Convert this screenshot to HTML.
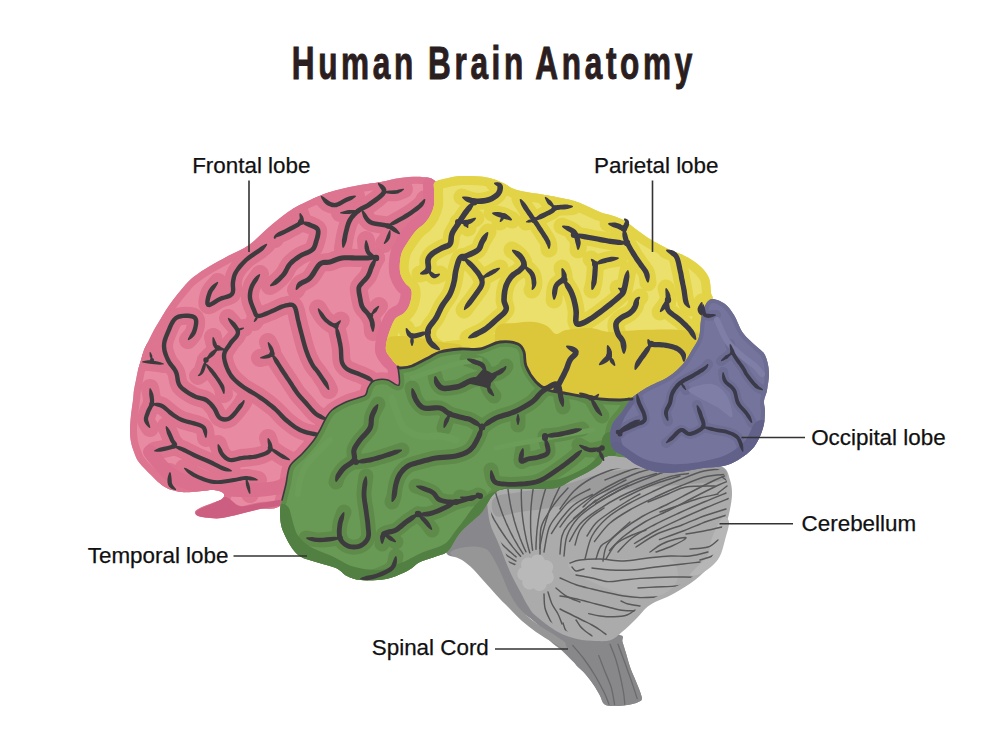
<!DOCTYPE html>
<html><head><meta charset="utf-8"><title>Human Brain Anatomy</title>
<style>
html,body{margin:0;padding:0;background:#fff;}
body{width:1000px;height:750px;overflow:hidden;position:relative;font-family:"Liberation Sans",sans-serif;}
svg{position:absolute;left:0;top:0;}
</style></head><body>
<svg width="1000" height="750" viewBox="0 0 1000 750">
<path d="M462.0,492.0 C452.3,495.3 454.7,510.0 452.0,520.0 C449.3,530.0 444.5,545.7 446.0,552.0 C447.5,558.3 456.5,555.7 461.0,558.0 C465.5,560.3 469.0,562.5 473.0,566.0 C477.0,569.5 480.8,574.5 485.0,579.0 C489.2,583.5 493.5,588.5 498.0,593.0 C502.5,597.5 507.2,602.2 512.0,606.0 C516.8,609.8 522.5,612.7 527.0,616.0 C531.5,619.3 535.2,621.8 539.0,626.0 C542.8,630.2 546.3,637.0 550.0,641.0 C553.7,645.0 557.5,646.6 561.3,650.0 C565.1,653.4 568.9,657.5 572.7,661.3 C576.5,665.1 580.6,668.8 584.0,672.6 C587.4,676.4 590.4,680.2 593.0,684.0 C595.6,687.8 597.9,691.8 599.8,695.2 C601.7,698.6 602.1,702.5 604.4,704.3 C606.7,706.1 609.6,705.9 613.4,706.0 C617.2,706.1 622.8,705.7 627.0,705.0 C631.2,704.3 635.9,703.2 638.4,702.0 C640.9,700.8 642.2,700.9 641.8,697.5 C641.4,694.1 637.9,686.5 636.0,681.6 C634.1,676.7 632.1,672.7 630.4,668.0 C628.7,663.3 627.3,657.6 626.0,653.3 C624.7,649.0 623.5,645.0 622.5,642.0 C621.5,639.0 624.0,638.0 620.2,635.2 C616.5,632.4 613.4,637.5 600.0,625.0 C586.6,612.5 555.0,580.8 540.0,560.0 C525.0,539.2 523.0,511.3 510.0,500.0 C497.0,488.7 471.7,488.7 462.0,492.0Z" fill="#88878c" />
<path d="M452.0,551.0 C453.5,549.8 456.3,548.8 460.0,548.0 C463.7,547.2 469.7,546.3 474.0,546.5 C478.3,546.7 483.0,547.4 486.0,549.0 C489.0,550.6 490.0,553.0 492.0,556.0 C494.0,559.0 496.2,563.3 498.0,567.0 C499.8,570.7 501.3,574.2 503.0,578.0 C504.7,581.8 505.8,585.7 508.0,590.0 C510.2,594.3 513.0,599.8 516.0,604.0 C519.0,608.2 522.0,611.3 526.0,615.0 C530.0,618.7 535.0,622.5 540.0,626.0 C545.0,629.5 551.3,632.8 556.0,636.0 C560.7,639.2 566.3,642.7 568.0,645.0 C569.7,647.3 568.7,650.5 566.0,650.0 C563.3,649.5 557.0,645.0 552.0,642.0 C547.0,639.0 541.0,635.5 536.0,632.0 C531.0,628.5 526.3,624.8 522.0,621.0 C517.7,617.2 513.7,612.7 510.0,609.0 C506.3,605.3 503.2,602.3 500.0,599.0 C496.8,595.7 494.0,592.3 491.0,589.0 C488.0,585.7 485.0,582.3 482.0,579.0 C479.0,575.7 476.3,572.2 473.0,569.0 C469.7,565.8 465.7,562.3 462.0,560.0 C458.3,557.7 452.7,556.5 451.0,555.0 C449.3,553.5 450.5,552.2 452.0,551.0Z" fill="#969697" />
<path d="M566.0,640.0 C568.7,636.5 581.0,641.8 590.0,641.0 C599.0,640.2 614.8,635.0 620.2,635.2 C625.6,635.4 621.5,639.0 622.5,642.0 C623.5,645.0 624.7,649.0 626.0,653.3 C627.3,657.6 628.7,663.3 630.4,668.0 C632.1,672.7 634.1,676.7 636.0,681.6 C637.9,686.5 641.4,694.1 641.8,697.5 C642.2,700.9 640.9,700.8 638.4,702.0 C635.9,703.2 631.2,704.3 627.0,705.0 C622.8,705.7 617.2,706.1 613.4,706.0 C609.6,705.9 606.7,706.1 604.4,704.3 C602.1,702.5 601.7,698.6 599.8,695.2 C597.9,691.8 595.6,687.8 593.0,684.0 C590.4,680.2 587.2,676.3 584.0,672.6 C580.8,668.9 577.0,667.4 574.0,662.0 C571.0,656.6 563.3,643.5 566.0,640.0Z" fill="#88888a" />
<path d="M488.0,480.0 C493.5,475.0 508.0,473.0 520.0,470.0 C532.0,467.0 546.0,465.0 560.0,462.0 C574.0,459.0 590.7,452.7 604.0,452.0 C617.3,451.3 624.0,456.0 640.0,458.0 C656.0,460.0 686.2,462.5 700.0,464.0 C713.8,465.5 718.0,464.3 723.0,467.0 C728.0,469.7 728.5,475.3 730.0,480.0 C731.5,484.7 732.2,489.3 732.0,495.0 C731.8,500.7 730.2,508.5 729.0,514.0 C727.8,519.5 726.5,522.7 725.0,528.0 C723.5,533.3 722.2,540.2 720.0,546.0 C717.8,551.8 716.2,557.3 712.0,563.0 C707.8,568.7 701.5,574.8 695.0,580.0 C688.5,585.2 680.5,589.8 673.0,594.0 C665.5,598.2 656.2,600.8 650.0,605.0 C643.8,609.2 640.7,614.5 636.0,619.0 C631.3,623.5 626.2,628.5 622.0,632.0 C617.8,635.5 615.3,638.5 611.0,640.0 C606.7,641.5 601.7,641.2 596.0,641.0 C590.3,640.8 583.3,640.5 577.0,639.0 C570.7,637.5 564.8,635.8 558.0,632.0 C551.2,628.2 541.0,620.3 536.0,616.0 C531.0,611.7 530.5,609.8 528.0,606.0 C525.5,602.2 523.3,597.3 521.0,593.0 C518.7,588.7 516.2,584.3 514.0,580.0 C511.8,575.7 510.0,571.7 508.0,567.0 C506.0,562.3 503.8,556.5 502.0,552.0 C500.2,547.5 499.0,544.8 497.0,540.0 C495.0,535.2 491.7,529.7 490.0,523.0 C488.3,516.3 487.3,507.2 487.0,500.0 C486.7,492.8 482.5,485.0 488.0,480.0Z" fill="#ababab" />
<path d="M494.0,498.0 C498.0,494.0 509.0,494.0 520.0,492.0 C531.0,490.0 546.7,489.0 560.0,486.0 C573.3,483.0 586.7,477.0 600.0,474.0 C613.3,471.0 623.3,469.0 640.0,468.0 C656.7,467.0 686.2,468.0 700.0,468.0 C713.8,468.0 719.0,466.0 723.0,468.0 C727.0,470.0 729.5,477.3 724.0,480.0 C718.5,482.7 704.0,482.7 690.0,484.0 C676.0,485.3 655.0,486.3 640.0,488.0 C625.0,489.7 613.3,491.0 600.0,494.0 C586.7,497.0 573.3,503.0 560.0,506.0 C546.7,509.0 530.7,510.3 520.0,512.0 C509.3,513.7 500.3,518.3 496.0,516.0 C491.7,513.7 490.0,502.0 494.0,498.0Z" fill="#9c9c9d" />
<path d="M570.0,561.0 C573.3,558.8 583.0,558.3 592.0,558.0 C601.0,557.7 613.3,559.2 624.0,559.0 C634.7,558.8 648.0,556.8 656.0,557.0 C664.0,557.2 668.3,557.0 672.0,560.0 C675.7,563.0 678.0,570.3 678.0,575.0 C678.0,579.7 675.7,584.5 672.0,588.0 C668.3,591.5 664.0,595.0 656.0,596.0 C648.0,597.0 634.7,596.3 624.0,594.0 C613.3,591.7 600.7,585.8 592.0,582.0 C583.3,578.2 575.7,574.5 572.0,571.0 C568.3,567.5 566.7,563.2 570.0,561.0Z" fill="#b1b1b1" />
<path d="M722.0,518.0 C724.8,515.3 728.5,518.3 729.0,522.0 C729.5,525.7 726.5,534.3 725.0,540.0 C723.5,545.7 722.2,551.7 720.0,556.0 C717.8,560.3 715.3,563.0 712.0,566.0 C708.7,569.0 703.7,572.5 700.0,574.0 C696.3,575.5 690.3,576.3 690.0,575.0 C689.7,573.7 695.0,569.3 698.0,566.0 C701.0,562.7 705.7,559.7 708.0,555.0 C710.3,550.3 709.7,544.2 712.0,538.0 C714.3,531.8 719.2,520.7 722.0,518.0Z" fill="#b6b6b6" />
<g fill="#b9b9b9"><circle cx="536" cy="573" r="11"/><circle cx="537.7" cy="561.6" r="7.2"/><circle cx="546.0" cy="567.3" r="7.2"/><circle cx="546.7" cy="577.2" r="7.2"/><circle cx="539.4" cy="584.0" r="7.2"/><circle cx="529.5" cy="582.5" r="7.2"/><circle cx="524.5" cy="573.9" r="7.2"/><circle cx="528.2" cy="564.6" r="7.2"/></g>
<clipPath id="cbclip"><path d="M488.0,494.0 C493.0,490.8 508.0,488.3 520.0,486.0 C532.0,483.7 546.0,482.7 560.0,480.0 C574.0,477.3 590.7,472.0 604.0,470.0 C617.3,468.0 624.0,468.3 640.0,468.0 C656.0,467.7 686.7,467.7 700.0,468.0 C713.3,468.3 715.5,467.7 720.0,470.0 C724.5,472.3 725.5,477.8 727.0,482.0 C728.5,486.2 729.2,489.7 729.0,495.0 C728.8,500.3 727.2,508.5 726.0,514.0 C724.8,519.5 723.5,522.7 722.0,528.0 C720.5,533.3 719.2,540.5 717.0,546.0 C714.8,551.5 713.2,555.8 709.0,561.0 C704.8,566.2 698.5,572.2 692.0,577.0 C685.5,581.8 677.5,585.8 670.0,590.0 C662.5,594.2 653.2,597.7 647.0,602.0 C640.8,606.3 637.5,611.7 633.0,616.0 C628.5,620.3 623.8,624.7 620.0,628.0 C616.2,631.3 614.0,634.5 610.0,636.0 C606.0,637.5 601.3,637.2 596.0,637.0 C590.7,636.8 584.0,636.5 578.0,635.0 C572.0,633.5 566.3,631.5 560.0,628.0 C553.7,624.5 544.8,617.8 540.0,614.0 C535.2,610.2 533.7,608.5 531.0,605.0 C528.3,601.5 526.3,597.2 524.0,593.0 C521.7,588.8 519.2,584.3 517.0,580.0 C514.8,575.7 513.0,571.7 511.0,567.0 C509.0,562.3 506.8,556.5 505.0,552.0 C503.2,547.5 502.0,544.8 500.0,540.0 C498.0,535.2 494.7,528.8 493.0,523.0 C491.3,517.2 490.8,509.8 490.0,505.0 C489.2,500.2 483.0,497.2 488.0,494.0Z"/></clipPath>
<g clip-path="url(#cbclip)" fill="none" stroke="#58585a" stroke-width="1.45" stroke-linecap="round">
<path d="M514.9,564.5 L512.2,563.3 L509.4,562.1 L506.7,560.9 L504.0,559.6 L501.3,558.3 L498.6,556.9 L496.0,555.5 L493.3,554.1 L490.7,552.6 L488.1,551.1 L485.6,549.5 L483.0,547.9 L480.5,546.3 L478.0,544.6 L475.6,542.9 L473.1,541.2 L470.7,539.4 L468.3,537.6 L465.9,535.7 L463.6,533.9 L461.3,531.9 L459.0,530.0 L456.8,528.0 L454.5,526.0 L452.3,524.0 L450.2,521.9 L448.0,519.8 L445.9,517.6 L443.9,515.5 L441.8,513.3 L439.8,511.0 L437.8,508.8 L435.9,506.5 L434.0,504.2 L432.1,501.8 L430.3,499.4"/>
<path d="M515.9,561.1 L513.3,559.6 L510.8,558.0 L508.3,556.4 L505.8,554.7 L503.3,553.0 L500.9,551.2 L498.4,549.4 L496.1,547.6 L493.7,545.8 L491.4,543.9 L489.0,542.0 L486.8,540.0 L484.5,538.0 L482.3,536.0 L480.1,534.0 L478.0,531.9 L475.8,529.8 L473.7,527.6 L471.7,525.5 L469.6,523.3 L467.6,521.0 L465.7,518.8 L463.7,516.5 L461.8,514.2 L459.9,511.8 L458.1,509.4 L456.3,507.0 L454.6,504.6 L452.8,502.1 L451.1,499.7 L449.5,497.2 L447.9,494.6 L446.3,492.1 L444.7,489.5 L443.2,486.9 L441.8,484.3"/>
<path d="M516.1,556.9 L513.8,555.0 L511.6,553.0 L509.3,551.1 L507.1,549.0 L504.9,547.0 L502.8,544.9 L500.6,542.8 L498.5,540.6 L496.5,538.5 L494.4,536.2 L492.5,534.0 L490.5,531.7 L488.6,529.4 L486.7,527.1 L484.8,524.8 L483.0,522.4 L481.2,520.0 L479.4,517.6 L477.7,515.1 L476.0,512.6 L474.4,510.1 L472.7,507.6 L471.2,505.0 L469.6,502.5 L468.1,499.9 L466.7,497.2 L465.2,494.6 L463.9,491.9 L462.5,489.3 L461.2,486.6 L459.9,483.8 L458.7,481.1 L457.5,478.3 L456.4,475.6 L455.3,472.8 L454.2,470.0"/>
<path d="M520.6,556.2 L518.6,554.0 L516.6,551.7 L514.7,549.4 L512.8,547.1 L511.0,544.7 L509.1,542.3 L507.4,539.9 L505.6,537.5 L503.9,535.0 L502.2,532.5 L500.6,530.0 L498.9,527.5 L497.4,524.9 L495.8,522.4 L494.3,519.8 L492.9,517.1 L491.5,514.5 L490.1,511.8 L488.7,509.1 L487.4,506.4 L486.2,503.7 L485.0,501.0 L483.8,498.2 L482.6,495.4 L481.5,492.7 L480.5,489.9 L479.5,487.0 L478.5,484.2 L477.6,481.3 L476.7,478.5 L475.8,475.6 L475.0,472.7 L474.2,469.8 L473.5,466.9 L472.8,464.0 L472.2,461.0"/>
<path d="M523.1,553.9 L521.5,551.4 L519.9,548.8 L518.3,546.3 L516.8,543.7 L515.3,541.1 L513.8,538.5 L512.4,535.8 L511.0,533.2 L509.7,530.5 L508.4,527.8 L507.2,525.1 L505.9,522.3 L504.8,519.5 L503.6,516.8 L502.5,514.0 L501.5,511.2 L500.5,508.3 L499.5,505.5 L498.6,502.7 L497.7,499.8 L496.8,496.9 L496.0,494.0 L495.3,491.1 L494.5,488.2 L493.9,485.3 L493.2,482.3 L492.7,479.4 L492.1,476.5 L491.6,473.5 L491.1,470.5 L490.7,467.6 L490.4,464.6 L490.0,461.6 L489.7,458.6 L489.5,455.6 L489.3,452.6"/>
<path d="M525.9,551.8 L524.6,549.0 L523.4,546.3 L522.2,543.5 L521.1,540.8 L520.0,538.0 L519.0,535.1 L518.0,532.3 L517.0,529.5 L516.1,526.6 L515.2,523.8 L514.3,520.9 L513.6,518.0 L512.8,515.1 L512.1,512.2 L511.4,509.2 L510.8,506.3 L510.2,503.4 L509.7,500.4 L509.2,497.5 L508.7,494.5 L508.3,491.5 L507.9,488.5 L507.6,485.6 L507.3,482.6 L507.1,479.6 L506.9,476.6 L506.8,473.6 L506.7,470.6 L506.6,467.6 L506.6,464.6 L506.6,461.6 L506.7,458.6 L506.8,455.6 L507.0,452.6 L507.2,449.6 L507.4,446.6"/>
<path d="M529.8,552.8 L529.0,549.9 L528.2,547.0 L527.5,544.1 L526.7,541.2 L526.1,538.3 L525.5,535.4 L524.9,532.4 L524.3,529.5 L523.9,526.5 L523.4,523.5 L523.0,520.6 L522.6,517.6 L522.3,514.6 L522.0,511.6 L521.8,508.6 L521.6,505.6 L521.5,502.6 L521.4,499.6 L521.3,496.6 L521.3,493.6 L521.4,490.6 L521.4,487.6 L521.6,484.6 L521.7,481.6 L521.9,478.7 L522.2,475.7 L522.5,472.7 L522.8,469.7 L523.2,466.7 L523.6,463.8 L524.1,460.8 L524.6,457.8 L525.2,454.9 L525.8,451.9 L526.4,449.0 L527.1,446.1"/>
<path d="M532.6,550.2 L532.2,547.2 L531.8,544.2 L531.5,541.2 L531.3,538.3 L531.0,535.3 L530.8,532.3 L530.7,529.3 L530.6,526.3 L530.6,523.3 L530.6,520.3 L530.6,517.3 L530.7,514.3 L530.8,511.3 L531.0,508.3 L531.2,505.3 L531.5,502.3 L531.8,499.3 L532.1,496.3 L532.5,493.4 L532.9,490.4 L533.4,487.4 L533.9,484.5 L534.5,481.5 L535.1,478.6 L535.7,475.7 L536.4,472.7 L537.2,469.8 L537.9,466.9 L538.8,464.1 L539.6,461.2 L540.5,458.3 L541.5,455.5 L542.5,452.6 L543.5,449.8 L544.6,447.0 L545.7,444.2"/>
<path d="M536.0,549.2 L536.0,546.2 L536.1,543.2 L536.3,540.2 L536.4,537.2 L536.7,534.2 L536.9,531.3 L537.2,528.3 L537.6,525.3 L538.0,522.3 L538.4,519.3 L538.9,516.4 L539.4,513.4 L540.0,510.5 L540.6,507.5 L541.3,504.6 L542.0,501.7 L542.7,498.8 L543.5,495.9 L544.3,493.0 L545.2,490.1 L546.1,487.3 L547.0,484.4 L548.0,481.6 L549.1,478.8 L550.1,476.0 L551.2,473.2 L552.4,470.4 L553.6,467.7 L554.8,465.0 L556.1,462.2 L557.4,459.5 L558.8,456.9 L560.2,454.2 L561.6,451.6 L563.1,449.0 L564.6,446.4"/>
<path d="M539.7,548.5 L540.1,545.6 L540.7,542.6 L541.3,539.7 L541.9,536.7 L542.5,533.8 L543.2,530.9 L544.0,528.0 L544.8,525.1 L545.6,522.2 L546.5,519.3 L547.4,516.5 L548.3,513.6 L549.3,510.8 L550.4,508.0 L551.4,505.2 L552.6,502.4 L553.7,499.6 L554.9,496.9 L556.2,494.2 L557.5,491.4 L558.8,488.7 L560.1,486.1 L561.5,483.4 L563.0,480.8 L564.5,478.2 L566.0,475.6 L567.5,473.0 L569.1,470.5 L570.7,468.0 L572.4,465.5 L574.1,463.0 L575.8,460.5 L577.6,458.1 L579.4,455.7 L581.3,453.4 L583.1,451.0"/>
<path d="M560.0,509.0 C562.3,506.0 568.7,496.2 574.0,491.0 C579.3,485.8 585.3,481.7 592.0,478.0 C598.7,474.3 608.2,471.0 614.0,469.0 C619.8,467.0 624.8,466.5 627.0,466.0"/>
<path d="M560.0,527.0 C561.8,524.7 566.5,517.5 571.0,513.0 C575.5,508.5 581.0,504.3 587.0,500.0 C593.0,495.7 599.5,491.2 607.0,487.0 C614.5,482.8 624.2,478.2 632.0,475.0 C639.8,471.8 650.3,469.2 654.0,468.0"/>
<path d="M564.0,556.0 C564.5,552.7 564.7,542.3 567.0,536.0 C569.3,529.7 573.2,523.3 578.0,518.0 C582.8,512.7 589.3,508.5 596.0,504.0 C602.7,499.5 610.2,495.0 618.0,491.0 C625.8,487.0 634.7,483.3 643.0,480.0 C651.3,476.7 660.8,473.0 668.0,471.0 C675.2,469.0 683.0,468.5 686.0,468.0"/>
<path d="M585.0,559.0 C586.2,555.2 588.3,542.8 592.0,536.0 C595.7,529.2 601.0,523.3 607.0,518.0 C613.0,512.7 620.2,508.5 628.0,504.0 C635.8,499.5 645.5,495.0 654.0,491.0 C662.5,487.0 670.7,483.3 679.0,480.0 C687.3,476.7 696.8,472.8 704.0,471.0 C711.2,469.2 719.0,469.3 722.0,469.0"/>
<path d="M603.0,561.0 C603.7,558.3 604.0,550.0 607.0,545.0 C610.0,540.0 615.0,535.8 621.0,531.0 C627.0,526.2 635.2,520.5 643.0,516.0 C650.8,511.5 659.7,508.2 668.0,504.0 C676.3,499.8 685.2,495.0 693.0,491.0 C700.8,487.0 709.3,482.7 715.0,480.0 C720.7,477.3 725.0,475.8 727.0,475.0"/>
<path d="M618.0,552.0 C620.3,549.7 626.0,542.5 632.0,538.0 C638.0,533.5 646.2,529.2 654.0,525.0 C661.8,520.8 670.7,516.8 679.0,513.0 C687.3,509.2 696.2,505.3 704.0,502.0 C711.8,498.7 722.3,494.5 726.0,493.0"/>
<path d="M636.0,547.0 C639.5,544.8 649.3,537.7 657.0,534.0 C664.7,530.3 674.2,528.0 682.0,525.0 C689.8,522.0 696.7,518.7 704.0,516.0 C711.3,513.3 722.3,510.2 726.0,509.0"/>
<path d="M648.0,502.0 C651.3,500.7 661.7,496.5 668.0,494.0 C674.3,491.5 678.2,488.3 686.0,487.0 C693.8,485.7 710.2,486.2 715.0,486.0"/>
<path d="M686.0,534.0 C689.0,533.5 698.0,532.2 704.0,531.0 C710.0,529.8 719.0,527.7 722.0,527.0"/>
<path d="M690.0,549.0 C693.0,548.7 703.3,548.5 708.0,547.0 C712.7,545.5 716.3,541.2 718.0,540.0"/>
<path d="M605.0,480.0 C608.8,478.5 621.2,473.3 628.0,471.0 C634.8,468.7 643.0,466.8 646.0,466.0"/>
<path d="M718.0,493.0 C719.5,491.8 725.5,487.2 727.0,486.0"/>
<path d="M722.0,477.0 C723.2,477.8 727.8,481.2 729.0,482.0"/>
<path d="M544.0,552.0 C544.8,548.0 546.5,534.5 549.0,528.0 C551.5,521.5 555.2,517.8 559.0,513.0 C562.8,508.2 566.8,503.0 572.0,499.0 C577.2,495.0 587.0,490.7 590.0,489.0"/>
<path d="M583.0,507.0 C584.7,505.5 588.7,501.0 593.0,498.0 C597.3,495.0 603.5,492.0 609.0,489.0 C614.5,486.0 623.2,481.5 626.0,480.0"/>
<path d="M596.0,559.0 C596.8,556.8 598.5,549.3 601.0,546.0 C603.5,542.7 606.2,543.0 611.0,539.0 C615.8,535.0 626.8,524.8 630.0,522.0"/>
<path d="M650.0,552.0 C652.0,550.7 657.7,546.2 662.0,544.0 C666.3,541.8 672.0,540.0 676.0,539.0 C680.0,538.0 686.7,536.8 686.0,538.0 C685.3,539.2 677.0,543.7 672.0,546.0 C667.0,548.3 658.7,551.0 656.0,552.0"/>
<path d="M700.0,560.0 C702.0,559.3 708.3,557.8 712.0,556.0 C715.7,554.2 720.3,550.2 722.0,549.0"/>
<path d="M540.0,554.0 C540.2,549.7 539.5,535.0 541.0,528.0 C542.5,521.0 546.0,517.0 549.0,512.0 C552.0,507.0 555.8,502.0 559.0,498.0 C562.2,494.0 566.5,489.7 568.0,488.0"/>
<path d="M560.0,554.0 C560.3,551.0 560.7,540.8 562.0,536.0 C563.3,531.2 564.7,529.0 568.0,525.0 C571.3,521.0 577.3,516.2 582.0,512.0 C586.7,507.8 593.7,502.0 596.0,500.0"/>
<path d="M587.0,536.0 C588.5,533.8 592.3,526.8 596.0,523.0 C599.7,519.2 604.0,516.5 609.0,513.0 C614.0,509.5 620.8,505.2 626.0,502.0 C631.2,498.8 637.7,495.3 640.0,494.0"/>
<path d="M606.0,559.0 C607.7,556.5 612.0,547.8 616.0,544.0 C620.0,540.2 625.0,538.3 630.0,536.0 C635.0,533.7 643.3,531.0 646.0,530.0"/>
<path d="M575.0,545.0 C575.8,542.5 577.5,534.5 580.0,530.0 C582.5,525.5 586.0,521.7 590.0,518.0 C594.0,514.3 601.7,509.7 604.0,508.0"/>
<path d="M620.0,500.0 C623.3,498.3 633.3,493.0 640.0,490.0 C646.7,487.0 653.3,484.3 660.0,482.0 C666.7,479.7 676.7,477.0 680.0,476.0"/>
<path d="M660.0,512.0 C663.3,510.8 673.3,507.3 680.0,505.0 C686.7,502.7 693.7,499.8 700.0,498.0 C706.3,496.2 715.0,494.7 718.0,494.0"/>
<path d="M573.5,518.5 C576.2,516.3 583.5,509.8 589.5,505.5 C595.5,501.2 602.0,496.7 609.5,492.5 C617.0,488.3 626.7,483.7 634.5,480.5 C642.3,477.3 652.8,474.7 656.5,473.5"/>
<path d="M569.5,541.5 C571.3,538.5 575.7,528.8 580.5,523.5 C585.3,518.2 591.8,514.0 598.5,509.5 C605.2,505.0 612.7,500.5 620.5,496.5 C628.3,492.5 637.2,488.8 645.5,485.5 C653.8,482.2 663.3,478.5 670.5,476.5 C677.7,474.5 685.5,474.0 688.5,473.5"/>
<path d="M594.5,541.5 C597.0,538.5 603.5,528.8 609.5,523.5 C615.5,518.2 622.7,514.0 630.5,509.5 C638.3,505.0 648.0,500.5 656.5,496.5 C665.0,492.5 673.2,488.8 681.5,485.5 C689.8,482.2 699.3,478.3 706.5,476.5 C713.7,474.7 721.5,474.8 724.5,474.5"/>
<path d="M609.5,550.5 C611.8,548.2 617.5,541.3 623.5,536.5 C629.5,531.7 637.7,526.0 645.5,521.5 C653.3,517.0 662.2,513.7 670.5,509.5 C678.8,505.3 687.7,500.5 695.5,496.5 C703.3,492.5 711.8,488.2 717.5,485.5 C723.2,482.8 727.5,481.3 729.5,480.5"/>
<path d="M634.5,543.5 C638.2,541.3 648.7,534.7 656.5,530.5 C664.3,526.3 673.2,522.3 681.5,518.5 C689.8,514.7 698.7,510.8 706.5,507.5 C714.3,504.2 724.8,500.0 728.5,498.5"/>
<path d="M659.5,539.5 C663.7,538.0 676.7,533.5 684.5,530.5 C692.3,527.5 699.2,524.2 706.5,521.5 C713.8,518.8 724.8,515.7 728.5,514.5"/>
<path d="M551.5,533.5 C553.2,531.0 557.7,523.3 561.5,518.5 C565.3,513.7 569.3,508.5 574.5,504.5 C579.7,500.5 589.5,496.2 592.5,494.5"/>
<path d="M595.5,503.5 C598.2,502.0 606.0,497.5 611.5,494.5 C617.0,491.5 625.7,487.0 628.5,485.5"/>
<path d="M570.0,563.0 C571.7,562.5 575.0,560.7 580.0,560.0 C585.0,559.3 592.7,558.8 600.0,559.0 C607.3,559.2 616.0,561.2 624.0,561.0 C632.0,560.8 640.3,558.8 648.0,558.0 C655.7,557.2 663.0,556.3 670.0,556.0 C677.0,555.7 683.7,556.7 690.0,556.0 C696.3,555.3 705.0,552.7 708.0,552.0"/>
<path d="M572.0,567.0 C572.7,567.7 574.0,570.7 576.0,571.0 C578.0,571.3 582.7,569.3 584.0,569.0"/>
<path d="M592.0,568.0 C595.0,568.3 603.3,569.7 610.0,570.0 C616.7,570.3 624.3,570.5 632.0,570.0 C639.7,569.5 647.5,568.0 656.0,567.0 C664.5,566.0 675.7,564.8 683.0,564.0 C690.3,563.2 697.2,562.3 700.0,562.0"/>
<path d="M576.0,575.0 C578.7,575.5 586.7,576.9 592.0,578.0 C597.3,579.1 602.7,581.3 608.0,581.6 C613.3,581.9 618.7,580.5 624.0,580.0 C629.3,579.5 632.0,578.9 640.0,578.4 C648.0,577.9 662.2,577.2 672.0,577.0 C681.8,576.8 692.0,577.5 699.0,577.0 C706.0,576.5 711.5,574.5 714.0,574.0"/>
<path d="M638.0,588.0 C641.0,587.8 650.3,587.3 656.0,587.0 C661.7,586.7 665.3,587.0 672.0,586.4 C678.7,585.8 690.0,584.3 696.0,583.2 C702.0,582.1 706.0,580.5 708.0,580.0"/>
<path d="M560.0,578.0 C562.7,579.1 570.7,583.0 576.0,584.8 C581.3,586.6 586.7,587.7 592.0,589.0 C597.3,590.3 602.7,591.6 608.0,592.8 C613.3,594.0 618.7,595.2 624.0,596.0 C629.3,596.8 634.7,597.4 640.0,597.6 C645.3,597.8 650.7,597.3 656.0,597.0 C661.3,596.7 666.3,596.8 672.0,596.0 C677.7,595.2 687.0,592.7 690.0,592.0"/>
<path d="M560.0,596.0 C562.0,596.3 568.0,597.2 572.0,598.0 C576.0,598.8 580.0,599.8 584.0,600.8 C588.0,601.8 592.0,603.0 596.0,604.0 C600.0,605.0 604.0,606.0 608.0,607.0 C612.0,608.0 615.7,609.3 620.0,610.0 C624.3,610.7 631.7,610.8 634.0,611.0"/>
<path d="M560.0,609.0 C561.3,609.7 565.3,611.7 568.0,613.0 C570.7,614.3 573.3,615.7 576.0,617.0 C578.7,618.3 581.3,619.7 584.0,621.0 C586.7,622.3 589.3,623.5 592.0,625.0 C594.7,626.5 597.7,628.4 600.0,630.0 C602.3,631.6 605.0,633.7 606.0,634.4"/>
<path d="M576.0,620.0 C576.7,621.0 578.7,624.3 580.0,626.0 C581.3,627.7 582.0,628.3 584.0,630.0 C586.0,631.7 590.7,635.0 592.0,636.0"/>
<path d="M563.0,623.0 C563.5,624.3 564.5,628.8 566.0,631.0 C567.5,633.2 571.0,635.2 572.0,636.0"/>
<path d="M588.8,613.6 C590.7,614.0 595.8,615.5 600.0,616.0 C604.2,616.5 609.5,617.0 614.0,616.8 C618.5,616.6 623.5,616.1 627.0,615.0 C630.5,613.9 633.7,610.8 635.0,610.0"/>
<path d="M621.0,601.0 C622.2,601.5 624.8,603.2 628.0,604.0 C631.2,604.8 638.0,605.7 640.0,606.0"/>
<path d="M548.0,592.0 C548.7,594.0 550.3,600.3 552.0,604.0 C553.7,607.7 556.3,610.7 558.0,614.0 C559.7,617.3 561.3,622.3 562.0,624.0"/>
<path d="M544.0,594.0 C544.2,596.3 544.0,603.7 545.0,608.0 C546.0,612.3 548.2,616.3 550.0,620.0 C551.8,623.7 555.0,628.3 556.0,630.0"/>
<path d="M556.0,588.0 C557.7,589.3 562.0,593.7 566.0,596.0 C570.0,598.3 577.7,601.0 580.0,602.0"/>
</g>
<g fill="none" stroke="#6a6a6c" stroke-width="1.3" stroke-linecap="round">
<path d="M572.7,645.4 C574.6,647.7 580.2,653.9 584.0,659.0 C587.8,664.1 591.9,670.3 595.3,676.0 C598.7,681.7 602.1,688.3 604.4,693.0 C606.7,697.7 608.2,702.4 609.0,704.3"/>
<path d="M598.7,655.6 C599.7,658.0 602.3,665.0 604.4,670.3 C606.5,675.6 609.5,681.6 611.2,687.3 C612.9,693.0 614.0,701.5 614.6,704.3"/>
<path d="M610.0,644.3 C611.0,646.8 614.0,653.7 615.7,659.0 C617.4,664.3 618.9,670.3 620.2,676.0 C621.5,681.7 622.8,688.3 623.6,693.0 C624.4,697.7 624.6,702.4 624.8,704.3"/>
<path d="M618.0,644.3 C619.1,647.3 622.5,656.2 624.8,662.4 C627.1,668.6 629.5,675.6 631.6,681.6 C633.7,687.6 636.3,695.8 637.2,698.6"/>
</g>
<clipPath id="cp"><path d="M435.0,181.0 C430.3,177.2 427.8,177.5 422.0,177.0 C416.2,176.5 406.8,177.2 400.0,178.0 C393.2,178.8 388.5,180.7 381.0,182.0 C373.5,183.3 363.5,184.3 355.0,186.0 C346.5,187.7 337.8,189.5 330.0,192.0 C322.2,194.5 315.0,197.7 308.0,201.0 C301.0,204.3 294.7,207.5 288.0,212.0 C281.3,216.5 274.5,222.5 268.0,228.0 C261.5,233.5 255.7,240.3 249.0,245.0 C242.3,249.7 234.5,252.5 228.0,256.0 C221.5,259.5 214.8,263.2 210.0,266.0 C205.2,268.8 202.3,270.7 199.0,273.0 C195.7,275.3 193.0,277.2 190.0,280.0 C187.0,282.8 183.8,286.7 181.0,290.0 C178.2,293.3 175.5,296.7 173.0,300.0 C170.5,303.3 168.2,306.7 166.0,310.0 C163.8,313.3 162.0,316.7 160.0,320.0 C158.0,323.3 155.8,326.7 154.0,330.0 C152.2,333.3 150.7,336.7 149.0,340.0 C147.3,343.3 145.3,346.7 144.0,350.0 C142.7,353.3 142.0,356.7 141.0,360.0 C140.0,363.3 138.8,366.7 138.0,370.0 C137.2,373.3 136.7,376.7 136.0,380.0 C135.3,383.3 134.5,386.7 134.0,390.0 C133.5,393.3 133.5,395.8 133.0,400.0 C132.5,404.2 131.5,410.0 131.0,415.0 C130.5,420.0 130.0,425.5 130.0,430.0 C130.0,434.5 130.3,438.3 131.0,442.0 C131.7,445.7 132.8,448.8 134.0,452.0 C135.2,455.2 136.0,458.0 138.0,461.0 C140.0,464.0 143.7,467.5 146.0,470.0 C148.3,472.5 150.0,474.0 152.0,476.0 C154.0,478.0 155.8,480.2 158.0,482.0 C160.2,483.8 162.7,485.7 165.0,487.0 C167.3,488.3 169.2,489.2 172.0,490.0 C174.8,490.8 178.7,491.7 182.0,492.0 C185.3,492.3 188.7,492.2 192.0,492.0 C195.3,491.8 198.7,491.3 202.0,491.0 C205.3,490.7 209.2,490.0 212.0,490.0 C214.8,490.0 217.0,490.3 219.0,491.0 C221.0,491.7 223.5,492.7 224.0,494.0 C224.5,495.3 224.3,497.3 222.0,499.0 C219.7,500.7 213.7,502.5 210.0,504.0 C206.3,505.5 202.5,506.7 200.0,508.0 C197.5,509.3 195.3,510.7 195.0,512.0 C194.7,513.3 195.5,515.0 198.0,516.0 C200.5,517.0 206.0,517.7 210.0,518.0 C214.0,518.3 217.0,518.7 222.0,518.0 C227.0,517.3 233.7,515.5 240.0,514.0 C246.3,512.5 253.0,510.5 260.0,509.0 C267.0,507.5 270.3,511.5 282.0,505.0 C293.7,498.5 307.0,489.2 330.0,470.0 C353.0,450.8 400.0,418.3 420.0,390.0 C440.0,361.7 445.0,331.7 450.0,300.0 C455.0,268.3 452.5,219.8 450.0,200.0 C447.5,180.2 439.7,184.8 435.0,181.0Z"/></clipPath>
<path d="M435.0,181.0 C430.3,177.2 427.8,177.5 422.0,177.0 C416.2,176.5 406.8,177.2 400.0,178.0 C393.2,178.8 388.5,180.7 381.0,182.0 C373.5,183.3 363.5,184.3 355.0,186.0 C346.5,187.7 337.8,189.5 330.0,192.0 C322.2,194.5 315.0,197.7 308.0,201.0 C301.0,204.3 294.7,207.5 288.0,212.0 C281.3,216.5 274.5,222.5 268.0,228.0 C261.5,233.5 255.7,240.3 249.0,245.0 C242.3,249.7 234.5,252.5 228.0,256.0 C221.5,259.5 214.8,263.2 210.0,266.0 C205.2,268.8 202.3,270.7 199.0,273.0 C195.7,275.3 193.0,277.2 190.0,280.0 C187.0,282.8 183.8,286.7 181.0,290.0 C178.2,293.3 175.5,296.7 173.0,300.0 C170.5,303.3 168.2,306.7 166.0,310.0 C163.8,313.3 162.0,316.7 160.0,320.0 C158.0,323.3 155.8,326.7 154.0,330.0 C152.2,333.3 150.7,336.7 149.0,340.0 C147.3,343.3 145.3,346.7 144.0,350.0 C142.7,353.3 142.0,356.7 141.0,360.0 C140.0,363.3 138.8,366.7 138.0,370.0 C137.2,373.3 136.7,376.7 136.0,380.0 C135.3,383.3 134.5,386.7 134.0,390.0 C133.5,393.3 133.5,395.8 133.0,400.0 C132.5,404.2 131.5,410.0 131.0,415.0 C130.5,420.0 130.0,425.5 130.0,430.0 C130.0,434.5 130.3,438.3 131.0,442.0 C131.7,445.7 132.8,448.8 134.0,452.0 C135.2,455.2 136.0,458.0 138.0,461.0 C140.0,464.0 143.7,467.5 146.0,470.0 C148.3,472.5 150.0,474.0 152.0,476.0 C154.0,478.0 155.8,480.2 158.0,482.0 C160.2,483.8 162.7,485.7 165.0,487.0 C167.3,488.3 169.2,489.2 172.0,490.0 C174.8,490.8 178.7,491.7 182.0,492.0 C185.3,492.3 188.7,492.2 192.0,492.0 C195.3,491.8 198.7,491.3 202.0,491.0 C205.3,490.7 209.2,490.0 212.0,490.0 C214.8,490.0 217.0,490.3 219.0,491.0 C221.0,491.7 223.5,492.7 224.0,494.0 C224.5,495.3 224.3,497.3 222.0,499.0 C219.7,500.7 213.7,502.5 210.0,504.0 C206.3,505.5 202.5,506.7 200.0,508.0 C197.5,509.3 195.3,510.7 195.0,512.0 C194.7,513.3 195.5,515.0 198.0,516.0 C200.5,517.0 206.0,517.7 210.0,518.0 C214.0,518.3 217.0,518.7 222.0,518.0 C227.0,517.3 233.7,515.5 240.0,514.0 C246.3,512.5 253.0,510.5 260.0,509.0 C267.0,507.5 270.3,511.5 282.0,505.0 C293.7,498.5 307.0,489.2 330.0,470.0 C353.0,450.8 400.0,418.3 420.0,390.0 C440.0,361.7 445.0,331.7 450.0,300.0 C455.0,268.3 452.5,219.8 450.0,200.0 C447.5,180.2 439.7,184.8 435.0,181.0Z" fill="#e98aa3"/>
<g clip-path="url(#cp)" fill="none" stroke="#dd7490" stroke-linecap="round" stroke-linejoin="round">
<path d="M435.0,181.0 C430.3,177.2 427.8,177.5 422.0,177.0 C416.2,176.5 406.8,177.2 400.0,178.0 C393.2,178.8 388.5,180.7 381.0,182.0 C373.5,183.3 363.5,184.3 355.0,186.0 C346.5,187.7 337.8,189.5 330.0,192.0 C322.2,194.5 315.0,197.7 308.0,201.0 C301.0,204.3 294.7,207.5 288.0,212.0 C281.3,216.5 274.5,222.5 268.0,228.0 C261.5,233.5 255.7,240.3 249.0,245.0 C242.3,249.7 234.5,252.5 228.0,256.0 C221.5,259.5 214.8,263.2 210.0,266.0 C205.2,268.8 202.3,270.7 199.0,273.0 C195.7,275.3 193.0,277.2 190.0,280.0 C187.0,282.8 183.8,286.7 181.0,290.0 C178.2,293.3 175.5,296.7 173.0,300.0 C170.5,303.3 168.2,306.7 166.0,310.0 C163.8,313.3 162.0,316.7 160.0,320.0 C158.0,323.3 155.8,326.7 154.0,330.0 C152.2,333.3 150.7,336.7 149.0,340.0 C147.3,343.3 145.3,346.7 144.0,350.0 C142.7,353.3 142.0,356.7 141.0,360.0 C140.0,363.3 138.8,366.7 138.0,370.0 C137.2,373.3 136.7,376.7 136.0,380.0 C135.3,383.3 134.5,386.7 134.0,390.0 C133.5,393.3 133.5,395.8 133.0,400.0 C132.5,404.2 131.5,410.0 131.0,415.0 C130.5,420.0 130.0,425.5 130.0,430.0 C130.0,434.5 130.3,438.3 131.0,442.0 C131.7,445.7 132.8,448.8 134.0,452.0 C135.2,455.2 136.0,458.0 138.0,461.0 C140.0,464.0 143.7,467.5 146.0,470.0 C148.3,472.5 150.0,474.0 152.0,476.0 C154.0,478.0 155.8,480.2 158.0,482.0 C160.2,483.8 162.7,485.7 165.0,487.0 C167.3,488.3 169.2,489.2 172.0,490.0 C174.8,490.8 178.7,491.7 182.0,492.0 C185.3,492.3 188.7,492.2 192.0,492.0 C195.3,491.8 198.7,491.3 202.0,491.0 C205.3,490.7 209.2,490.0 212.0,490.0 C214.8,490.0 217.0,490.3 219.0,491.0 C221.0,491.7 223.5,492.7 224.0,494.0 C224.5,495.3 224.3,497.3 222.0,499.0 C219.7,500.7 213.7,502.5 210.0,504.0 C206.3,505.5 202.5,506.7 200.0,508.0 C197.5,509.3 195.3,510.7 195.0,512.0 C194.7,513.3 195.5,515.0 198.0,516.0 C200.5,517.0 206.0,517.7 210.0,518.0 C214.0,518.3 217.0,518.7 222.0,518.0 C227.0,517.3 233.7,515.5 240.0,514.0 C246.3,512.5 253.0,510.5 260.0,509.0 C267.0,507.5 270.3,511.5 282.0,505.0 C293.7,498.5 307.0,489.2 330.0,470.0 C353.0,450.8 400.0,418.3 420.0,390.0 C440.0,361.7 445.0,331.7 450.0,300.0 C455.0,268.3 452.5,219.8 450.0,200.0 C447.5,180.2 439.7,184.8 435.0,181.0Z" stroke-width="14"/>
<path d="M435.0,182.0 C437.3,180.0 443.7,179.0 448.0,178.0 C452.3,177.0 454.8,176.2 461.0,176.0 C467.2,175.8 478.0,175.8 485.0,177.0 C492.0,178.2 497.7,180.8 503.0,183.0 C508.3,185.2 510.0,188.0 517.0,190.0 C524.0,192.0 536.8,193.5 545.0,195.0 C553.2,196.5 560.2,197.7 566.0,199.0 C571.8,200.3 574.3,200.8 580.0,203.0 C585.7,205.2 594.7,209.9 600.0,212.0 C605.3,214.1 608.0,214.1 612.0,215.5 C616.0,216.9 620.2,218.2 624.0,220.4 C627.8,222.6 631.3,225.7 635.0,228.4 C638.7,231.1 642.3,234.0 646.0,236.4 C649.7,238.8 652.7,240.6 657.0,243.0 C661.3,245.4 666.8,248.4 672.0,250.8 C677.2,253.2 683.2,254.8 688.0,257.5 C692.8,260.2 697.5,263.6 701.0,267.0 C704.5,270.4 707.3,273.7 709.0,278.0 C710.7,282.3 710.5,288.5 711.0,293.0 C711.5,297.5 713.8,293.8 712.0,305.0 C710.2,316.2 712.0,344.2 700.0,360.0 C688.0,375.8 663.3,394.2 640.0,400.0 C616.7,405.8 588.3,401.7 560.0,395.0 C531.7,388.3 490.0,367.2 470.0,360.0 C450.0,352.8 447.0,352.3 440.0,352.0 C433.0,351.7 432.0,355.9 428.0,358.0 C424.0,360.1 419.6,363.1 416.0,364.5 C412.4,365.9 409.7,366.2 406.7,366.4 C403.7,366.6 400.6,366.9 398.0,365.5 C395.4,364.1 392.8,360.6 390.8,358.0 C388.8,355.4 386.6,353.0 386.0,350.0 C385.4,347.0 386.5,342.8 387.0,340.0 C387.5,337.2 388.2,335.5 389.0,333.0 C389.8,330.5 390.8,327.5 392.0,325.0 C393.2,322.5 394.1,319.9 396.0,318.0 C397.9,316.1 401.3,315.6 403.5,313.6 C405.7,311.6 407.7,308.9 409.0,306.0 C410.3,303.1 411.2,298.9 411.5,296.0 C411.8,293.1 411.9,290.9 410.8,288.7 C409.7,286.5 406.7,285.2 405.0,282.8 C403.3,280.4 401.4,277.2 400.5,274.0 C399.6,270.8 399.6,267.4 399.8,263.7 C400.1,260.0 400.6,255.7 402.0,252.0 C403.4,248.3 405.6,245.4 408.0,241.7 C410.4,238.0 414.0,232.9 416.7,230.0 C419.4,227.1 421.8,226.3 424.0,224.0 C426.2,221.7 428.3,219.2 430.0,216.0 C431.7,212.8 433.3,209.3 434.0,205.0 C434.7,200.7 433.8,193.8 434.0,190.0 C434.2,186.2 432.7,184.0 435.0,182.0Z" stroke-width="14"/>
<path d="M398.0,367.0 C398.2,364.2 397.7,368.2 400.0,368.0 C402.3,367.8 407.3,367.7 412.0,366.0 C416.7,364.3 423.3,360.3 428.0,358.0 C432.7,355.7 434.7,353.5 440.0,352.0 C445.3,350.5 453.3,349.5 460.0,349.0 C466.7,348.5 473.3,350.2 480.0,349.0 C486.7,347.8 493.7,342.8 500.0,342.0 C506.3,341.2 514.0,342.3 518.0,344.0 C522.0,345.7 522.7,348.3 524.0,352.0 C525.3,355.7 524.0,361.0 526.0,366.0 C528.0,371.0 532.3,378.0 536.0,382.0 C539.7,386.0 543.3,388.2 548.0,390.0 C552.7,391.8 558.7,392.0 564.0,393.0 C569.3,394.0 574.0,395.0 580.0,396.0 C586.0,397.0 593.3,398.3 600.0,399.0 C606.7,399.7 614.7,400.0 620.0,400.0 C625.3,400.0 627.8,395.7 632.0,399.0 C636.2,402.3 643.7,410.7 645.0,420.0 C646.3,429.3 646.2,449.0 640.0,455.0 C633.8,461.0 614.7,454.5 608.0,456.0 C601.3,457.5 603.3,461.3 600.0,464.0 C596.7,466.7 592.7,469.3 588.0,472.0 C583.3,474.7 577.3,477.3 572.0,480.0 C566.7,482.7 563.0,486.5 556.0,488.0 C549.0,489.5 538.7,488.8 530.0,489.0 C521.3,489.2 510.2,488.0 504.0,489.0 C497.8,490.0 496.7,491.2 493.0,495.0 C489.3,498.8 485.8,507.3 482.0,512.0 C478.2,516.7 473.8,519.3 470.0,523.0 C466.2,526.7 462.7,529.3 459.0,534.0 C455.3,538.7 451.7,547.3 448.0,551.0 C444.3,554.7 441.7,554.2 437.0,556.0 C432.3,557.8 424.2,560.0 420.0,562.0 C415.8,564.0 414.8,566.2 412.0,568.0 C409.2,569.8 407.3,571.2 403.0,573.0 C398.7,574.8 393.0,577.8 386.0,579.0 C379.0,580.2 367.5,580.5 361.0,580.0 C354.5,579.5 351.2,578.0 347.0,576.0 C342.8,574.0 341.2,570.3 336.0,568.0 C330.8,565.7 322.5,564.3 316.0,562.0 C309.5,559.7 302.5,559.2 297.0,554.0 C291.5,548.8 285.8,538.0 283.0,531.0 C280.2,524.0 280.2,517.2 280.0,512.0 C279.8,506.8 281.0,504.7 282.0,500.0 C283.0,495.3 284.7,489.7 286.0,484.0 C287.3,478.3 287.3,471.0 290.0,466.0 C292.7,461.0 298.0,458.3 302.0,454.0 C306.0,449.7 311.0,444.0 314.0,440.0 C317.0,436.0 318.0,433.7 320.0,430.0 C322.0,426.3 324.0,421.3 326.0,418.0 C328.0,414.7 328.7,412.7 332.0,410.0 C335.3,407.3 341.7,404.0 346.0,402.0 C350.3,400.0 354.8,399.2 358.0,398.0 C361.2,396.8 363.8,396.7 365.5,395.0 C367.2,393.3 366.9,390.2 368.0,388.0 C369.1,385.8 370.2,383.4 372.0,382.0 C373.8,380.6 376.3,379.8 379.0,379.5 C381.7,379.2 384.7,379.1 388.0,380.0 C391.3,380.9 397.3,387.2 399.0,385.0 C400.7,382.8 397.8,369.8 398.0,367.0Z" stroke-width="14"/>
<path d="M321.0,196.0 C322.2,197.2 325.5,201.5 328.0,203.0 C330.5,204.5 333.0,205.5 336.0,205.0 C339.0,204.5 342.7,201.5 346.0,200.0 C349.3,198.5 354.3,196.7 356.0,196.0" stroke-width="18"/>
<path d="M378.0,183.0 C379.0,184.5 385.3,188.5 384.0,192.0 C382.7,195.5 374.3,200.8 370.0,204.0 C365.7,207.2 361.3,208.3 358.0,211.0 C354.7,213.7 352.0,216.5 350.0,220.0 C348.0,223.5 347.2,227.3 346.0,232.0 C344.8,236.7 343.5,245.3 343.0,248.0" stroke-width="18"/>
<path d="M384.0,192.0 C386.0,192.0 392.7,192.5 396.0,192.0 C399.3,191.5 402.7,189.5 404.0,189.0" stroke-width="18"/>
<path d="M358.0,211.0 C355.0,211.3 343.0,212.7 340.0,213.0" stroke-width="18"/>
<path d="M362.0,210.0 C363.3,212.0 365.7,219.3 370.0,222.0 C374.3,224.7 383.0,224.0 388.0,226.0 C393.0,228.0 398.0,232.7 400.0,234.0" stroke-width="18"/>
<path d="M388.0,226.0 C391.0,224.3 400.7,219.3 406.0,216.0 C411.3,212.7 416.8,208.8 420.0,206.0 C423.2,203.2 424.2,200.2 425.0,199.0" stroke-width="18"/>
<path d="M390.0,230.0 C389.7,231.3 389.0,235.7 388.0,238.0 C387.0,240.3 384.7,243.0 384.0,244.0" stroke-width="18"/>
<path d="M300.0,213.0 C300.2,214.5 303.0,219.2 301.0,222.0 C299.0,224.8 292.2,227.7 288.0,230.0 C283.8,232.3 278.2,234.5 276.0,236.0 C273.8,237.5 275.2,238.5 275.0,239.0" stroke-width="18"/>
<path d="M301.0,222.0 C302.5,222.5 307.2,223.7 310.0,225.0 C312.8,226.3 317.0,227.2 318.0,230.0 C319.0,232.8 317.0,238.7 316.0,242.0 C315.0,245.3 314.7,247.7 312.0,250.0 C309.3,252.3 303.7,253.7 300.0,256.0 C296.3,258.3 292.7,261.0 290.0,264.0 C287.3,267.0 286.3,271.0 284.0,274.0 C281.7,277.0 278.3,280.0 276.0,282.0 C273.7,284.0 271.0,285.3 270.0,286.0" stroke-width="18"/>
<path d="M267.0,244.0 C265.8,245.0 263.5,247.3 260.0,250.0 C256.5,252.7 250.0,256.3 246.0,260.0 C242.0,263.7 238.2,268.3 236.0,272.0 C233.8,275.7 233.7,278.3 233.0,282.0 C232.3,285.7 234.2,291.2 232.0,294.0 C229.8,296.8 224.0,297.2 220.0,299.0 C216.0,300.8 209.7,306.2 208.0,305.0 C206.3,303.8 208.3,295.8 210.0,292.0 C211.7,288.2 216.7,283.7 218.0,282.0" stroke-width="18"/>
<path d="M366.0,240.0 C366.3,242.0 366.3,249.0 368.0,252.0 C369.7,255.0 374.7,257.0 376.0,258.0" stroke-width="18"/>
<path d="M376.0,258.0 C373.0,258.0 363.7,258.0 358.0,258.0 C352.3,258.0 346.7,257.3 342.0,258.0 C337.3,258.7 333.7,261.0 330.0,262.0 C326.3,263.0 323.3,261.3 320.0,264.0 C316.7,266.7 313.3,274.7 310.0,278.0 C306.7,281.3 302.3,282.0 300.0,284.0 C297.7,286.0 296.7,289.0 296.0,290.0" stroke-width="18"/>
<path d="M376.0,258.0 C375.3,259.3 373.3,263.0 372.0,266.0 C370.7,269.0 369.7,273.2 368.0,276.0 C366.3,278.8 363.5,281.0 362.0,283.0 C360.5,285.0 359.1,285.6 358.8,288.0 C358.5,290.4 359.4,294.4 360.0,297.6 C360.6,300.8 361.0,304.2 362.4,307.0 C363.8,309.8 366.8,312.0 368.4,314.4 C370.0,316.8 371.2,318.7 372.0,321.6 C372.8,324.5 372.8,330.3 373.0,332.0" stroke-width="18"/>
<path d="M370.8,315.6 C371.8,314.4 375.4,310.0 376.8,308.4 C378.2,306.8 378.6,306.4 379.0,306.0" stroke-width="18"/>
<path d="M260.0,274.0 C258.7,276.0 253.7,282.0 252.0,286.0 C250.3,290.0 249.7,294.0 250.0,298.0 C250.3,302.0 252.7,307.0 254.0,310.0 C255.3,313.0 255.3,315.7 258.0,316.0 C260.7,316.3 265.7,313.7 270.0,312.0 C274.3,310.3 280.0,307.0 284.0,306.0 C288.0,305.0 291.7,303.7 294.0,306.0 C296.3,308.3 297.0,316.3 298.0,320.0 C299.0,323.7 298.7,323.0 300.0,328.0 C301.3,333.0 304.0,344.0 306.0,350.0 C308.0,356.0 310.0,360.3 312.0,364.0 C314.0,367.7 316.3,369.7 318.0,372.0 C319.7,374.3 320.7,376.0 322.0,378.0 C323.3,380.0 324.8,382.0 326.0,384.0 C327.2,386.0 328.5,389.0 329.0,390.0" stroke-width="18"/>
<path d="M258.0,316.0 C257.3,317.0 254.7,321.0 254.0,322.0" stroke-width="18"/>
<path d="M318.0,308.4 C319.0,310.0 321.8,315.4 324.0,318.0 C326.2,320.6 329.0,322.8 331.0,324.0 C333.0,325.2 334.4,325.6 336.0,325.0 C337.6,324.4 340.0,321.2 340.8,320.4" stroke-width="18"/>
<path d="M336.0,326.0 C336.4,327.7 337.6,332.3 338.4,336.0 C339.2,339.7 340.2,343.6 340.8,348.0 C341.4,352.4 340.8,358.8 342.0,362.4 C343.2,366.0 345.0,367.6 348.0,369.6 C351.0,371.6 356.4,372.8 360.0,374.4 C363.6,376.0 367.2,377.6 369.6,379.0 C372.0,380.4 373.6,382.3 374.4,383.0" stroke-width="18"/>
<path d="M228.0,318.0 C229.7,320.3 237.7,327.7 238.0,332.0 C238.3,336.3 232.3,340.0 230.0,344.0 C227.7,348.0 224.0,351.0 224.0,356.0 C224.0,361.0 227.0,369.0 230.0,374.0 C233.0,379.0 237.3,382.3 242.0,386.0 C246.7,389.7 252.7,392.3 258.0,396.0 C263.3,399.7 269.3,404.0 274.0,408.0 C278.7,412.0 281.7,416.3 286.0,420.0 C290.3,423.7 295.3,427.7 300.0,430.0 C304.7,432.3 310.3,433.3 314.0,434.0 C317.7,434.7 320.7,434.0 322.0,434.0" stroke-width="18"/>
<path d="M238.0,330.0 C239.0,329.7 243.0,328.3 244.0,328.0" stroke-width="18"/>
<path d="M213.0,337.0 C213.3,338.3 214.2,343.2 215.0,345.0 C215.8,346.8 216.2,347.2 218.0,348.0 C219.8,348.8 224.7,349.7 226.0,350.0" stroke-width="18"/>
<path d="M218.0,348.0 C217.0,349.0 214.0,352.0 212.0,354.0 C210.0,356.0 207.0,359.0 206.0,360.0" stroke-width="18"/>
<path d="M188.0,340.0 C189.0,338.7 192.7,335.3 194.0,332.0 C195.3,328.7 196.7,322.7 196.0,320.0 C195.3,317.3 193.3,316.3 190.0,316.0 C186.7,315.7 179.7,315.3 176.0,318.0 C172.3,320.7 170.0,327.3 168.0,332.0 C166.0,336.7 164.0,341.3 164.0,346.0 C164.0,350.7 166.0,355.7 168.0,360.0 C170.0,364.3 174.0,367.7 176.0,372.0 C178.0,376.3 177.0,382.0 180.0,386.0 C183.0,390.0 189.7,393.7 194.0,396.0 C198.3,398.3 202.7,398.0 206.0,400.0 C209.3,402.0 211.7,405.0 214.0,408.0 C216.3,411.0 217.3,416.3 220.0,418.0 C222.7,419.7 226.3,420.3 230.0,418.0 C233.7,415.7 239.7,407.0 242.0,404.0 C244.3,401.0 243.7,400.7 244.0,400.0" stroke-width="18"/>
<path d="M206.0,360.0 C205.3,362.0 203.3,369.3 202.0,372.0 C200.7,374.7 198.7,375.3 198.0,376.0" stroke-width="18"/>
<path d="M206.0,364.0 C207.3,365.7 211.3,370.3 214.0,374.0 C216.7,377.7 220.3,382.7 222.0,386.0 C223.7,389.3 223.7,392.7 224.0,394.0" stroke-width="18"/>
<path d="M142.0,362.0 C143.3,362.0 146.3,361.7 150.0,362.0 C153.7,362.3 161.7,363.7 164.0,364.0" stroke-width="18"/>
<path d="M150.0,352.0 C150.3,353.3 151.7,358.7 152.0,360.0" stroke-width="18"/>
<path d="M150.0,388.0 C150.3,390.3 152.3,398.0 152.0,402.0 C151.7,406.0 149.0,409.0 148.0,412.0 C147.0,415.0 145.7,417.3 146.0,420.0 C146.3,422.7 149.3,426.7 150.0,428.0" stroke-width="18"/>
<path d="M152.0,404.0 C153.7,404.3 158.7,404.3 162.0,406.0 C165.3,407.7 168.7,411.7 172.0,414.0 C175.3,416.3 178.0,418.3 182.0,420.0 C186.0,421.7 192.3,422.7 196.0,424.0 C199.7,425.3 202.3,425.7 204.0,428.0 C205.7,430.3 205.7,436.3 206.0,438.0" stroke-width="18"/>
<path d="M166.0,426.0 C167.0,428.3 170.7,436.7 172.0,440.0 C173.3,443.3 177.0,444.2 174.0,446.0 C171.0,447.8 157.3,450.2 154.0,451.0" stroke-width="18"/>
<path d="M174.0,446.0 C175.7,446.7 180.3,448.3 184.0,450.0 C187.7,451.7 191.7,454.0 196.0,456.0 C200.3,458.0 205.7,460.0 210.0,462.0 C214.3,464.0 218.3,466.5 222.0,468.0 C225.7,469.5 230.3,470.5 232.0,471.0" stroke-width="18"/>
<path d="M268.0,342.0 C268.7,344.0 273.3,351.3 272.0,354.0 C270.7,356.7 262.0,357.3 260.0,358.0" stroke-width="18"/>
<path d="M272.0,354.0 C273.7,356.7 279.0,365.3 282.0,370.0 C285.0,374.7 287.3,378.0 290.0,382.0 C292.7,386.0 295.3,390.5 298.0,394.0 C300.7,397.5 303.0,399.7 306.0,403.0 C309.0,406.3 312.3,411.2 316.0,414.0 C319.7,416.8 326.0,419.0 328.0,420.0" stroke-width="18"/>
<path d="M218.0,444.0 C218.7,445.7 220.0,451.3 222.0,454.0 C224.0,456.7 226.7,459.3 230.0,460.0 C233.3,460.7 237.3,458.7 242.0,458.0 C246.7,457.3 253.3,457.3 258.0,456.0 C262.7,454.7 268.3,453.0 270.0,450.0 C271.7,447.0 268.3,440.0 268.0,438.0" stroke-width="18"/>
<path d="M270.0,448.0 C272.0,449.3 278.7,454.0 282.0,456.0 C285.3,458.0 288.7,459.3 290.0,460.0" stroke-width="18"/>
<path d="M170.0,472.0 C170.0,474.0 169.0,481.0 170.0,484.0 C171.0,487.0 175.0,489.0 176.0,490.0" stroke-width="18"/>
<path d="M184.0,468.0 C186.0,469.3 191.0,473.7 196.0,476.0 C201.0,478.3 207.7,481.3 214.0,482.0 C220.3,482.7 228.7,480.7 234.0,480.0 C239.3,479.3 242.0,478.0 246.0,478.0 C250.0,478.0 256.0,479.7 258.0,480.0" stroke-width="18"/>
<path d="M246.0,478.0 C246.7,480.7 249.3,491.3 250.0,494.0" stroke-width="18"/>
<path d="M434.0,185.0 C434.0,188.3 434.7,199.8 434.0,205.0 C433.3,210.2 431.7,212.8 430.0,216.0 C428.3,219.2 426.2,221.7 424.0,224.0 C421.8,226.3 419.4,227.1 416.7,230.0 C414.0,232.9 410.4,238.0 408.0,241.7 C405.6,245.4 403.4,248.3 402.0,252.0 C400.6,255.7 400.1,260.0 399.8,263.7 C399.6,267.4 399.6,270.8 400.5,274.0 C401.4,277.2 403.3,280.4 405.0,282.8 C406.7,285.2 409.7,286.5 410.8,288.7 C411.9,290.9 411.8,293.1 411.5,296.0 C411.2,298.9 410.3,303.1 409.0,306.0 C407.7,308.9 405.7,311.6 403.5,313.6 C401.3,315.6 397.9,316.1 396.0,318.0 C394.1,319.9 393.2,322.5 392.0,325.0 C390.8,327.5 389.8,330.5 389.0,333.0 C388.2,335.5 387.5,337.2 387.0,340.0 C386.5,342.8 385.4,347.0 386.0,350.0 C386.6,353.0 388.8,355.3 390.8,358.0 C392.8,360.7 396.6,361.5 398.0,366.0 C399.4,370.5 398.8,381.8 399.0,385.0" stroke="#db7090" stroke-width="22"/>
<path d="M150.0,452.0 C153.3,455.7 161.7,468.3 170.0,474.0 C178.3,479.7 188.3,483.3 200.0,486.0 C211.7,488.7 227.5,489.7 240.0,490.0 C252.5,490.3 265.0,490.0 275.0,488.0 C285.0,486.0 295.8,479.7 300.0,478.0" stroke="#da6f8e" stroke-width="14"/>
<path d="M226.0,497.0 C221.7,496.5 218.0,501.2 214.0,503.0 C210.0,504.8 205.0,506.5 202.0,508.0 C199.0,509.5 196.7,510.7 196.0,512.0 C195.3,513.3 195.7,515.0 198.0,516.0 C200.3,517.0 206.0,517.7 210.0,518.0 C214.0,518.3 217.0,518.7 222.0,518.0 C227.0,517.3 233.7,515.5 240.0,514.0 C246.3,512.5 253.0,510.5 260.0,509.0 C267.0,507.5 278.3,506.5 282.0,505.0 C285.7,503.5 285.7,500.3 282.0,500.0 C278.3,499.7 267.0,502.0 260.0,503.0 C253.0,504.0 245.7,507.0 240.0,506.0 C234.3,505.0 230.3,497.5 226.0,497.0Z" fill="#cc5f81" stroke="none"/>
</g>
<g fill="#3d3b3e">
<path d="M320.8,196.2 L321.1,197.4 L321.8,198.9 L322.7,200.6 L323.8,202.3 L325.3,203.7 L326.8,204.9 L328.2,205.7 L329.7,206.3 L331.2,206.9 L332.8,207.2 L334.6,207.3 L336.4,207.2 L338.3,206.6 L340.2,205.8 L342.0,204.8 L343.7,203.8 L345.4,202.8 L346.9,202.0 L348.6,201.3 L350.5,200.5 L352.3,199.4 L353.9,198.3 L355.2,197.3 L356.1,196.2 L355.9,195.8 L354.6,195.6 L352.9,195.7 L351.0,196.0 L348.9,196.4 L346.9,197.2 L345.1,198.0 L343.3,198.9 L341.5,199.9 L339.8,201.0 L338.2,201.8 L336.8,202.5 L335.6,202.8 L334.5,202.9 L333.5,202.8 L332.4,202.6 L331.4,202.3 L330.3,201.7 L329.2,201.1 L328.1,200.3 L326.8,199.3 L325.3,198.2 L323.8,197.1 L322.4,196.2 L321.2,195.8Z"/>
<path d="M377.8,183.2 L378.2,184.7 L379.2,186.4 L380.3,188.2 L381.3,189.7 L381.8,190.7 L381.8,191.2 L381.0,192.4 L379.1,194.2 L376.7,196.3 L373.9,198.3 L371.1,200.3 L368.6,202.0 L366.6,203.4 L364.6,204.5 L362.5,205.6 L360.5,206.6 L358.5,207.8 L356.6,209.1 L354.8,210.6 L353.2,212.0 L351.7,213.6 L350.3,215.2 L349.1,217.0 L347.9,218.8 L346.9,220.8 L346.1,222.8 L345.4,224.9 L344.8,227.0 L344.3,229.2 L343.7,231.5 L343.1,234.1 L342.5,237.2 L341.9,240.3 L341.9,243.4 L342.1,246.0 L342.8,248.0 L343.2,248.0 L344.5,246.4 L345.6,244.0 L346.6,241.2 L347.2,238.1 L347.7,235.1 L348.3,232.5 L348.9,230.3 L349.4,228.2 L350.0,226.3 L350.6,224.5 L351.3,222.8 L352.1,221.2 L353.0,219.6 L354.1,218.2 L355.3,216.8 L356.6,215.4 L358.0,214.1 L359.4,212.9 L361.0,211.8 L362.8,210.8 L364.7,209.8 L366.8,208.7 L369.1,207.5 L371.4,206.0 L373.8,204.2 L376.7,202.2 L379.6,200.0 L382.3,197.7 L384.6,195.4 L386.2,192.8 L386.4,189.7 L385.3,187.2 L383.4,185.3 L381.4,184.1 L379.6,183.2 L378.2,182.8Z"/>
<path d="M384.0,192.2 L385.3,192.9 L387.2,193.4 L389.5,193.8 L391.9,194.1 L394.2,194.0 L396.3,193.8 L398.1,193.4 L399.8,192.6 L401.3,191.7 L402.5,190.8 L403.5,190.0 L404.1,189.2 L403.9,188.8 L402.9,188.7 L401.6,188.9 L400.2,189.3 L398.7,189.6 L397.2,189.9 L395.7,190.2 L394.0,190.3 L391.8,190.4 L389.5,190.5 L387.3,190.8 L385.4,191.2 L384.0,191.8Z"/>
<path d="M358.0,210.8 L356.9,210.4 L355.5,210.2 L353.9,210.0 L352.1,210.0 L350.4,210.0 L348.8,210.1 L347.2,210.3 L345.5,210.7 L343.8,211.2 L342.2,211.7 L340.9,212.1 L340.0,212.8 L340.0,213.2 L341.1,213.6 L342.5,213.8 L344.1,214.0 L345.9,214.0 L347.6,214.0 L349.2,213.9 L350.8,213.7 L352.5,213.3 L354.2,212.8 L355.8,212.3 L357.1,211.9 L358.0,211.2Z"/>
<path d="M361.8,210.1 L361.8,211.9 L362.3,214.1 L363.0,216.8 L364.5,219.4 L366.4,221.9 L368.8,223.9 L371.8,225.2 L375.1,226.0 L378.5,226.4 L381.8,226.9 L384.7,227.4 L387.2,228.1 L389.4,229.1 L391.7,230.5 L393.9,231.9 L396.1,233.0 L398.1,233.9 L399.9,234.2 L400.1,233.8 L399.4,232.3 L398.1,230.5 L396.3,228.6 L394.1,226.8 L391.5,225.3 L388.8,223.9 L385.7,223.0 L382.4,222.5 L379.0,222.1 L375.9,221.6 L373.2,221.0 L371.2,220.1 L369.6,218.8 L368.1,216.9 L366.7,214.7 L365.2,212.7 L363.7,210.9 L362.2,209.9Z"/>
<path d="M388.1,226.2 L390.6,226.0 L393.7,225.1 L397.2,223.6 L400.7,221.6 L404.1,219.7 L407.2,217.9 L409.9,216.2 L412.5,214.4 L415.1,212.6 L417.5,210.9 L419.6,209.2 L421.5,207.6 L423.0,206.0 L424.0,204.3 L424.7,202.7 L425.1,201.3 L425.3,200.1 L425.2,199.1 L424.8,198.9 L423.9,199.3 L423.0,200.1 L422.1,201.1 L421.0,202.1 L419.8,203.1 L418.5,204.4 L416.8,205.8 L414.8,207.3 L412.5,209.0 L410.1,210.7 L407.5,212.4 L404.8,214.1 L401.9,215.9 L398.6,217.8 L395.1,219.7 L391.9,221.7 L389.4,223.8 L387.9,225.8Z"/>
<path d="M389.8,229.9 L389.1,230.7 L388.5,231.9 L387.9,233.3 L387.3,234.8 L386.7,236.1 L386.3,237.3 L385.9,238.3 L385.4,239.5 L384.9,240.8 L384.3,241.9 L383.9,243.0 L383.8,243.9 L384.2,244.1 L385.0,243.8 L385.9,243.1 L386.9,242.2 L387.9,241.2 L388.9,240.0 L389.7,238.7 L390.2,237.2 L390.5,235.6 L390.6,233.9 L390.6,232.4 L390.5,231.0 L390.2,230.1Z"/>
<path d="M299.8,213.1 L299.4,214.3 L299.5,215.8 L299.7,217.4 L299.6,218.9 L299.5,220.0 L299.2,220.8 L298.2,221.7 L296.5,223.0 L294.2,224.3 L291.8,225.6 L289.3,226.8 L287.0,228.0 L284.8,229.2 L282.6,230.3 L280.3,231.3 L278.2,232.3 L276.5,233.6 L275.1,234.7 L274.2,235.9 L273.8,237.0 L273.8,237.9 L274.1,238.5 L274.5,238.8 L274.8,239.0 L275.2,239.0 L275.5,238.6 L275.6,238.1 L275.7,237.8 L275.8,237.7 L276.1,237.6 L276.9,237.3 L278.2,236.8 L280.1,236.3 L282.2,235.3 L284.5,234.3 L286.8,233.1 L289.0,232.0 L291.3,230.8 L293.8,229.5 L296.4,228.1 L298.9,226.7 L301.1,225.1 L302.8,223.2 L303.8,220.9 L303.7,218.6 L303.0,216.6 L302.0,214.9 L301.1,213.7 L300.2,212.9Z"/>
<path d="M300.9,222.2 L301.7,223.2 L303.0,224.0 L304.5,224.9 L306.0,225.8 L307.6,226.6 L309.1,227.2 L310.6,227.8 L312.2,228.5 L313.6,229.1 L314.7,229.7 L315.4,230.3 L315.8,230.8 L315.9,231.7 L315.8,233.3 L315.4,235.3 L314.9,237.4 L314.3,239.5 L313.7,241.3 L313.3,242.9 L312.9,244.3 L312.4,245.4 L312.0,246.4 L311.3,247.3 L310.5,248.2 L309.2,249.0 L307.5,249.9 L305.4,250.8 L303.2,251.7 L300.9,252.8 L298.8,254.0 L296.8,255.2 L295.0,256.5 L293.2,257.9 L291.4,259.3 L289.8,260.8 L288.2,262.4 L286.8,264.2 L285.7,266.1 L284.8,267.9 L283.9,269.6 L283.0,271.2 L282.1,272.6 L281.0,273.9 L279.7,275.3 L278.3,276.7 L277.0,278.0 L275.7,279.1 L274.5,280.2 L273.5,281.2 L272.6,282.3 L271.7,283.2 L270.9,284.1 L270.2,284.9 L269.9,285.8 L270.1,286.2 L271.0,286.3 L272.1,286.1 L273.3,285.8 L274.7,285.3 L276.1,284.7 L277.5,283.8 L278.8,282.7 L280.2,281.5 L281.7,280.1 L283.1,278.6 L284.6,277.1 L285.9,275.4 L287.1,273.7 L288.1,271.9 L289.0,270.1 L289.9,268.4 L290.8,266.9 L291.8,265.6 L293.1,264.2 L294.5,262.9 L296.1,261.6 L297.8,260.4 L299.5,259.2 L301.2,258.0 L303.0,257.0 L305.1,256.1 L307.3,255.2 L309.5,254.2 L311.7,253.1 L313.5,251.8 L315.0,250.4 L316.0,248.9 L316.8,247.3 L317.4,245.8 L317.8,244.3 L318.3,242.7 L318.8,240.8 L319.5,238.7 L320.1,236.3 L320.5,233.9 L320.6,231.5 L320.2,229.2 L319.1,227.2 L317.5,225.8 L315.7,224.8 L314.0,224.1 L312.4,223.4 L310.9,222.8 L309.3,222.1 L307.4,221.7 L305.5,221.5 L303.8,221.4 L302.3,221.4 L301.1,221.8Z"/>
<path d="M266.8,243.8 L265.8,244.0 L264.6,244.5 L263.3,245.2 L261.9,246.0 L260.3,247.0 L258.7,248.2 L256.8,249.6 L254.5,251.1 L252.0,252.8 L249.4,254.6 L246.8,256.4 L244.5,258.4 L242.5,260.4 L240.5,262.4 L238.6,264.6 L236.9,266.7 L235.4,268.9 L234.1,270.9 L233.1,272.8 L232.3,274.7 L231.8,276.5 L231.4,278.2 L231.1,279.9 L230.8,281.7 L230.6,283.9 L230.7,286.2 L230.9,288.4 L230.9,290.3 L230.7,291.7 L230.2,292.7 L229.4,293.4 L228.0,294.1 L226.0,294.8 L223.8,295.4 L221.4,296.1 L219.1,297.0 L216.7,298.3 L214.3,299.8 L212.0,301.2 L210.0,302.4 L208.7,302.9 L209.2,303.2 L209.6,303.5 L209.6,302.1 L209.9,299.9 L210.5,297.4 L211.3,294.9 L212.0,292.9 L212.9,291.2 L214.3,289.4 L215.6,287.5 L216.8,285.5 L217.8,283.7 L218.2,282.2 L217.8,281.8 L216.3,282.4 L214.6,283.4 L212.6,284.9 L210.8,286.7 L209.2,288.9 L208.0,291.1 L207.1,293.5 L206.2,296.2 L205.6,299.1 L205.2,301.8 L205.3,304.3 L206.8,306.8 L209.6,307.2 L211.9,306.3 L214.3,305.0 L216.7,303.5 L218.9,302.1 L220.9,301.0 L222.8,300.3 L225.0,299.6 L227.3,299.0 L229.7,298.2 L231.9,297.1 L233.8,295.3 L234.9,293.0 L235.3,290.6 L235.3,288.2 L235.1,286.0 L235.1,284.0 L235.2,282.3 L235.5,280.6 L235.8,279.0 L236.1,277.5 L236.5,276.1 L237.1,274.7 L237.9,273.1 L239.0,271.3 L240.4,269.4 L242.0,267.4 L243.7,265.4 L245.6,263.5 L247.5,261.6 L249.5,259.9 L251.9,258.2 L254.4,256.5 L256.9,254.8 L259.3,253.2 L261.3,251.8 L263.0,250.4 L264.3,248.9 L265.4,247.5 L266.3,246.3 L266.9,245.2 L267.2,244.2Z"/>
<path d="M365.8,240.0 L365.2,241.5 L364.8,243.5 L364.5,245.8 L364.6,248.4 L365.2,250.8 L366.1,253.1 L367.5,254.9 L369.2,256.3 L371.2,257.2 L373.0,257.8 L374.6,258.2 L375.9,258.2 L376.1,257.8 L375.5,256.6 L374.4,255.5 L373.1,254.3 L371.8,253.0 L370.7,251.9 L369.9,250.9 L369.4,249.6 L369.0,247.6 L368.5,245.4 L367.8,243.2 L367.1,241.3 L366.2,240.0Z"/>
<path d="M376.0,257.8 L374.0,256.7 L371.3,255.9 L368.0,255.4 L364.5,255.4 L361.1,255.4 L358.0,255.5 L355.2,255.4 L352.5,255.3 L349.7,255.2 L347.0,255.2 L344.3,255.2 L341.6,255.5 L339.1,256.0 L336.8,256.7 L334.7,257.5 L332.7,258.3 L331.0,259.0 L329.4,259.5 L327.9,259.8 L326.5,259.8 L324.8,259.8 L322.8,260.0 L320.6,260.7 L318.4,262.0 L316.4,264.1 L314.5,266.7 L312.8,269.4 L311.2,272.1 L309.6,274.5 L308.2,276.2 L306.8,277.4 L305.2,278.4 L303.5,279.2 L301.8,280.0 L300.0,280.9 L298.4,282.0 L297.2,283.6 L296.4,285.1 L296.0,286.6 L295.7,287.9 L295.6,289.0 L295.8,289.9 L296.2,290.1 L297.1,289.7 L297.9,289.0 L298.8,288.2 L299.7,287.3 L300.7,286.6 L301.6,286.0 L302.6,285.3 L304.0,284.6 L305.7,283.8 L307.7,282.8 L309.8,281.5 L311.8,279.8 L313.7,277.5 L315.5,274.9 L317.2,272.1 L318.8,269.5 L320.3,267.3 L321.6,266.0 L322.7,265.3 L323.7,265.0 L325.0,264.9 L326.6,264.9 L328.5,264.8 L330.6,264.5 L332.7,263.8 L334.7,263.0 L336.6,262.2 L338.5,261.5 L340.4,260.9 L342.4,260.5 L344.6,260.3 L347.0,260.3 L349.6,260.3 L352.3,260.4 L355.1,260.5 L358.0,260.5 L361.1,260.6 L364.5,260.6 L368.0,260.6 L371.3,260.1 L374.0,259.3 L376.0,258.2Z"/>
<path d="M375.8,257.9 L374.8,258.4 L373.8,259.4 L372.7,260.6 L371.6,262.0 L370.6,263.4 L369.8,265.1 L369.1,266.7 L368.5,268.5 L367.9,270.3 L367.3,271.9 L366.6,273.5 L366.0,274.8 L365.2,275.9 L364.2,277.1 L363.2,278.2 L362.2,279.3 L361.1,280.4 L360.2,281.5 L359.5,282.3 L358.8,283.0 L358.1,283.9 L357.4,284.9 L356.8,286.2 L356.4,287.7 L356.4,289.4 L356.5,291.1 L356.7,292.9 L357.0,294.7 L357.3,296.4 L357.7,298.0 L357.9,299.6 L358.2,301.3 L358.6,303.0 L359.0,304.7 L359.5,306.4 L360.3,308.1 L361.3,309.7 L362.4,311.2 L363.6,312.5 L364.7,313.6 L365.7,314.7 L366.5,315.8 L367.2,316.9 L367.8,317.9 L368.4,318.9 L368.9,319.9 L369.3,321.0 L369.7,322.2 L370.0,323.6 L370.2,325.4 L370.8,327.4 L371.4,329.3 L371.9,330.9 L372.8,332.0 L373.2,332.0 L373.9,330.8 L374.3,329.1 L374.7,327.1 L374.9,325.0 L374.7,322.9 L374.3,321.0 L373.8,319.4 L373.3,318.0 L372.6,316.7 L371.9,315.5 L371.2,314.3 L370.3,313.0 L369.3,311.7 L368.2,310.4 L367.1,309.2 L366.0,308.1 L365.2,307.0 L364.5,305.9 L364.0,304.7 L363.6,303.4 L363.2,301.9 L362.9,300.4 L362.6,298.8 L362.3,297.2 L362.0,295.5 L361.7,293.8 L361.4,292.2 L361.2,290.6 L361.1,289.3 L361.2,288.3 L361.3,287.7 L361.5,287.2 L361.8,286.8 L362.3,286.2 L363.0,285.5 L363.8,284.5 L364.6,283.6 L365.6,282.6 L366.7,281.5 L367.8,280.2 L369.0,278.8 L370.0,277.2 L370.9,275.5 L371.7,273.7 L372.4,271.9 L373.0,270.1 L373.6,268.4 L374.2,266.9 L374.9,265.5 L375.4,263.8 L375.8,262.2 L376.1,260.6 L376.4,259.3 L376.2,258.1Z"/>
<path d="M371.0,315.8 L372.1,315.3 L373.4,314.3 L374.9,313.1 L376.3,311.9 L377.2,310.4 L377.8,309.3 L378.3,308.4 L378.6,307.8 L378.9,307.3 L379.0,306.9 L379.2,306.6 L379.2,306.2 L378.8,305.8 L378.4,305.9 L378.1,306.0 L377.7,306.2 L377.2,306.5 L376.6,306.9 L375.8,307.5 L374.7,308.4 L373.4,309.5 L372.5,311.2 L371.6,312.8 L370.9,314.2 L370.6,315.4Z"/>
<path d="M259.8,273.9 L258.2,274.7 L256.4,276.1 L254.4,278.0 L252.7,280.3 L251.2,282.8 L250.0,285.1 L249.2,287.3 L248.5,289.5 L248.1,291.6 L247.8,293.8 L247.7,296.0 L247.8,298.2 L248.2,300.5 L248.8,302.9 L249.6,305.1 L250.4,307.3 L251.2,309.2 L252.0,310.9 L252.5,312.2 L253.0,313.6 L253.5,315.0 L254.4,316.4 L255.8,317.6 L257.8,318.2 L259.9,318.1 L262.0,317.6 L264.2,316.8 L266.4,315.9 L268.6,314.9 L270.8,314.0 L273.2,313.1 L275.6,311.9 L278.1,310.8 L280.4,309.7 L282.6,308.8 L284.6,308.1 L286.5,307.6 L288.3,307.2 L289.8,307.0 L291.0,306.9 L291.8,307.1 L292.4,307.5 L293.0,308.6 L293.7,310.5 L294.3,313.0 L294.9,315.7 L295.4,318.3 L295.9,320.5 L296.3,322.1 L296.5,323.1 L296.7,324.0 L297.0,325.0 L297.3,326.5 L297.9,328.6 L298.6,331.5 L299.6,335.1 L300.6,339.2 L301.7,343.3 L302.8,347.3 L303.9,350.7 L304.9,353.6 L305.9,356.3 L307.0,358.8 L308.0,361.0 L309.0,363.1 L310.1,365.1 L311.2,366.9 L312.3,368.5 L313.4,369.9 L314.5,371.1 L315.4,372.2 L316.2,373.3 L317.0,374.4 L317.6,375.4 L318.3,376.3 L318.9,377.3 L319.5,378.2 L320.2,379.2 L320.9,380.2 L321.6,381.3 L322.2,382.2 L322.9,383.2 L323.5,384.2 L324.1,385.1 L324.9,386.0 L325.7,387.0 L326.5,388.0 L327.3,388.9 L328.0,389.7 L328.8,390.1 L329.2,389.9 L329.4,389.0 L329.2,388.0 L329.0,386.8 L328.7,385.5 L328.3,384.2 L327.9,382.9 L327.3,381.8 L326.6,380.8 L325.9,379.8 L325.2,378.7 L324.5,377.8 L323.8,376.8 L323.2,375.8 L322.6,374.9 L322.0,373.9 L321.3,372.9 L320.6,371.9 L319.8,370.7 L318.8,369.5 L317.8,368.3 L316.8,367.1 L315.8,365.9 L314.9,364.5 L313.9,362.9 L313.0,361.1 L312.0,359.1 L311.0,357.0 L310.1,354.7 L309.1,352.1 L308.1,349.3 L307.1,346.0 L306.0,342.2 L304.9,338.1 L303.8,334.0 L302.9,330.4 L302.1,327.4 L301.6,325.4 L301.3,324.0 L301.0,323.0 L300.8,322.1 L300.5,321.0 L300.1,319.5 L299.7,317.4 L299.2,314.8 L298.7,312.0 L298.0,309.2 L297.0,306.6 L295.6,304.5 L293.6,303.1 L291.5,302.5 L289.4,302.5 L287.4,302.9 L285.4,303.3 L283.4,303.9 L281.1,304.6 L278.7,305.6 L276.2,306.7 L273.7,307.9 L271.4,309.0 L269.2,310.0 L266.9,310.9 L264.7,311.8 L262.6,312.7 L260.7,313.4 L259.2,313.8 L258.2,313.8 L257.9,313.7 L257.8,313.6 L257.5,313.0 L257.1,312.1 L256.6,310.7 L256.0,309.1 L255.3,307.5 L254.5,305.6 L253.7,303.6 L253.0,301.6 L252.5,299.6 L252.2,297.8 L252.1,296.0 L252.2,294.2 L252.4,292.4 L252.8,290.5 L253.3,288.7 L254.0,286.9 L255.0,285.0 L256.4,282.8 L257.9,280.5 L259.0,278.1 L259.9,275.9 L260.2,274.1Z"/>
<path d="M257.8,315.9 L257.4,316.0 L256.9,316.4 L256.4,316.8 L255.9,317.3 L255.4,317.8 L255.0,318.3 L254.7,318.9 L254.4,319.6 L254.2,320.2 L254.0,320.8 L253.8,321.4 L253.8,321.9 L254.2,322.1 L254.6,322.0 L255.1,321.6 L255.6,321.2 L256.1,320.7 L256.6,320.2 L257.0,319.7 L257.3,319.1 L257.6,318.4 L257.8,317.8 L258.0,317.2 L258.2,316.6 L258.2,316.1Z"/>
<path d="M317.8,308.5 L317.9,309.9 L318.4,311.7 L319.1,313.7 L320.0,315.8 L321.2,317.7 L322.4,319.3 L323.7,320.7 L324.9,321.9 L326.3,323.1 L327.5,324.1 L328.8,325.0 L330.0,325.8 L331.0,326.3 L332.1,326.8 L333.2,327.2 L334.4,327.3 L335.5,327.2 L336.8,326.8 L337.9,326.0 L338.9,324.9 L339.7,323.7 L340.4,322.5 L340.8,321.4 L341.0,320.6 L340.6,320.2 L339.7,320.5 L338.8,321.1 L337.7,321.8 L336.7,322.5 L335.8,323.0 L335.2,323.2 L334.9,323.2 L334.5,323.2 L334.1,323.2 L333.5,323.0 L332.9,322.7 L332.0,322.2 L331.1,321.6 L330.0,320.9 L328.9,320.0 L327.7,319.0 L326.6,317.9 L325.6,316.7 L324.5,315.3 L323.4,313.6 L322.1,311.9 L320.7,310.4 L319.4,309.0 L318.2,308.3Z"/>
<path d="M335.8,326.1 L335.4,327.3 L335.3,328.8 L335.4,330.7 L335.5,332.6 L335.8,334.6 L336.2,336.5 L336.7,338.3 L337.1,340.2 L337.5,342.2 L337.9,344.2 L338.3,346.2 L338.6,348.3 L338.8,350.5 L338.9,353.0 L339.0,355.6 L339.1,358.2 L339.4,360.7 L339.9,363.0 L340.7,365.0 L341.6,366.6 L342.7,368.1 L343.9,369.3 L345.3,370.4 L346.8,371.5 L348.7,372.5 L350.8,373.4 L353.0,374.2 L355.2,375.0 L357.3,375.7 L359.2,376.4 L360.9,377.2 L362.6,378.0 L364.3,378.7 L365.9,379.5 L367.3,380.2 L368.5,380.8 L369.7,381.2 L370.7,381.7 L371.7,382.3 L372.6,382.7 L373.4,383.1 L374.2,383.2 L374.6,382.8 L374.4,382.1 L374.0,381.3 L373.5,380.3 L372.7,379.3 L371.8,378.3 L370.7,377.2 L369.4,376.3 L367.8,375.5 L366.2,374.8 L364.5,374.0 L362.7,373.2 L360.8,372.4 L358.8,371.6 L356.7,370.8 L354.5,370.1 L352.5,369.3 L350.7,368.6 L349.2,367.7 L347.9,366.9 L346.8,366.0 L346.0,365.1 L345.3,364.2 L344.7,363.1 L344.1,361.8 L343.7,360.0 L343.5,357.9 L343.4,355.4 L343.3,352.8 L343.2,350.2 L343.0,347.7 L342.6,345.5 L342.3,343.3 L341.8,341.3 L341.4,339.3 L341.0,337.4 L340.6,335.5 L340.1,333.6 L339.5,331.7 L338.7,329.8 L337.9,328.2 L337.1,326.9 L336.2,325.9Z"/>
<path d="M227.8,318.2 L228.4,320.3 L229.9,322.9 L231.8,325.7 L233.8,328.2 L235.3,330.6 L235.8,332.2 L235.6,333.4 L234.8,334.9 L233.3,336.7 L231.6,338.6 L229.7,340.6 L228.2,342.7 L226.9,344.7 L225.6,346.5 L224.3,348.5 L223.0,350.6 L222.1,353.2 L221.8,356.0 L222.1,359.1 L222.8,362.3 L223.8,365.7 L225.1,369.1 L226.5,372.3 L228.1,375.1 L229.8,377.7 L231.8,380.0 L233.9,382.1 L236.0,384.1 L238.3,385.9 L240.7,387.8 L243.2,389.6 L245.9,391.3 L248.6,392.9 L251.4,394.5 L254.1,396.1 L256.8,397.8 L259.4,399.7 L262.2,401.6 L264.9,403.6 L267.6,405.7 L270.2,407.7 L272.5,409.7 L274.7,411.6 L276.6,413.6 L278.5,415.6 L280.4,417.7 L282.4,419.7 L284.5,421.7 L286.8,423.6 L289.2,425.4 L291.6,427.3 L294.0,429.0 L296.5,430.6 L299.0,432.0 L301.6,433.1 L304.2,434.0 L306.8,434.8 L309.3,435.3 L311.6,435.8 L313.7,436.2 L315.6,436.3 L317.4,436.1 L319.0,435.7 L320.2,435.3 L321.3,434.8 L322.0,434.2 L322.0,433.8 L321.1,433.3 L320.0,433.0 L318.8,432.8 L317.4,432.5 L316.0,432.2 L314.3,431.8 L312.4,431.5 L310.2,431.0 L307.9,430.5 L305.6,429.8 L303.2,429.0 L301.0,428.0 L298.8,426.8 L296.5,425.4 L294.2,423.7 L291.9,422.0 L289.6,420.1 L287.5,418.3 L285.5,416.5 L283.6,414.6 L281.7,412.6 L279.8,410.5 L277.7,408.4 L275.5,406.3 L273.0,404.3 L270.3,402.2 L267.6,400.1 L264.8,398.1 L262.0,396.1 L259.2,394.2 L256.5,392.4 L253.6,390.7 L250.9,389.1 L248.2,387.5 L245.7,385.9 L243.3,384.2 L241.1,382.5 L238.9,380.7 L236.9,378.9 L235.0,377.0 L233.4,375.0 L231.9,372.9 L230.5,370.3 L229.1,367.4 L228.0,364.3 L227.0,361.2 L226.4,358.4 L226.2,356.0 L226.4,354.2 L227.0,352.5 L228.0,350.8 L229.2,349.1 L230.6,347.2 L231.8,345.3 L233.1,343.4 L234.8,341.6 L236.7,339.6 L238.4,337.4 L239.8,334.8 L240.2,331.8 L239.3,328.7 L237.4,325.7 L235.2,322.8 L232.6,320.5 L230.2,318.8 L228.2,317.8Z"/>
<path d="M238.1,330.2 L238.5,330.4 L239.0,330.4 L239.6,330.3 L240.2,330.3 L240.8,330.2 L241.4,330.1 L241.9,329.8 L242.4,329.5 L242.9,329.2 L243.4,328.9 L243.8,328.6 L244.1,328.2 L243.9,327.8 L243.5,327.6 L243.0,327.6 L242.4,327.7 L241.8,327.7 L241.2,327.8 L240.6,327.9 L240.1,328.2 L239.6,328.5 L239.1,328.8 L238.6,329.1 L238.2,329.4 L237.9,329.8Z"/>
<path d="M212.8,337.1 L212.5,338.1 L212.4,339.5 L212.4,341.1 L212.5,342.8 L212.7,344.4 L213.2,345.7 L213.7,346.7 L214.1,347.5 L214.7,348.3 L215.5,348.9 L216.3,349.3 L217.3,349.8 L218.6,350.3 L220.2,350.5 L221.9,350.6 L223.5,350.6 L224.9,350.5 L225.9,350.2 L226.1,349.8 L225.2,349.0 L224.0,348.4 L222.5,347.8 L221.0,347.1 L219.7,346.5 L218.7,346.2 L218.1,345.9 L217.7,345.6 L217.5,345.5 L217.4,345.3 L217.1,344.9 L216.8,344.3 L216.5,343.3 L215.9,342.0 L215.2,340.5 L214.6,339.0 L214.0,337.8 L213.2,336.9Z"/>
<path d="M217.8,347.8 L216.8,348.1 L215.6,348.7 L214.3,349.5 L212.9,350.4 L211.5,351.4 L210.4,352.4 L209.4,353.5 L208.4,354.9 L207.5,356.3 L206.7,357.6 L206.1,358.8 L205.8,359.8 L206.2,360.2 L207.2,359.9 L208.4,359.3 L209.7,358.5 L211.1,357.6 L212.5,356.6 L213.6,355.6 L214.6,354.5 L215.6,353.1 L216.5,351.7 L217.3,350.4 L217.9,349.2 L218.2,348.2Z"/>
<path d="M188.2,340.2 L189.4,339.8 L190.7,339.0 L192.2,337.9 L193.7,336.5 L195.1,334.8 L196.0,332.9 L196.8,330.8 L197.4,328.5 L197.9,326.1 L198.3,323.8 L198.4,321.5 L198.2,319.5 L197.5,317.8 L196.5,316.3 L195.2,315.3 L193.7,314.5 L192.0,314.1 L190.2,313.8 L188.2,313.6 L185.7,313.6 L182.9,313.7 L180.1,314.1 L177.3,314.8 L174.7,316.2 L172.6,318.2 L170.9,320.6 L169.4,323.3 L168.1,326.0 L167.0,328.7 L166.0,331.1 L165.0,333.5 L164.0,335.9 L163.1,338.3 L162.4,340.8 L162.0,343.4 L161.8,346.0 L162.0,348.6 L162.4,351.2 L163.1,353.8 L164.0,356.3 L165.0,358.6 L166.0,361.0 L167.3,363.3 L168.7,365.4 L170.2,367.3 L171.7,369.2 L173.0,371.1 L174.0,372.9 L174.6,374.8 L175.1,377.0 L175.4,379.5 L175.9,382.1 L176.8,384.8 L178.2,387.3 L180.2,389.6 L182.6,391.6 L185.3,393.5 L188.0,395.2 L190.6,396.7 L193.0,398.0 L195.4,399.0 L197.7,399.8 L199.9,400.3 L201.8,400.7 L203.5,401.2 L204.9,401.9 L206.3,402.8 L207.5,403.9 L208.8,405.1 L209.9,406.5 L211.1,407.9 L212.2,409.3 L213.1,410.8 L214.0,412.5 L214.9,414.4 L215.9,416.4 L217.1,418.3 L218.7,419.8 L220.5,420.8 L222.5,421.4 L224.5,421.7 L226.7,421.6 L229.0,421.0 L231.2,419.8 L233.5,418.0 L235.9,415.5 L238.2,412.6 L240.4,409.8 L242.3,407.2 L243.4,405.0 L244.1,403.5 L244.5,402.3 L244.6,401.4 L244.6,400.8 L244.5,400.4 L244.2,400.1 L243.8,399.9 L243.3,400.2 L243.1,400.5 L242.9,400.8 L242.5,401.3 L241.8,401.9 L240.6,403.0 L238.8,404.6 L236.9,407.1 L234.8,409.9 L232.6,412.5 L230.5,414.8 L228.8,416.2 L227.4,416.9 L226.0,417.2 L224.7,417.3 L223.5,417.1 L222.3,416.7 L221.3,416.2 L220.5,415.5 L219.7,414.2 L218.9,412.6 L218.0,410.6 L217.0,408.6 L215.8,406.7 L214.6,405.1 L213.3,403.6 L212.0,402.1 L210.5,400.7 L208.9,399.3 L207.1,398.1 L205.1,397.1 L202.9,396.5 L200.9,396.0 L198.9,395.5 L196.9,394.9 L195.0,394.0 L192.7,392.8 L190.2,391.4 L187.7,389.8 L185.4,388.1 L183.3,386.4 L181.8,384.7 L180.8,383.0 L180.2,381.0 L179.8,378.8 L179.4,376.3 L178.9,373.7 L178.0,371.1 L176.7,368.7 L175.3,366.6 L173.8,364.7 L172.3,362.8 L171.0,360.9 L170.0,359.0 L169.0,356.9 L168.1,354.7 L167.4,352.5 L166.7,350.2 L166.4,348.1 L166.2,346.0 L166.3,343.9 L166.7,341.8 L167.4,339.7 L168.1,337.4 L169.1,335.2 L170.0,332.9 L171.1,330.4 L172.2,327.8 L173.3,325.2 L174.6,323.0 L175.9,321.1 L177.3,319.8 L178.9,319.0 L181.0,318.4 L183.3,318.1 L185.7,318.0 L187.9,318.1 L189.8,318.2 L191.1,318.4 L192.1,318.7 L192.8,319.0 L193.3,319.4 L193.6,319.8 L193.8,320.5 L194.0,321.6 L193.9,323.3 L193.6,325.4 L193.1,327.5 L192.5,329.5 L192.0,331.1 L191.3,332.5 L190.4,334.0 L189.6,335.6 L188.7,337.2 L188.0,338.6 L187.8,339.8Z"/>
<path d="M205.8,359.9 L204.8,361.2 L203.8,363.1 L202.7,365.3 L201.9,367.6 L201.1,369.7 L200.6,371.3 L200.2,372.4 L199.7,373.3 L199.1,374.0 L198.6,374.6 L198.1,375.2 L197.8,375.8 L198.2,376.2 L198.8,376.1 L199.5,375.9 L200.4,375.5 L201.3,374.9 L202.4,374.0 L203.4,372.7 L204.3,370.9 L205.1,368.7 L205.8,366.2 L206.1,363.8 L206.3,361.6 L206.2,360.1Z"/>
<path d="M205.8,364.2 L206.2,365.6 L207.0,367.4 L208.2,369.3 L209.5,371.4 L211.0,373.3 L212.4,375.2 L213.8,377.1 L215.3,379.1 L216.8,381.2 L218.1,383.3 L219.3,385.2 L220.2,386.9 L220.9,388.3 L221.6,389.7 L222.2,391.0 L222.7,392.2 L223.1,393.3 L223.8,394.0 L224.2,394.0 L224.6,393.1 L224.7,391.9 L224.8,390.5 L224.7,388.9 L224.5,387.0 L223.8,385.1 L222.7,383.2 L221.4,381.2 L220.0,379.0 L218.5,376.9 L217.0,374.8 L215.6,372.8 L214.1,370.9 L212.6,368.9 L210.8,367.2 L209.1,365.7 L207.6,364.5 L206.2,363.8Z"/>
<path d="M142.0,362.2 L142.8,362.6 L143.9,362.8 L145.2,363.0 L146.6,363.2 L148.2,363.5 L149.8,363.7 L151.9,363.9 L154.5,364.3 L157.3,364.6 L160.0,364.7 L162.3,364.6 L164.0,364.2 L164.0,363.8 L162.5,362.9 L160.3,362.2 L157.7,361.4 L155.0,360.9 L152.4,360.6 L150.2,360.3 L148.3,360.3 L146.6,360.5 L145.1,360.7 L143.8,361.0 L142.8,361.3 L142.0,361.8Z"/>
<path d="M149.8,352.1 L149.6,352.6 L149.6,353.2 L149.6,354.0 L149.6,354.8 L149.7,355.6 L149.7,356.3 L150.0,357.0 L150.4,357.7 L150.7,358.5 L151.0,359.1 L151.4,359.7 L151.8,360.1 L152.2,359.9 L152.4,359.4 L152.4,358.8 L152.4,358.0 L152.4,357.2 L152.3,356.4 L152.3,355.7 L152.0,355.0 L151.6,354.3 L151.3,353.5 L151.0,352.9 L150.6,352.3 L150.2,351.9Z"/>
<path d="M149.8,388.0 L149.3,389.8 L149.2,392.1 L149.2,394.7 L149.6,397.4 L149.9,399.9 L149.9,401.8 L149.6,403.4 L149.1,404.9 L148.3,406.4 L147.5,408.0 L146.7,409.6 L146.0,411.2 L145.5,412.7 L145.0,414.1 L144.5,415.5 L144.1,417.0 L143.8,418.6 L143.9,420.3 L144.4,422.1 L145.3,423.8 L146.5,425.3 L147.7,426.6 L148.8,427.6 L149.8,428.1 L150.2,427.9 L150.2,426.7 L149.8,425.3 L149.3,423.7 L148.8,422.1 L148.4,420.7 L148.1,419.7 L148.1,418.8 L148.2,417.8 L148.5,416.8 L149.0,415.5 L149.5,414.2 L150.0,412.8 L150.5,411.4 L151.3,409.9 L152.2,408.3 L153.0,406.5 L153.7,404.5 L154.1,402.2 L154.1,399.6 L153.8,396.8 L153.3,394.0 L152.3,391.5 L151.3,389.4 L150.2,388.0Z"/>
<path d="M152.0,404.2 L153.0,405.0 L154.5,405.6 L156.1,406.2 L157.9,406.8 L159.6,407.3 L161.1,407.9 L162.5,408.8 L164.0,409.9 L165.6,411.3 L167.3,412.8 L169.0,414.4 L170.7,415.7 L172.4,416.9 L174.0,418.0 L175.6,419.0 L177.3,420.1 L179.2,421.0 L181.2,422.0 L183.5,422.8 L186.0,423.5 L188.6,424.2 L191.1,424.8 L193.4,425.4 L195.3,426.0 L197.1,426.6 L198.6,427.1 L199.9,427.6 L200.9,428.1 L201.7,428.6 L202.2,429.2 L202.7,430.2 L203.1,431.7 L203.8,433.5 L204.4,435.3 L205.0,436.9 L205.8,438.0 L206.2,438.0 L206.7,436.7 L207.0,435.1 L207.2,433.0 L207.2,430.8 L206.7,428.7 L205.8,426.8 L204.5,425.4 L203.1,424.4 L201.6,423.7 L200.0,423.1 L198.4,422.6 L196.7,422.0 L194.6,421.3 L192.2,420.7 L189.6,420.1 L187.1,419.4 L184.8,418.8 L182.8,418.0 L181.0,417.2 L179.4,416.4 L177.9,415.5 L176.4,414.5 L174.8,413.4 L173.3,412.3 L171.7,411.1 L170.1,409.7 L168.4,408.2 L166.7,406.7 L164.9,405.3 L162.9,404.1 L160.9,403.3 L158.7,402.8 L156.6,402.8 L154.7,403.0 L153.2,403.3 L152.0,403.8Z"/>
<path d="M165.8,426.1 L165.7,428.0 L166.2,430.6 L166.9,433.5 L168.1,436.2 L169.2,438.8 L170.1,440.9 L171.1,442.7 L172.2,444.0 L172.9,444.9 L173.0,444.8 L173.2,444.0 L173.0,444.1 L171.0,444.9 L167.7,445.9 L163.7,446.8 L159.6,447.8 L156.2,449.2 L153.9,450.8 L154.1,451.2 L156.7,451.7 L160.4,451.7 L164.6,451.0 L168.7,450.0 L172.4,449.0 L175.0,447.9 L176.7,446.3 L177.2,443.9 L176.3,442.3 L175.4,441.2 L174.6,440.3 L173.9,439.1 L173.1,437.1 L172.0,434.6 L170.8,431.8 L169.2,429.3 L167.7,427.2 L166.2,425.9Z"/>
<path d="M173.9,446.2 L174.7,447.2 L176.1,448.2 L177.6,449.2 L179.4,450.3 L181.3,451.1 L183.1,451.9 L184.9,452.8 L186.8,453.7 L188.8,454.8 L190.8,455.8 L192.9,456.9 L195.1,457.9 L197.4,458.9 L199.8,460.0 L202.2,461.0 L204.6,462.0 L206.9,462.9 L209.1,463.9 L211.2,464.9 L213.2,466.0 L215.3,467.1 L217.3,468.1 L219.2,469.1 L221.2,470.0 L223.2,470.7 L225.3,471.3 L227.3,471.5 L229.2,471.6 L230.7,471.5 L231.9,471.2 L232.1,470.8 L231.2,469.9 L229.8,469.1 L228.2,468.3 L226.4,467.4 L224.6,466.7 L222.8,466.0 L221.0,465.3 L219.2,464.3 L217.2,463.3 L215.2,462.2 L213.1,461.1 L210.9,460.1 L208.6,459.1 L206.2,458.0 L203.8,457.0 L201.4,456.0 L199.1,455.1 L196.9,454.1 L194.8,453.1 L192.7,452.0 L190.7,451.0 L188.7,450.0 L186.8,449.0 L184.9,448.1 L182.9,447.2 L180.9,446.5 L178.9,446.0 L177.0,445.7 L175.4,445.6 L174.1,445.8Z"/>
<path d="M267.8,342.1 L267.8,343.8 L268.3,346.0 L269.0,348.5 L269.8,350.7 L270.3,352.5 L270.3,353.1 L269.7,353.5 L268.1,354.2 L265.8,354.9 L263.4,355.9 L261.3,356.7 L259.9,357.8 L260.1,358.2 L261.7,358.6 L264.0,358.7 L266.7,358.6 L269.4,357.9 L271.8,356.8 L273.7,354.9 L274.2,352.2 L273.6,349.6 L272.5,347.0 L270.9,344.8 L269.5,343.0 L268.2,341.9Z"/>
<path d="M271.8,354.1 L272.1,356.4 L273.1,359.3 L274.6,362.4 L276.6,365.5 L278.5,368.6 L280.1,371.2 L281.6,373.4 L283.0,375.5 L284.3,377.5 L285.6,379.4 L286.9,381.3 L288.2,383.2 L289.5,385.2 L290.8,387.3 L292.1,389.4 L293.5,391.5 L294.9,393.4 L296.2,395.3 L297.6,397.1 L298.9,398.6 L300.2,400.1 L301.6,401.5 L302.9,402.9 L304.3,404.5 L305.8,406.2 L307.4,408.1 L309.1,410.1 L310.8,412.1 L312.7,414.0 L314.7,415.8 L316.9,417.3 L319.3,418.6 L321.8,419.5 L324.2,420.0 L326.3,420.3 L327.9,420.2 L328.1,419.8 L327.1,418.5 L325.4,417.2 L323.5,415.9 L321.3,414.6 L319.2,413.5 L317.3,412.2 L315.7,410.8 L314.1,409.1 L312.4,407.3 L310.8,405.3 L309.2,403.4 L307.7,401.5 L306.2,399.9 L304.8,398.5 L303.5,397.1 L302.3,395.7 L301.0,394.2 L299.8,392.7 L298.5,390.9 L297.2,389.0 L295.9,387.0 L294.5,384.9 L293.2,382.8 L291.8,380.8 L290.5,378.8 L289.2,376.9 L288.0,375.0 L286.7,373.1 L285.3,371.0 L283.9,368.8 L282.2,366.2 L280.3,363.2 L278.4,360.1 L276.2,357.3 L274.1,355.2 L272.2,353.9Z"/>
<path d="M217.8,444.1 L217.5,445.4 L217.6,447.2 L217.8,449.2 L218.3,451.4 L219.2,453.4 L220.3,455.2 L221.4,456.7 L222.7,458.1 L224.2,459.4 L225.8,460.6 L227.6,461.5 L229.6,462.1 L231.8,462.3 L233.9,462.0 L236.0,461.6 L238.1,461.0 L240.2,460.5 L242.3,460.1 L244.7,459.8 L247.4,459.6 L250.2,459.4 L253.1,459.1 L255.9,458.7 L258.5,458.1 L261.0,457.3 L263.5,456.5 L266.0,455.6 L268.3,454.4 L270.3,453.0 L271.9,451.0 L272.6,448.4 L272.4,445.7 L271.6,443.1 L270.5,440.9 L269.3,439.1 L268.2,437.9 L267.8,438.1 L267.5,439.7 L267.6,441.8 L267.9,444.1 L268.2,446.3 L268.3,448.1 L268.1,449.0 L267.4,449.8 L266.1,450.8 L264.3,451.7 L262.1,452.5 L259.8,453.3 L257.5,453.9 L255.1,454.5 L252.6,454.9 L249.8,455.1 L247.0,455.4 L244.3,455.6 L241.7,455.9 L239.3,456.3 L237.0,456.9 L235.0,457.4 L233.2,457.8 L231.7,458.0 L230.4,457.9 L229.2,457.5 L228.0,456.9 L226.8,456.1 L225.7,455.1 L224.7,453.9 L223.7,452.8 L222.9,451.5 L222.2,449.8 L221.2,448.1 L220.2,446.3 L219.2,444.9 L218.2,443.9Z"/>
<path d="M269.9,448.2 L270.8,449.7 L272.4,451.4 L274.4,453.3 L276.8,455.0 L279.0,456.5 L281.0,457.7 L282.7,458.7 L284.5,459.3 L286.2,459.8 L287.6,460.1 L288.9,460.3 L289.9,460.2 L290.1,459.8 L289.5,458.9 L288.5,458.1 L287.3,457.2 L286.0,456.3 L284.6,455.2 L283.0,454.3 L281.1,453.2 L278.9,451.7 L276.6,450.2 L274.1,449.0 L271.9,448.1 L270.1,447.8Z"/>
<path d="M169.8,472.0 L169.0,473.3 L168.3,475.2 L167.7,477.5 L167.4,480.0 L167.5,482.4 L168.0,484.7 L169.0,486.6 L170.5,488.0 L172.0,488.9 L173.5,489.6 L174.8,490.1 L175.8,490.2 L176.2,489.8 L175.8,488.8 L174.9,487.7 L174.0,486.6 L173.1,485.4 L172.5,484.2 L172.0,483.3 L171.8,482.0 L171.7,480.0 L171.5,477.7 L171.2,475.4 L170.9,473.4 L170.2,472.0Z"/>
<path d="M183.9,468.2 L184.7,469.6 L186.1,471.3 L187.8,473.1 L190.0,474.8 L192.5,476.4 L195.1,477.8 L197.8,479.0 L200.7,480.3 L203.8,481.5 L207.1,482.5 L210.4,483.4 L213.8,483.9 L217.3,484.1 L221.0,483.9 L224.6,483.4 L228.2,482.9 L231.4,482.4 L234.3,481.9 L236.8,481.5 L239.0,481.1 L240.9,480.7 L242.6,480.3 L244.3,480.0 L246.0,480.0 L247.9,480.1 L250.1,480.4 L252.4,480.5 L254.6,480.6 L256.5,480.6 L258.0,480.2 L258.0,479.8 L256.9,478.9 L255.2,478.1 L253.1,477.2 L250.8,476.5 L248.3,476.2 L246.0,476.0 L243.9,476.2 L241.9,476.4 L240.1,476.8 L238.2,477.3 L236.1,477.7 L233.7,478.1 L230.8,478.5 L227.5,479.0 L224.1,479.6 L220.6,480.0 L217.3,480.2 L214.2,480.1 L211.2,479.6 L208.2,478.8 L205.2,477.8 L202.2,476.6 L199.4,475.4 L196.9,474.2 L194.5,473.0 L192.2,471.6 L189.9,470.2 L187.7,469.0 L185.8,468.1 L184.1,467.8Z"/>
<path d="M245.8,478.1 L245.6,479.0 L245.6,480.3 L245.7,481.8 L245.8,483.4 L246.0,485.0 L246.4,486.4 L246.7,487.8 L247.3,489.3 L247.9,490.8 L248.5,492.2 L249.1,493.3 L249.8,494.1 L250.2,493.9 L250.4,493.0 L250.4,491.7 L250.3,490.2 L250.2,488.6 L250.0,487.0 L249.6,485.6 L249.3,484.2 L248.7,482.7 L248.1,481.2 L247.5,479.8 L246.9,478.7 L246.2,477.9Z"/>
<circle cx="384" cy="192" r="2.3"/><circle cx="358" cy="211" r="2.3"/><circle cx="388" cy="226" r="2.7"/><circle cx="301" cy="222" r="3.0"/><circle cx="376" cy="258" r="2.7"/><circle cx="376" cy="258" r="3.2"/><circle cx="376" cy="258" r="3.0"/><circle cx="370.8" cy="315.6" r="2.4"/><circle cx="258" cy="316" r="2.1"/><circle cx="336" cy="326" r="2.7"/><circle cx="238" cy="330" r="2.1"/><circle cx="218" cy="348" r="2.7"/><circle cx="206" cy="360" r="2.7"/><circle cx="206" cy="360" r="2.1"/><circle cx="152" cy="360" r="2.1"/><circle cx="152" cy="404" r="2.6"/><circle cx="174" cy="446" r="2.6"/><circle cx="272" cy="354" r="2.7"/><circle cx="270" cy="448" r="2.4"/><circle cx="246" cy="478" r="2.1"/></g>
<clipPath id="cy"><path d="M435.0,182.0 C437.3,180.0 443.7,179.0 448.0,178.0 C452.3,177.0 454.8,176.2 461.0,176.0 C467.2,175.8 478.0,175.8 485.0,177.0 C492.0,178.2 497.7,180.8 503.0,183.0 C508.3,185.2 510.0,188.0 517.0,190.0 C524.0,192.0 536.8,193.5 545.0,195.0 C553.2,196.5 560.2,197.7 566.0,199.0 C571.8,200.3 574.3,200.8 580.0,203.0 C585.7,205.2 594.7,209.9 600.0,212.0 C605.3,214.1 608.0,214.1 612.0,215.5 C616.0,216.9 620.2,218.2 624.0,220.4 C627.8,222.6 631.3,225.7 635.0,228.4 C638.7,231.1 642.3,234.0 646.0,236.4 C649.7,238.8 652.7,240.6 657.0,243.0 C661.3,245.4 666.8,248.4 672.0,250.8 C677.2,253.2 683.2,254.8 688.0,257.5 C692.8,260.2 697.5,263.6 701.0,267.0 C704.5,270.4 707.3,273.7 709.0,278.0 C710.7,282.3 710.5,288.5 711.0,293.0 C711.5,297.5 713.8,293.8 712.0,305.0 C710.2,316.2 712.0,344.2 700.0,360.0 C688.0,375.8 663.3,394.2 640.0,400.0 C616.7,405.8 588.3,401.7 560.0,395.0 C531.7,388.3 490.0,367.2 470.0,360.0 C450.0,352.8 447.0,352.3 440.0,352.0 C433.0,351.7 432.0,355.9 428.0,358.0 C424.0,360.1 419.6,363.1 416.0,364.5 C412.4,365.9 409.7,366.2 406.7,366.4 C403.7,366.6 400.6,366.9 398.0,365.5 C395.4,364.1 392.8,360.6 390.8,358.0 C388.8,355.4 386.6,353.0 386.0,350.0 C385.4,347.0 386.5,342.8 387.0,340.0 C387.5,337.2 388.2,335.5 389.0,333.0 C389.8,330.5 390.8,327.5 392.0,325.0 C393.2,322.5 394.1,319.9 396.0,318.0 C397.9,316.1 401.3,315.6 403.5,313.6 C405.7,311.6 407.7,308.9 409.0,306.0 C410.3,303.1 411.2,298.9 411.5,296.0 C411.8,293.1 411.9,290.9 410.8,288.7 C409.7,286.5 406.7,285.2 405.0,282.8 C403.3,280.4 401.4,277.2 400.5,274.0 C399.6,270.8 399.6,267.4 399.8,263.7 C400.1,260.0 400.6,255.7 402.0,252.0 C403.4,248.3 405.6,245.4 408.0,241.7 C410.4,238.0 414.0,232.9 416.7,230.0 C419.4,227.1 421.8,226.3 424.0,224.0 C426.2,221.7 428.3,219.2 430.0,216.0 C431.7,212.8 433.3,209.3 434.0,205.0 C434.7,200.7 433.8,193.8 434.0,190.0 C434.2,186.2 432.7,184.0 435.0,182.0Z"/></clipPath>
<path d="M435.0,182.0 C437.3,180.0 443.7,179.0 448.0,178.0 C452.3,177.0 454.8,176.2 461.0,176.0 C467.2,175.8 478.0,175.8 485.0,177.0 C492.0,178.2 497.7,180.8 503.0,183.0 C508.3,185.2 510.0,188.0 517.0,190.0 C524.0,192.0 536.8,193.5 545.0,195.0 C553.2,196.5 560.2,197.7 566.0,199.0 C571.8,200.3 574.3,200.8 580.0,203.0 C585.7,205.2 594.7,209.9 600.0,212.0 C605.3,214.1 608.0,214.1 612.0,215.5 C616.0,216.9 620.2,218.2 624.0,220.4 C627.8,222.6 631.3,225.7 635.0,228.4 C638.7,231.1 642.3,234.0 646.0,236.4 C649.7,238.8 652.7,240.6 657.0,243.0 C661.3,245.4 666.8,248.4 672.0,250.8 C677.2,253.2 683.2,254.8 688.0,257.5 C692.8,260.2 697.5,263.6 701.0,267.0 C704.5,270.4 707.3,273.7 709.0,278.0 C710.7,282.3 710.5,288.5 711.0,293.0 C711.5,297.5 713.8,293.8 712.0,305.0 C710.2,316.2 712.0,344.2 700.0,360.0 C688.0,375.8 663.3,394.2 640.0,400.0 C616.7,405.8 588.3,401.7 560.0,395.0 C531.7,388.3 490.0,367.2 470.0,360.0 C450.0,352.8 447.0,352.3 440.0,352.0 C433.0,351.7 432.0,355.9 428.0,358.0 C424.0,360.1 419.6,363.1 416.0,364.5 C412.4,365.9 409.7,366.2 406.7,366.4 C403.7,366.6 400.6,366.9 398.0,365.5 C395.4,364.1 392.8,360.6 390.8,358.0 C388.8,355.4 386.6,353.0 386.0,350.0 C385.4,347.0 386.5,342.8 387.0,340.0 C387.5,337.2 388.2,335.5 389.0,333.0 C389.8,330.5 390.8,327.5 392.0,325.0 C393.2,322.5 394.1,319.9 396.0,318.0 C397.9,316.1 401.3,315.6 403.5,313.6 C405.7,311.6 407.7,308.9 409.0,306.0 C410.3,303.1 411.2,298.9 411.5,296.0 C411.8,293.1 411.9,290.9 410.8,288.7 C409.7,286.5 406.7,285.2 405.0,282.8 C403.3,280.4 401.4,277.2 400.5,274.0 C399.6,270.8 399.6,267.4 399.8,263.7 C400.1,260.0 400.6,255.7 402.0,252.0 C403.4,248.3 405.6,245.4 408.0,241.7 C410.4,238.0 414.0,232.9 416.7,230.0 C419.4,227.1 421.8,226.3 424.0,224.0 C426.2,221.7 428.3,219.2 430.0,216.0 C431.7,212.8 433.3,209.3 434.0,205.0 C434.7,200.7 433.8,193.8 434.0,190.0 C434.2,186.2 432.7,184.0 435.0,182.0Z" fill="#ece06c"/>
<g clip-path="url(#cy)" fill="none" stroke="#e2d347" stroke-linecap="round" stroke-linejoin="round">
<path d="M435.0,182.0 C437.3,180.0 443.7,179.0 448.0,178.0 C452.3,177.0 454.8,176.2 461.0,176.0 C467.2,175.8 478.0,175.8 485.0,177.0 C492.0,178.2 497.7,180.8 503.0,183.0 C508.3,185.2 510.0,188.0 517.0,190.0 C524.0,192.0 536.8,193.5 545.0,195.0 C553.2,196.5 560.2,197.7 566.0,199.0 C571.8,200.3 574.3,200.8 580.0,203.0 C585.7,205.2 594.7,209.9 600.0,212.0 C605.3,214.1 608.0,214.1 612.0,215.5 C616.0,216.9 620.2,218.2 624.0,220.4 C627.8,222.6 631.3,225.7 635.0,228.4 C638.7,231.1 642.3,234.0 646.0,236.4 C649.7,238.8 652.7,240.6 657.0,243.0 C661.3,245.4 666.8,248.4 672.0,250.8 C677.2,253.2 683.2,254.8 688.0,257.5 C692.8,260.2 697.5,263.6 701.0,267.0 C704.5,270.4 707.3,273.7 709.0,278.0 C710.7,282.3 710.5,288.5 711.0,293.0 C711.5,297.5 713.8,293.8 712.0,305.0 C710.2,316.2 712.0,344.2 700.0,360.0 C688.0,375.8 663.3,394.2 640.0,400.0 C616.7,405.8 588.3,401.7 560.0,395.0 C531.7,388.3 490.0,367.2 470.0,360.0 C450.0,352.8 447.0,352.3 440.0,352.0 C433.0,351.7 432.0,355.9 428.0,358.0 C424.0,360.1 419.6,363.1 416.0,364.5 C412.4,365.9 409.7,366.2 406.7,366.4 C403.7,366.6 400.6,366.9 398.0,365.5 C395.4,364.1 392.8,360.6 390.8,358.0 C388.8,355.4 386.6,353.0 386.0,350.0 C385.4,347.0 386.5,342.8 387.0,340.0 C387.5,337.2 388.2,335.5 389.0,333.0 C389.8,330.5 390.8,327.5 392.0,325.0 C393.2,322.5 394.1,319.9 396.0,318.0 C397.9,316.1 401.3,315.6 403.5,313.6 C405.7,311.6 407.7,308.9 409.0,306.0 C410.3,303.1 411.2,298.9 411.5,296.0 C411.8,293.1 411.9,290.9 410.8,288.7 C409.7,286.5 406.7,285.2 405.0,282.8 C403.3,280.4 401.4,277.2 400.5,274.0 C399.6,270.8 399.6,267.4 399.8,263.7 C400.1,260.0 400.6,255.7 402.0,252.0 C403.4,248.3 405.6,245.4 408.0,241.7 C410.4,238.0 414.0,232.9 416.7,230.0 C419.4,227.1 421.8,226.3 424.0,224.0 C426.2,221.7 428.3,219.2 430.0,216.0 C431.7,212.8 433.3,209.3 434.0,205.0 C434.7,200.7 433.8,193.8 434.0,190.0 C434.2,186.2 432.7,184.0 435.0,182.0Z" stroke-width="18"/>
<path d="M398.0,367.0 C398.2,364.2 397.7,368.2 400.0,368.0 C402.3,367.8 407.3,367.7 412.0,366.0 C416.7,364.3 423.3,360.3 428.0,358.0 C432.7,355.7 434.7,353.5 440.0,352.0 C445.3,350.5 453.3,349.5 460.0,349.0 C466.7,348.5 473.3,350.2 480.0,349.0 C486.7,347.8 493.7,342.8 500.0,342.0 C506.3,341.2 514.0,342.3 518.0,344.0 C522.0,345.7 522.7,348.3 524.0,352.0 C525.3,355.7 524.0,361.0 526.0,366.0 C528.0,371.0 532.3,378.0 536.0,382.0 C539.7,386.0 543.3,388.2 548.0,390.0 C552.7,391.8 558.7,392.0 564.0,393.0 C569.3,394.0 574.0,395.0 580.0,396.0 C586.0,397.0 593.3,398.3 600.0,399.0 C606.7,399.7 614.7,400.0 620.0,400.0 C625.3,400.0 627.8,395.7 632.0,399.0 C636.2,402.3 643.7,410.7 645.0,420.0 C646.3,429.3 646.2,449.0 640.0,455.0 C633.8,461.0 614.7,454.5 608.0,456.0 C601.3,457.5 603.3,461.3 600.0,464.0 C596.7,466.7 592.7,469.3 588.0,472.0 C583.3,474.7 577.3,477.3 572.0,480.0 C566.7,482.7 563.0,486.5 556.0,488.0 C549.0,489.5 538.7,488.8 530.0,489.0 C521.3,489.2 510.2,488.0 504.0,489.0 C497.8,490.0 496.7,491.2 493.0,495.0 C489.3,498.8 485.8,507.3 482.0,512.0 C478.2,516.7 473.8,519.3 470.0,523.0 C466.2,526.7 462.7,529.3 459.0,534.0 C455.3,538.7 451.7,547.3 448.0,551.0 C444.3,554.7 441.7,554.2 437.0,556.0 C432.3,557.8 424.2,560.0 420.0,562.0 C415.8,564.0 414.8,566.2 412.0,568.0 C409.2,569.8 407.3,571.2 403.0,573.0 C398.7,574.8 393.0,577.8 386.0,579.0 C379.0,580.2 367.5,580.5 361.0,580.0 C354.5,579.5 351.2,578.0 347.0,576.0 C342.8,574.0 341.2,570.3 336.0,568.0 C330.8,565.7 322.5,564.3 316.0,562.0 C309.5,559.7 302.5,559.2 297.0,554.0 C291.5,548.8 285.8,538.0 283.0,531.0 C280.2,524.0 280.2,517.2 280.0,512.0 C279.8,506.8 281.0,504.7 282.0,500.0 C283.0,495.3 284.7,489.7 286.0,484.0 C287.3,478.3 287.3,471.0 290.0,466.0 C292.7,461.0 298.0,458.3 302.0,454.0 C306.0,449.7 311.0,444.0 314.0,440.0 C317.0,436.0 318.0,433.7 320.0,430.0 C322.0,426.3 324.0,421.3 326.0,418.0 C328.0,414.7 328.7,412.7 332.0,410.0 C335.3,407.3 341.7,404.0 346.0,402.0 C350.3,400.0 354.8,399.2 358.0,398.0 C361.2,396.8 363.8,396.7 365.5,395.0 C367.2,393.3 366.9,390.2 368.0,388.0 C369.1,385.8 370.2,383.4 372.0,382.0 C373.8,380.6 376.3,379.8 379.0,379.5 C381.7,379.2 384.7,379.1 388.0,380.0 C391.3,380.9 397.3,387.2 399.0,385.0 C400.7,382.8 397.8,369.8 398.0,367.0Z" stroke-width="18"/>
<path d="M712.0,299.0 C715.3,298.7 721.3,301.3 725.0,304.0 C728.7,306.7 731.0,310.2 734.0,315.0 C737.0,319.8 739.3,327.8 743.0,333.0 C746.7,338.2 752.3,342.3 756.0,346.0 C759.7,349.7 762.8,350.7 765.0,355.0 C767.2,359.3 768.7,366.2 769.0,372.0 C769.3,377.8 767.8,385.2 767.0,390.0 C766.2,394.8 764.3,397.3 764.0,401.0 C763.7,404.7 765.2,407.5 765.0,412.0 C764.8,416.5 764.8,422.2 763.0,428.0 C761.2,433.8 758.2,441.7 754.0,447.0 C749.8,452.3 743.2,456.8 738.0,460.0 C732.8,463.2 728.8,464.7 723.0,466.0 C717.2,467.3 709.2,467.2 703.0,468.0 C696.8,468.8 691.8,470.2 686.0,471.0 C680.2,471.8 673.5,473.0 668.0,473.0 C662.5,473.0 658.2,472.3 653.0,471.0 C647.8,469.7 641.8,467.5 637.0,465.0 C632.2,462.5 628.0,458.7 624.0,456.0 C620.0,453.3 615.3,452.3 613.0,449.0 C610.7,445.7 610.0,440.3 610.0,436.0 C610.0,431.7 611.0,427.0 613.0,423.0 C615.0,419.0 619.0,416.0 622.0,412.0 C625.0,408.0 627.0,403.0 631.0,399.0 C635.0,395.0 639.8,391.7 646.0,388.0 C652.2,384.3 661.8,381.0 668.0,377.0 C674.2,373.0 679.0,368.5 683.0,364.0 C687.0,359.5 689.3,354.5 692.0,350.0 C694.7,345.5 697.5,342.0 699.0,337.0 C700.5,332.0 700.0,325.2 701.0,320.0 C702.0,314.8 703.2,309.5 705.0,306.0 C706.8,302.5 708.7,299.3 712.0,299.0Z" stroke-width="18"/>
<path d="M462.0,197.0 C464.0,197.7 469.7,200.5 474.0,201.0 C478.3,201.5 484.0,201.2 488.0,200.0 C492.0,198.8 496.0,196.3 498.0,194.0 C500.0,191.7 500.7,187.8 500.0,186.0 C499.3,184.2 495.0,183.5 494.0,183.0" stroke-width="17"/>
<path d="M474.0,202.0 C472.7,203.7 468.7,208.3 466.0,212.0 C463.3,215.7 460.3,220.3 458.0,224.0 C455.7,227.7 453.3,230.7 452.0,234.0 C450.7,237.3 451.7,241.7 450.0,244.0 C448.3,246.3 445.0,246.3 442.0,248.0 C439.0,249.7 434.3,252.0 432.0,254.0 C429.7,256.0 428.7,257.3 428.0,260.0 C427.3,262.7 429.3,267.7 428.0,270.0 C426.7,272.3 421.3,273.3 420.0,274.0" stroke-width="17"/>
<path d="M428.0,270.0 C429.0,271.0 432.0,275.3 434.0,276.0 C436.0,276.7 439.0,274.3 440.0,274.0" stroke-width="17"/>
<path d="M458.0,222.0 C459.7,222.0 465.0,222.7 468.0,222.0 C471.0,221.3 474.7,218.7 476.0,218.0" stroke-width="17"/>
<path d="M466.0,224.0 C466.3,224.7 467.7,227.3 468.0,228.0" stroke-width="17"/>
<path d="M492.0,213.0 C494.0,213.5 500.7,214.8 504.0,216.0 C507.3,217.2 510.7,219.3 512.0,220.0" stroke-width="17"/>
<path d="M504.0,216.0 C503.3,217.0 500.7,221.0 500.0,222.0" stroke-width="17"/>
<path d="M520.0,199.0 C521.2,200.8 524.7,206.5 527.0,210.0 C529.3,213.5 531.5,216.3 534.0,220.0 C536.5,223.7 539.7,228.3 542.0,232.0 C544.3,235.7 546.8,239.2 548.0,242.0 C549.2,244.8 548.8,247.8 549.0,249.0" stroke-width="17"/>
<path d="M534.0,220.0 C532.7,220.3 527.3,221.7 526.0,222.0" stroke-width="17"/>
<path d="M534.0,220.0 C535.3,219.3 539.0,217.5 542.0,216.0 C545.0,214.5 549.8,212.3 552.0,211.0 C554.2,209.7 553.0,208.7 555.0,208.0 C557.0,207.3 561.0,207.2 564.0,207.0 C567.0,206.8 571.5,206.6 573.0,206.5" stroke-width="17"/>
<path d="M555.0,208.0 C554.2,207.2 551.7,204.8 550.0,203.0 C548.3,201.2 545.8,198.0 545.0,197.0" stroke-width="17"/>
<path d="M562.0,226.0 C564.0,227.0 571.3,229.3 574.0,232.0 C576.7,234.7 577.3,239.0 578.0,242.0 C578.7,245.0 578.0,248.7 578.0,250.0" stroke-width="17"/>
<path d="M574.0,234.8 C577.0,235.3 586.3,237.0 592.0,238.0 C597.7,239.0 603.3,240.2 608.0,241.0 C612.7,241.8 616.8,242.2 620.0,242.5 C623.2,242.8 625.8,242.9 627.0,243.0" stroke-width="17"/>
<path d="M608.0,223.6 C609.7,224.0 615.3,225.2 618.0,226.0 C620.7,226.8 622.5,229.1 624.0,228.4 C625.5,227.7 627.0,223.6 627.0,222.0 C627.0,220.4 624.5,219.3 624.0,218.8" stroke-width="17"/>
<path d="M624.0,228.4 C624.2,229.7 624.5,233.6 625.0,236.0 C625.5,238.4 625.8,239.8 627.2,242.8 C628.6,245.8 631.5,250.5 633.6,254.0 C635.7,257.5 637.9,260.4 640.0,263.6 C642.1,266.8 645.1,269.8 646.4,273.0 C647.7,276.2 647.7,281.2 648.0,282.8" stroke-width="17"/>
<path d="M591.0,259.0 C591.7,259.8 594.3,261.8 595.0,264.0 C595.7,266.2 595.2,269.0 595.0,272.0 C594.8,275.0 594.5,279.0 594.0,282.0 C593.5,285.0 592.3,288.7 592.0,290.0" stroke-width="17"/>
<path d="M595.0,264.0 C597.0,263.3 603.0,261.0 607.0,260.0 C611.0,259.0 617.0,258.3 619.0,258.0" stroke-width="17"/>
<path d="M488.0,232.0 C487.0,233.7 483.7,239.0 482.0,242.0 C480.3,245.0 480.7,247.7 478.0,250.0 C475.3,252.3 469.0,254.7 466.0,256.0 C463.0,257.3 461.7,255.7 460.0,258.0 C458.3,260.3 457.0,266.0 456.0,270.0 C455.0,274.0 455.0,278.0 454.0,282.0 C453.0,286.0 452.0,290.0 450.0,294.0 C448.0,298.0 444.3,302.0 442.0,306.0 C439.7,310.0 438.3,314.0 436.0,318.0 C433.7,322.0 429.0,326.0 428.0,330.0 C427.0,334.0 428.0,338.7 430.0,342.0 C432.0,345.3 438.3,348.7 440.0,350.0" stroke-width="17"/>
<path d="M428.0,332.0 C425.3,332.7 415.7,336.7 412.0,336.0 C408.3,335.3 407.0,329.3 406.0,328.0" stroke-width="17"/>
<path d="M412.0,336.0 C412.0,337.7 412.0,344.3 412.0,346.0" stroke-width="17"/>
<path d="M464.0,258.0 C465.7,259.7 471.3,265.0 474.0,268.0 C476.7,271.0 478.7,273.3 480.0,276.0 C481.3,278.7 482.7,281.0 482.0,284.0 C481.3,287.0 479.0,289.7 476.0,294.0 C473.0,298.3 466.0,307.3 464.0,310.0" stroke-width="17"/>
<path d="M482.0,278.0 C485.0,276.3 497.0,269.7 500.0,268.0" stroke-width="17"/>
<path d="M512.0,250.0 C513.3,251.0 518.0,253.7 520.0,256.0 C522.0,258.3 524.0,261.7 524.0,264.0 C524.0,266.3 522.0,268.0 520.0,270.0 C518.0,272.0 514.3,273.3 512.0,276.0 C509.7,278.7 507.3,282.0 506.0,286.0 C504.7,290.0 504.0,296.0 504.0,300.0 C504.0,304.0 507.3,306.7 506.0,310.0 C504.7,313.3 499.7,316.7 496.0,320.0 C492.3,323.3 488.7,327.0 484.0,330.0 C479.3,333.0 470.7,336.7 468.0,338.0" stroke-width="17"/>
<path d="M524.0,266.0 C525.3,267.3 530.3,271.0 532.0,274.0 C533.7,277.0 534.0,281.3 534.0,284.0 C534.0,286.7 532.3,289.0 532.0,290.0" stroke-width="17"/>
<path d="M562.0,268.0 C562.3,269.7 565.0,275.0 564.0,278.0 C563.0,281.0 557.7,282.3 556.0,286.0 C554.3,289.7 554.3,297.7 554.0,300.0" stroke-width="17"/>
<path d="M564.0,280.0 C565.3,282.3 570.0,289.0 572.0,294.0 C574.0,299.0 575.3,305.3 576.0,310.0 C576.7,314.7 575.3,319.7 576.0,322.0 C576.7,324.3 577.3,324.7 580.0,324.0 C582.7,323.3 587.3,321.0 592.0,318.0 C596.7,315.0 603.3,309.7 608.0,306.0 C612.7,302.3 617.3,298.7 620.0,296.0 C622.7,293.3 622.7,294.3 624.0,290.0 C625.3,285.7 627.3,273.3 628.0,270.0" stroke-width="17"/>
<path d="M622.0,290.0 C621.3,289.7 618.7,288.3 618.0,288.0" stroke-width="17"/>
<path d="M666.0,250.0 C667.7,251.0 673.7,252.7 676.0,256.0 C678.3,259.3 679.0,266.0 680.0,270.0 C681.0,274.0 681.3,276.7 682.0,280.0 C682.7,283.3 683.3,286.3 684.0,290.0 C684.7,293.7 685.0,299.0 686.0,302.0 C687.0,305.0 689.3,307.0 690.0,308.0" stroke-width="17"/>
<path d="M666.0,288.0 C666.3,290.0 669.0,296.0 668.0,300.0 C667.0,304.0 661.3,310.0 660.0,312.0" stroke-width="17"/>
<path d="M668.0,300.0 C668.0,301.7 666.0,306.7 668.0,310.0 C670.0,313.3 676.3,316.7 680.0,320.0 C683.7,323.3 687.3,326.7 690.0,330.0 C692.7,333.3 695.0,338.3 696.0,340.0" stroke-width="17"/>
<path d="M640.0,297.0 C639.5,297.5 637.8,298.3 637.0,300.0 C636.2,301.7 636.2,304.8 635.0,307.0 C633.8,309.2 632.3,311.2 630.0,313.0 C627.7,314.8 623.3,316.2 621.0,318.0 C618.7,319.8 616.5,321.3 616.0,324.0 C615.5,326.7 616.8,331.0 618.0,334.0 C619.2,337.0 622.0,338.7 623.0,342.0 C624.0,345.3 623.8,352.0 624.0,354.0" stroke-width="17"/>
<path d="M648.0,339.0 C648.5,339.8 648.3,343.0 651.0,344.0 C653.7,345.0 659.8,344.3 664.0,345.0 C668.2,345.7 672.8,346.5 676.0,348.0 C679.2,349.5 681.7,351.7 683.0,354.0 C684.3,356.3 683.8,360.7 684.0,362.0" stroke-width="17"/>
<path d="M651.0,344.0 C650.0,345.5 647.2,349.8 645.0,353.0 C642.8,356.2 639.7,360.2 638.0,363.0 C636.3,365.8 635.5,368.8 635.0,370.0" stroke-width="17"/>
<path d="M607.6,345.0 C607.8,346.8 610.4,352.7 609.0,356.0 C607.6,359.3 600.7,363.5 599.0,365.0" stroke-width="17"/>
<path d="M609.0,356.0 C610.0,357.7 614.0,364.3 615.0,366.0" stroke-width="17"/>
<path d="M702.0,302.0 C701.7,303.3 699.7,308.0 700.0,310.0 C700.3,312.0 701.3,313.0 704.0,314.0 C706.7,315.0 714.0,315.7 716.0,316.0" stroke-width="17"/>
<path d="M566.0,346.0 C567.7,347.0 575.3,349.7 576.0,352.0 C576.7,354.3 571.7,357.0 570.0,360.0 C568.3,363.0 567.7,366.3 566.0,370.0 C564.3,373.7 561.7,378.7 560.0,382.0 C558.3,385.3 556.3,387.3 556.0,390.0 C555.7,392.7 557.0,395.3 558.0,398.0 C559.0,400.7 561.3,404.7 562.0,406.0" stroke-width="17"/>
<path d="M556.0,386.0 C553.3,386.7 544.0,388.0 540.0,390.0 C536.0,392.0 533.3,396.7 532.0,398.0" stroke-width="17"/>
<path d="M498.0,326.0 C501.5,322.3 510.0,323.7 516.0,323.0 C522.0,322.3 528.8,321.5 534.0,322.0 C539.2,322.5 543.3,324.0 547.0,326.0 C550.7,328.0 552.8,333.3 556.0,334.0 C559.2,334.7 560.3,331.0 566.0,330.0 C571.7,329.0 582.7,327.7 590.0,328.0 C597.3,328.3 601.7,331.7 610.0,332.0 C618.3,332.3 628.3,330.3 640.0,330.0 C651.7,329.7 670.0,329.0 680.0,330.0 C690.0,331.0 698.0,330.3 700.0,336.0 C702.0,341.7 698.3,355.8 692.0,364.0 C685.7,372.2 672.0,379.3 662.0,385.0 C652.0,390.7 642.3,395.2 632.0,398.0 C621.7,400.8 612.0,401.7 600.0,402.0 C588.0,402.3 576.7,400.7 560.0,400.0 C543.3,399.3 510.8,407.2 500.0,398.0 C489.2,388.8 495.3,357.0 495.0,345.0 C494.7,333.0 494.5,329.7 498.0,326.0Z" fill="#dcc63a" stroke="none"/>
<path d="M386.0,340.0 C388.0,336.0 394.3,336.3 400.0,336.0 C405.7,335.7 413.3,337.0 420.0,338.0 C426.7,339.0 433.0,340.7 440.0,342.0 C447.0,343.3 462.0,343.5 462.0,346.0 C462.0,348.5 447.0,354.0 440.0,357.0 C433.0,360.0 426.7,362.2 420.0,364.0 C413.3,365.8 405.3,368.7 400.0,368.0 C394.7,367.3 390.3,364.7 388.0,360.0 C385.7,355.3 384.0,344.0 386.0,340.0Z" fill="#dcc63a" stroke="none"/>
</g>
<g fill="#3d3b45">
<path d="M461.9,197.2 L462.8,198.6 L464.3,200.0 L466.2,201.4 L468.5,202.5 L471.1,203.3 L473.6,203.8 L476.1,204.0 L478.7,204.0 L481.3,203.9 L483.9,203.7 L486.4,203.3 L488.8,202.7 L491.0,201.9 L493.2,201.0 L495.2,199.8 L497.1,198.6 L498.7,197.3 L500.1,195.8 L501.3,194.1 L502.2,192.3 L502.7,190.4 L503.0,188.6 L503.0,186.8 L502.5,184.9 L501.1,183.3 L499.4,182.5 L497.8,182.2 L496.3,182.2 L495.0,182.4 L494.1,182.8 L493.9,183.2 L494.5,184.2 L495.4,185.0 L496.5,185.8 L497.3,186.5 L497.7,187.1 L497.5,187.1 L497.4,187.3 L497.4,188.1 L497.3,189.2 L496.9,190.3 L496.5,191.3 L495.9,192.2 L495.0,193.1 L493.8,194.1 L492.3,195.0 L490.7,195.9 L489.0,196.7 L487.2,197.3 L485.3,197.8 L483.2,198.1 L480.9,198.3 L478.6,198.4 L476.4,198.4 L474.4,198.2 L472.4,197.9 L470.3,197.2 L468.0,196.8 L465.7,196.5 L463.7,196.4 L462.1,196.8Z"/>
<path d="M473.8,201.8 L472.2,202.3 L470.5,203.3 L468.6,204.7 L466.8,206.4 L465.2,208.4 L463.7,210.3 L462.3,212.3 L460.9,214.4 L459.5,216.5 L458.2,218.5 L456.9,220.6 L455.6,222.5 L454.5,224.2 L453.4,225.9 L452.3,227.6 L451.2,229.3 L450.2,231.1 L449.4,233.0 L448.8,235.2 L448.5,237.3 L448.3,239.1 L448.2,240.7 L448.0,241.8 L447.7,242.4 L447.3,242.8 L446.6,243.2 L445.5,243.6 L444.1,244.1 L442.4,244.7 L440.7,245.5 L439.0,246.4 L437.2,247.4 L435.4,248.4 L433.5,249.5 L431.7,250.7 L430.2,251.8 L429.0,252.9 L428.0,254.0 L427.1,255.2 L426.3,256.5 L425.7,257.8 L425.2,259.5 L425.1,261.5 L425.2,263.6 L425.5,265.5 L425.6,267.1 L425.6,268.2 L425.6,268.6 L425.3,268.9 L424.4,269.6 L423.2,270.6 L421.9,271.6 L420.6,272.6 L419.9,273.8 L420.1,274.2 L421.3,274.6 L422.9,274.7 L424.8,274.6 L426.8,274.2 L428.8,273.2 L430.4,271.4 L431.2,269.0 L431.2,266.8 L431.0,264.8 L430.8,263.0 L430.7,261.5 L430.8,260.5 L431.0,259.7 L431.3,259.0 L431.7,258.3 L432.2,257.7 L432.9,257.0 L433.8,256.2 L434.9,255.3 L436.4,254.3 L438.1,253.3 L439.9,252.3 L441.7,251.3 L443.3,250.5 L444.6,249.9 L446.0,249.4 L447.5,248.9 L449.1,248.2 L450.8,247.2 L452.3,245.6 L453.3,243.6 L453.7,241.5 L453.9,239.6 L454.0,237.8 L454.2,236.3 L454.6,235.0 L455.2,233.6 L456.0,232.1 L457.0,230.6 L458.0,229.0 L459.2,227.3 L460.4,225.5 L461.6,223.6 L462.9,221.6 L464.2,219.5 L465.6,217.5 L466.9,215.5 L468.3,213.7 L469.6,211.8 L471.2,209.9 L472.4,207.8 L473.4,205.7 L474.1,203.8 L474.2,202.2Z"/>
<path d="M427.8,270.2 L428.0,271.3 L428.5,272.7 L429.3,274.3 L430.3,275.9 L431.5,277.3 L433.3,278.2 L435.2,278.2 L436.8,277.6 L438.0,276.8 L439.0,275.9 L439.7,275.0 L440.1,274.2 L439.9,273.8 L439.0,273.6 L437.9,273.8 L436.7,274.0 L435.7,274.1 L434.9,274.0 L434.7,273.8 L434.3,273.5 L433.3,272.8 L432.0,271.9 L430.6,271.0 L429.4,270.2 L428.2,269.8Z"/>
<path d="M458.0,222.2 L459.1,223.0 L460.6,223.6 L462.4,224.1 L464.5,224.6 L466.5,224.6 L468.5,224.3 L470.4,223.8 L472.1,222.7 L473.5,221.5 L474.7,220.4 L475.6,219.3 L476.1,218.2 L475.9,217.8 L474.7,217.7 L473.3,218.0 L471.8,218.5 L470.2,218.9 L468.7,219.3 L467.5,219.7 L466.1,219.8 L464.4,220.0 L462.6,220.4 L460.8,220.7 L459.2,221.1 L458.0,221.8Z"/>
<path d="M465.8,224.1 L465.7,224.4 L465.6,224.8 L465.7,225.3 L465.7,225.7 L465.8,226.1 L465.9,226.6 L466.2,226.9 L466.5,227.2 L466.8,227.5 L467.1,227.8 L467.4,228.0 L467.8,228.1 L468.2,227.9 L468.3,227.6 L468.4,227.2 L468.3,226.7 L468.3,226.3 L468.2,225.9 L468.1,225.4 L467.8,225.1 L467.5,224.8 L467.2,224.5 L466.9,224.2 L466.6,224.0 L466.2,223.9Z"/>
<path d="M491.9,213.2 L493.1,214.4 L494.9,215.5 L497.0,216.5 L499.2,217.3 L501.4,217.9 L503.1,218.5 L504.6,219.0 L506.3,219.4 L507.9,219.8 L509.4,220.2 L510.7,220.4 L511.9,220.2 L512.1,219.8 L511.6,218.7 L510.8,217.7 L509.6,216.6 L508.3,215.4 L506.7,214.3 L504.9,213.5 L502.8,212.9 L500.5,212.3 L498.0,212.0 L495.6,212.0 L493.6,212.2 L492.1,212.8Z"/>
<path d="M503.8,215.9 L503.3,216.0 L502.8,216.3 L502.3,216.7 L501.7,217.2 L501.2,217.7 L500.7,218.1 L500.5,218.8 L500.2,219.4 L500.0,220.1 L499.8,220.8 L499.7,221.3 L499.8,221.9 L500.2,222.1 L500.7,222.0 L501.2,221.7 L501.7,221.3 L502.3,220.8 L502.8,220.3 L503.3,219.9 L503.5,219.2 L503.8,218.6 L504.0,217.9 L504.2,217.2 L504.3,216.7 L504.2,216.1Z"/>
<path d="M519.8,199.1 L519.8,200.8 L520.4,202.8 L521.2,205.0 L522.4,207.3 L523.7,209.4 L525.0,211.3 L526.2,213.1 L527.3,214.7 L528.5,216.3 L529.6,217.9 L530.8,219.6 L532.0,221.4 L533.3,223.3 L534.7,225.3 L536.1,227.3 L537.4,229.4 L538.8,231.4 L540.0,233.3 L541.2,235.1 L542.3,236.9 L543.4,238.6 L544.4,240.2 L545.2,241.6 L545.8,242.9 L546.4,244.0 L546.9,245.1 L547.4,246.2 L547.8,247.3 L548.1,248.3 L548.8,249.0 L549.2,249.0 L549.8,248.2 L550.1,247.3 L550.4,246.0 L550.6,244.5 L550.5,242.9 L550.2,241.1 L549.4,239.4 L548.5,237.8 L547.5,236.0 L546.3,234.3 L545.2,232.5 L544.0,230.7 L542.8,228.8 L541.4,226.7 L540.1,224.7 L538.7,222.6 L537.3,220.6 L536.0,218.6 L534.7,216.9 L533.5,215.2 L532.4,213.5 L531.3,212.0 L530.1,210.3 L529.0,208.7 L527.8,206.8 L526.4,204.7 L524.9,202.7 L523.2,201.0 L521.7,199.6 L520.2,198.9Z"/>
<path d="M533.9,219.8 L533.4,219.5 L532.7,219.4 L532.0,219.4 L531.2,219.3 L530.3,219.4 L529.6,219.4 L528.9,219.7 L528.2,220.1 L527.5,220.5 L526.8,220.9 L526.3,221.3 L525.9,221.8 L526.1,222.2 L526.6,222.5 L527.3,222.6 L528.0,222.6 L528.8,222.7 L529.7,222.6 L530.4,222.6 L531.1,222.3 L531.8,221.9 L532.5,221.5 L533.2,221.1 L533.7,220.7 L534.1,220.2Z"/>
<path d="M534.1,220.2 L535.2,220.4 L536.6,220.2 L538.2,219.9 L539.8,219.4 L541.5,218.9 L543.1,218.2 L544.7,217.4 L546.5,216.5 L548.4,215.6 L550.2,214.7 L551.9,213.8 L553.3,213.0 L554.5,212.1 L555.3,211.1 L555.7,210.4 L555.7,210.2 L555.6,210.4 L555.8,210.3 L556.6,210.1 L557.9,209.9 L559.3,209.7 L560.9,209.6 L562.6,209.5 L564.2,209.4 L565.8,209.3 L567.5,208.9 L569.2,208.5 L570.7,208.0 L572.1,207.5 L573.0,206.7 L573.0,206.3 L572.0,205.6 L570.6,205.2 L569.0,204.9 L567.2,204.6 L565.4,204.5 L563.8,204.6 L562.3,204.7 L560.6,204.8 L558.9,205.0 L557.3,205.1 L555.7,205.4 L554.2,205.7 L552.9,206.4 L551.9,207.3 L551.4,208.1 L551.3,208.5 L551.2,208.6 L550.7,209.0 L549.6,209.6 L548.0,210.4 L546.3,211.3 L544.4,212.2 L542.6,213.0 L540.9,213.8 L539.4,214.6 L537.9,215.7 L536.6,216.8 L535.4,217.8 L534.4,218.8 L533.9,219.8Z"/>
<path d="M555.2,207.8 L555.0,206.9 L554.5,205.9 L553.8,204.9 L553.1,203.7 L552.3,202.6 L551.6,201.5 L550.7,200.6 L549.6,199.7 L548.4,198.7 L547.2,197.8 L546.2,197.2 L545.2,196.8 L544.8,197.2 L544.9,198.2 L545.4,199.3 L546.0,200.7 L546.7,202.0 L547.5,203.4 L548.4,204.5 L549.5,205.3 L550.6,206.1 L551.8,206.9 L552.9,207.5 L553.9,208.0 L554.8,208.2Z"/>
<path d="M561.9,226.2 L562.9,227.7 L564.7,229.1 L566.8,230.6 L569.0,231.8 L570.9,232.9 L572.2,233.9 L573.0,234.9 L573.7,236.2 L574.3,237.7 L574.7,239.3 L575.1,241.0 L575.4,242.5 L575.8,243.8 L576.1,245.1 L576.5,246.5 L576.8,247.9 L577.1,249.1 L577.8,250.0 L578.2,250.0 L579.0,249.2 L579.5,248.1 L580.0,246.7 L580.4,245.1 L580.7,243.3 L580.6,241.5 L580.2,239.8 L579.8,238.0 L579.2,236.1 L578.4,234.0 L577.3,232.0 L575.8,230.1 L573.7,228.5 L571.3,227.2 L568.7,226.1 L566.1,225.7 L563.9,225.5 L562.1,225.8Z"/>
<path d="M574.0,235.0 L575.7,236.5 L578.4,237.7 L581.5,238.8 L585.0,239.4 L588.4,240.0 L591.5,240.6 L594.3,241.1 L597.1,241.6 L599.9,242.2 L602.6,242.7 L605.1,243.1 L607.6,243.6 L609.9,243.9 L612.1,244.2 L614.3,244.5 L616.2,244.7 L618.1,244.9 L619.7,245.1 L621.3,244.9 L622.8,244.7 L624.2,244.4 L625.3,244.1 L626.2,243.8 L627.0,243.2 L627.0,242.8 L626.3,242.1 L625.4,241.7 L624.3,241.3 L623.1,240.8 L621.7,240.4 L620.3,239.9 L618.6,239.7 L616.8,239.5 L614.9,239.3 L612.8,239.1 L610.7,238.8 L608.4,238.4 L606.0,238.0 L603.5,237.6 L600.9,237.1 L598.1,236.5 L595.3,236.0 L592.5,235.4 L589.4,234.9 L585.9,234.3 L582.5,233.7 L579.1,233.5 L576.2,233.8 L574.0,234.6Z"/>
<path d="M607.9,223.8 L608.9,224.9 L610.4,225.8 L612.2,226.7 L614.0,227.6 L615.8,228.1 L617.2,228.5 L618.2,228.9 L619.1,229.4 L620.1,230.0 L621.4,230.6 L623.0,231.1 L625.1,230.8 L626.7,229.5 L627.7,228.1 L628.5,226.6 L629.0,225.0 L629.1,223.4 L629.1,221.9 L628.5,220.5 L627.6,219.5 L626.6,218.9 L625.6,218.6 L624.8,218.5 L624.2,218.6 L623.8,219.0 L624.0,219.7 L624.4,220.4 L624.8,221.1 L625.1,221.7 L625.1,222.0 L624.9,222.1 L624.6,222.5 L624.1,223.4 L623.7,224.5 L623.2,225.5 L622.8,226.1 L622.9,226.0 L623.5,225.9 L623.4,225.9 L622.7,225.5 L621.7,224.9 L620.4,224.1 L618.8,223.5 L617.1,223.1 L615.2,222.6 L613.1,222.6 L611.1,222.7 L609.4,222.8 L608.1,223.4Z"/>
<path d="M623.8,228.4 L623.2,229.3 L622.9,230.5 L622.6,232.0 L622.4,233.5 L622.3,235.1 L622.5,236.5 L622.7,237.7 L623.0,238.8 L623.3,239.9 L623.7,241.1 L624.2,242.4 L624.9,243.9 L625.7,245.6 L626.8,247.5 L627.9,249.5 L629.1,251.6 L630.3,253.5 L631.4,255.4 L632.5,257.1 L633.6,258.8 L634.6,260.4 L635.7,261.9 L636.8,263.5 L637.9,265.1 L639.0,266.7 L640.2,268.3 L641.4,269.8 L642.5,271.3 L643.3,272.7 L644.0,274.0 L644.4,275.4 L644.9,277.0 L645.6,278.7 L646.2,280.4 L646.9,281.8 L647.8,282.8 L648.2,282.8 L648.9,281.6 L649.3,280.1 L649.6,278.3 L649.8,276.2 L649.5,274.1 L648.8,272.0 L647.9,270.1 L646.8,268.4 L645.6,266.7 L644.4,265.2 L643.2,263.6 L642.1,262.1 L641.1,260.6 L640.0,259.0 L639.0,257.5 L637.9,255.9 L636.9,254.3 L635.8,252.6 L634.7,250.8 L633.5,248.9 L632.4,246.9 L631.3,245.0 L630.3,243.2 L629.5,241.7 L629.0,240.4 L628.6,239.4 L628.3,238.4 L628.0,237.5 L627.8,236.6 L627.5,235.5 L627.2,234.3 L626.7,233.0 L626.1,231.6 L625.6,230.3 L625.0,229.1 L624.2,228.4Z"/>
<path d="M590.8,259.2 L590.9,260.1 L591.3,261.1 L591.8,262.1 L592.3,263.1 L592.6,264.0 L592.6,264.8 L592.7,265.5 L592.7,266.4 L592.7,267.6 L592.6,268.9 L592.5,270.3 L592.4,271.8 L592.3,273.4 L592.2,275.0 L592.0,276.8 L591.9,278.4 L591.7,280.1 L591.4,281.6 L591.2,283.0 L591.2,284.6 L591.2,286.2 L591.2,287.6 L591.3,288.9 L591.8,289.9 L592.2,290.1 L593.1,289.4 L593.9,288.4 L594.7,287.1 L595.5,285.6 L596.2,284.1 L596.6,282.4 L596.8,280.8 L597.0,279.0 L597.2,277.2 L597.4,275.5 L597.5,273.8 L597.6,272.2 L597.7,270.7 L597.8,269.3 L597.9,267.8 L597.9,266.3 L597.8,264.8 L597.4,263.2 L596.5,261.8 L595.3,260.7 L594.2,259.9 L593.1,259.3 L592.1,258.9 L591.2,258.8Z"/>
<path d="M595.1,264.2 L596.7,264.5 L598.7,264.4 L601.0,264.1 L603.3,263.6 L605.6,262.9 L607.6,262.3 L609.6,261.9 L611.8,261.5 L614.1,260.8 L616.1,260.0 L617.8,259.2 L619.0,258.2 L619.0,257.8 L617.5,257.2 L615.7,256.9 L613.4,256.7 L611.0,256.7 L608.7,257.2 L606.4,257.7 L604.2,258.3 L601.8,259.1 L599.5,260.1 L597.6,261.4 L595.9,262.5 L594.9,263.8Z"/>
<path d="M487.8,231.9 L486.3,232.5 L484.8,233.7 L483.2,235.3 L481.7,237.0 L480.5,238.9 L479.5,240.7 L478.7,242.4 L478.2,244.0 L477.7,245.3 L477.3,246.3 L476.9,247.1 L476.2,247.9 L474.9,248.8 L473.1,249.8 L471.0,250.8 L468.7,251.8 L466.7,252.7 L465.0,253.4 L464.0,253.7 L463.3,253.8 L462.3,253.8 L460.8,254.1 L459.1,254.9 L457.7,256.4 L456.7,258.2 L455.8,260.3 L455.1,262.6 L454.4,264.9 L453.8,267.2 L453.3,269.4 L452.8,271.5 L452.5,273.6 L452.2,275.6 L452.0,277.6 L451.7,279.5 L451.3,281.4 L450.8,283.3 L450.3,285.2 L449.7,287.2 L449.1,289.0 L448.3,290.9 L447.5,292.7 L446.5,294.5 L445.2,296.4 L443.9,298.4 L442.4,300.4 L440.9,302.4 L439.6,304.6 L438.4,306.7 L437.4,308.8 L436.5,310.8 L435.5,312.8 L434.6,314.7 L433.6,316.5 L432.4,318.4 L430.9,320.3 L429.3,322.3 L427.7,324.4 L426.3,326.7 L425.3,329.3 L424.9,331.8 L424.8,334.3 L425.1,336.7 L425.7,339.1 L426.5,341.4 L427.7,343.5 L429.3,345.6 L431.3,347.4 L433.7,348.8 L436.1,349.7 L438.1,350.2 L439.9,350.2 L440.1,349.8 L439.5,348.1 L438.2,346.5 L436.6,344.7 L434.9,343.1 L433.3,341.7 L432.3,340.5 L431.7,339.1 L431.0,337.5 L430.6,335.8 L430.4,334.0 L430.5,332.3 L430.7,330.7 L431.3,329.3 L432.3,327.6 L433.7,325.7 L435.3,323.7 L436.9,321.6 L438.4,319.5 L439.6,317.3 L440.6,315.2 L441.5,313.2 L442.5,311.2 L443.4,309.3 L444.4,307.4 L445.6,305.6 L446.9,303.6 L448.4,301.6 L449.9,299.6 L451.3,297.5 L452.5,295.3 L453.5,293.1 L454.3,291.0 L455.0,288.8 L455.7,286.8 L456.2,284.7 L456.7,282.6 L457.2,280.5 L457.5,278.4 L457.8,276.4 L458.0,274.4 L458.3,272.5 L458.7,270.6 L459.2,268.6 L459.8,266.4 L460.4,264.2 L461.1,262.2 L461.7,260.6 L462.3,259.6 L462.5,259.3 L462.4,259.4 L462.7,259.4 L463.7,259.4 L465.3,259.2 L467.0,258.6 L468.8,257.8 L471.0,256.9 L473.3,255.9 L475.7,254.8 L477.9,253.5 L479.8,252.1 L481.3,250.5 L482.4,248.8 L483.0,247.2 L483.5,245.8 L483.9,244.5 L484.5,243.3 L485.4,241.7 L486.5,239.9 L487.3,237.7 L487.9,235.6 L488.3,233.7 L488.2,232.1Z"/>
<path d="M427.9,331.8 L425.8,331.4 L422.9,331.6 L419.7,332.2 L416.6,333.1 L414.0,333.6 L412.4,333.6 L411.7,333.3 L410.9,332.5 L409.7,331.3 L408.5,329.9 L407.4,328.6 L406.2,327.9 L405.8,328.1 L405.7,329.4 L405.8,331.1 L406.3,333.2 L407.2,335.4 L409.0,337.2 L411.6,338.4 L414.5,338.4 L417.8,337.7 L421.1,336.8 L424.1,335.3 L426.5,333.8 L428.1,332.2Z"/>
<path d="M411.8,336.0 L411.3,336.5 L411.0,337.3 L410.8,338.2 L410.5,339.1 L410.3,340.1 L410.2,341.0 L410.3,341.9 L410.5,342.9 L410.8,343.8 L411.0,344.7 L411.3,345.5 L411.8,346.0 L412.2,346.0 L412.7,345.5 L413.0,344.7 L413.2,343.8 L413.5,342.9 L413.7,341.9 L413.8,341.0 L413.7,340.1 L413.5,339.1 L413.2,338.2 L413.0,337.3 L412.7,336.5 L412.2,336.0Z"/>
<path d="M463.8,258.2 L464.3,260.0 L465.4,262.0 L466.9,264.3 L468.8,266.3 L470.6,268.1 L472.1,269.7 L473.3,271.2 L474.4,272.5 L475.4,273.7 L476.3,274.9 L477.0,276.0 L477.7,277.2 L478.3,278.4 L478.9,279.6 L479.3,280.7 L479.5,281.6 L479.6,282.5 L479.5,283.4 L479.1,284.5 L478.5,285.7 L477.7,287.1 L476.6,288.7 L475.3,290.5 L473.9,292.5 L472.1,295.0 L469.9,297.9 L467.6,301.1 L465.5,304.2 L464.2,307.3 L463.8,309.8 L464.2,310.2 L466.5,309.1 L469.1,307.0 L471.7,304.2 L474.1,301.0 L476.3,298.0 L478.1,295.5 L479.6,293.5 L480.9,291.6 L482.1,289.9 L483.1,288.2 L483.9,286.4 L484.5,284.6 L484.8,282.6 L484.6,280.8 L484.2,279.1 L483.7,277.6 L483.0,276.2 L482.3,274.8 L481.5,273.4 L480.6,271.9 L479.6,270.5 L478.4,269.2 L477.2,267.7 L475.9,266.3 L474.3,264.5 L472.4,262.6 L470.4,260.7 L468.1,259.3 L466.0,258.2 L464.2,257.8Z"/>
<path d="M482.1,278.2 L483.4,278.2 L485.0,277.9 L486.8,277.3 L488.7,276.7 L490.5,275.8 L492.1,274.9 L493.7,274.0 L495.4,273.0 L496.9,271.7 L498.3,270.5 L499.5,269.3 L500.1,268.2 L499.9,267.8 L498.6,267.8 L497.0,268.1 L495.2,268.7 L493.3,269.3 L491.5,270.2 L489.9,271.1 L488.3,272.0 L486.6,273.0 L485.1,274.3 L483.7,275.5 L482.5,276.7 L481.9,277.8Z"/>
<path d="M511.9,250.2 L512.3,251.5 L513.3,252.9 L514.5,254.3 L515.7,255.8 L516.9,256.9 L517.9,257.9 L518.7,258.9 L519.6,260.1 L520.3,261.3 L520.8,262.4 L521.1,263.4 L521.2,264.0 L521.1,264.4 L520.9,264.8 L520.5,265.4 L519.9,266.2 L519.0,267.0 L518.1,267.9 L517.2,268.7 L516.0,269.5 L514.6,270.4 L513.1,271.4 L511.4,272.6 L509.9,274.1 L508.6,275.6 L507.4,277.3 L506.2,279.0 L505.2,280.9 L504.2,282.9 L503.3,285.1 L502.7,287.5 L502.1,290.0 L501.7,292.6 L501.4,295.2 L501.3,297.7 L501.2,300.1 L501.5,302.5 L502.2,304.6 L502.9,306.3 L503.4,307.5 L503.5,308.3 L503.4,309.0 L502.8,310.0 L501.6,311.4 L500.0,312.9 L498.1,314.5 L496.1,316.2 L494.1,317.9 L492.3,319.6 L490.4,321.3 L488.5,323.0 L486.6,324.6 L484.6,326.2 L482.5,327.6 L480.0,329.1 L477.1,330.6 L474.0,332.1 L471.3,333.9 L469.2,335.8 L467.9,337.8 L468.1,338.2 L470.4,338.5 L473.2,338.1 L476.5,337.2 L479.6,335.6 L482.7,334.0 L485.5,332.4 L487.9,330.7 L490.1,329.0 L492.2,327.2 L494.2,325.5 L496.1,323.8 L497.9,322.1 L499.7,320.5 L501.7,318.8 L503.7,317.1 L505.7,315.3 L507.3,313.3 L508.6,311.0 L509.1,308.4 L508.8,306.1 L508.1,304.2 L507.4,302.6 L507.0,301.3 L506.8,299.9 L506.9,298.0 L507.0,295.7 L507.3,293.4 L507.6,291.0 L508.1,288.8 L508.7,286.9 L509.3,285.2 L510.1,283.5 L511.0,282.0 L512.0,280.5 L513.0,279.1 L514.1,277.9 L515.1,276.9 L516.3,276.0 L517.6,275.1 L519.1,274.2 L520.6,273.2 L521.9,272.1 L523.0,271.0 L524.0,270.0 L525.0,268.8 L525.9,267.5 L526.5,265.9 L526.8,264.0 L526.6,262.1 L526.0,260.4 L525.2,258.7 L524.3,257.1 L523.2,255.6 L522.1,254.1 L520.7,252.7 L519.0,251.5 L517.0,250.7 L515.1,250.1 L513.5,249.7 L512.1,249.8Z"/>
<path d="M523.8,266.2 L524.3,267.6 L525.3,269.2 L526.5,270.9 L527.8,272.6 L529.1,274.0 L529.9,275.2 L530.5,276.4 L530.9,277.9 L531.3,279.5 L531.5,281.1 L531.6,282.7 L531.7,283.9 L531.9,284.9 L531.9,286.0 L531.8,287.1 L531.7,288.1 L531.6,289.1 L531.8,289.9 L532.2,290.1 L533.0,289.7 L533.7,289.1 L534.5,288.2 L535.2,287.1 L535.9,285.7 L536.3,284.1 L536.4,282.4 L536.2,280.6 L536.0,278.7 L535.6,276.7 L535.0,274.7 L534.1,272.8 L532.8,270.9 L531.2,269.2 L529.2,267.9 L527.3,266.8 L525.6,266.1 L524.2,265.8Z"/>
<path d="M561.8,268.1 L561.3,269.4 L561.4,271.2 L561.5,273.1 L561.5,274.9 L561.6,276.3 L561.5,277.2 L561.2,277.7 L560.2,278.6 L558.7,279.6 L556.9,281.0 L555.1,282.7 L553.7,284.9 L552.8,287.5 L552.2,290.4 L552.0,293.3 L552.4,296.0 L552.9,298.3 L553.8,300.0 L554.2,300.0 L555.4,298.5 L556.2,296.3 L557.0,293.7 L557.4,291.1 L557.8,288.8 L558.3,287.1 L559.1,286.0 L560.2,285.0 L561.8,283.9 L563.5,282.6 L565.2,281.0 L566.5,278.8 L566.8,276.3 L566.5,274.0 L565.5,271.9 L564.4,270.1 L563.3,268.8 L562.2,267.9Z"/>
<path d="M563.8,280.1 L563.8,282.2 L564.4,284.7 L565.4,287.5 L566.9,290.0 L568.3,292.6 L569.4,295.1 L570.3,297.5 L571.1,300.1 L571.8,302.8 L572.4,305.5 L572.9,308.0 L573.2,310.3 L573.4,312.4 L573.4,314.6 L573.2,316.7 L573.1,318.8 L573.0,320.8 L573.3,322.6 L573.8,324.1 L574.6,325.5 L576.0,326.6 L577.7,327.1 L579.2,327.0 L580.7,326.7 L582.4,326.2 L584.4,325.4 L586.5,324.4 L588.8,323.2 L591.1,321.8 L593.5,320.3 L596.1,318.6 L598.8,316.6 L601.7,314.5 L604.5,312.3 L607.2,310.2 L609.7,308.2 L612.1,306.4 L614.3,304.6 L616.5,302.8 L618.6,301.1 L620.4,299.5 L621.9,298.0 L623.0,297.0 L623.9,296.2 L624.7,295.3 L625.5,294.1 L626.1,292.7 L626.7,290.8 L627.4,287.9 L628.2,284.2 L629.0,280.1 L629.5,276.2 L629.1,272.6 L628.2,270.0 L627.8,270.0 L626.0,272.1 L624.5,275.3 L623.5,279.1 L622.7,283.1 L622.0,286.6 L621.3,289.2 L620.8,290.8 L620.5,291.6 L620.3,291.9 L620.0,292.2 L619.2,292.9 L618.1,294.0 L616.6,295.3 L614.9,296.8 L613.0,298.5 L610.8,300.2 L608.6,302.0 L606.3,303.8 L603.8,305.8 L601.1,307.9 L598.3,310.0 L595.5,312.1 L592.9,314.0 L590.5,315.7 L588.2,317.0 L586.1,318.3 L584.0,319.4 L582.1,320.3 L580.5,320.9 L579.3,321.3 L578.4,321.5 L578.1,321.5 L578.5,321.6 L578.9,321.9 L578.9,321.9 L578.7,321.4 L578.6,320.5 L578.6,319.0 L578.8,317.1 L578.9,314.8 L579.0,312.3 L578.8,309.7 L578.4,307.1 L577.9,304.3 L577.2,301.5 L576.5,298.6 L575.6,295.7 L574.6,292.9 L573.3,290.1 L571.8,287.3 L570.1,284.5 L568.0,282.4 L566.1,280.8 L564.2,279.9Z"/>
<path d="M622.1,289.8 L622.0,289.5 L621.8,289.2 L621.5,288.9 L621.2,288.5 L620.8,288.3 L620.5,288.0 L620.1,287.9 L619.7,287.8 L619.2,287.7 L618.8,287.7 L618.4,287.7 L618.1,287.8 L617.9,288.2 L618.0,288.5 L618.2,288.8 L618.5,289.1 L618.8,289.5 L619.2,289.7 L619.5,290.0 L619.9,290.1 L620.3,290.2 L620.8,290.3 L621.2,290.3 L621.6,290.3 L621.9,290.2Z"/>
<path d="M665.9,250.2 L666.7,251.6 L668.1,252.8 L669.8,254.1 L671.4,255.4 L672.9,256.4 L673.9,257.5 L674.7,259.0 L675.4,261.0 L676.0,263.3 L676.5,265.8 L677.0,268.3 L677.5,270.6 L677.9,272.5 L678.3,274.1 L678.6,275.7 L678.8,277.3 L679.1,278.9 L679.4,280.5 L679.8,282.2 L680.1,283.8 L680.5,285.4 L680.8,287.0 L681.1,288.7 L681.4,290.4 L681.7,292.3 L682.0,294.4 L682.3,296.6 L682.6,298.8 L683.0,300.9 L683.5,302.8 L684.5,304.5 L685.7,305.8 L686.8,306.8 L687.9,307.5 L688.9,308.0 L689.8,308.2 L690.2,307.8 L690.2,306.9 L689.9,305.8 L689.4,304.7 L689.0,303.6 L688.7,302.4 L688.5,301.2 L688.1,299.8 L687.8,297.9 L687.5,295.9 L687.2,293.7 L686.9,291.6 L686.6,289.6 L686.2,287.7 L685.9,286.0 L685.5,284.4 L685.2,282.7 L684.9,281.1 L684.6,279.5 L684.2,277.9 L684.0,276.4 L683.7,274.8 L683.4,273.1 L683.0,271.3 L682.5,269.4 L682.1,267.3 L681.6,264.8 L681.0,262.2 L680.3,259.5 L679.4,256.9 L678.1,254.5 L676.3,252.5 L674.1,251.0 L671.7,250.1 L669.5,249.7 L667.6,249.6 L666.1,249.8Z"/>
<path d="M665.8,288.1 L665.3,289.6 L665.4,291.6 L665.5,293.8 L665.6,295.9 L665.8,297.9 L665.7,299.4 L665.0,301.1 L663.8,303.1 L662.3,305.3 L661.1,307.8 L660.1,310.0 L659.8,311.8 L660.2,312.2 L661.9,311.4 L663.8,310.0 L666.0,308.2 L667.8,305.8 L669.3,303.2 L670.3,300.6 L670.6,297.9 L670.4,295.2 L669.5,292.7 L668.4,290.7 L667.3,289.0 L666.2,287.9Z"/>
<path d="M667.8,300.0 L666.9,300.9 L666.0,302.3 L665.2,304.1 L664.6,306.3 L664.8,308.8 L665.8,311.3 L667.4,313.5 L669.5,315.3 L671.8,317.1 L674.2,318.8 L676.4,320.4 L678.3,322.0 L680.1,323.6 L681.8,325.2 L683.6,326.9 L685.2,328.5 L686.6,330.1 L688.0,331.6 L689.2,333.2 L690.3,335.0 L691.7,336.7 L693.1,338.2 L694.4,339.4 L695.8,340.1 L696.2,339.9 L696.3,338.4 L696.0,336.6 L695.5,334.6 L694.7,332.4 L693.5,330.3 L692.0,328.4 L690.5,326.6 L688.9,324.9 L687.2,323.1 L685.4,321.4 L683.6,319.8 L681.7,318.0 L679.6,316.3 L677.2,314.6 L674.9,312.9 L672.8,311.3 L671.2,309.9 L670.2,308.7 L669.8,307.6 L669.6,306.3 L669.3,304.6 L669.1,302.9 L668.9,301.3 L668.2,300.0Z"/>
<path d="M639.8,296.8 L639.2,296.7 L638.5,296.8 L637.8,297.0 L636.9,297.4 L635.9,298.1 L635.1,299.1 L634.3,300.2 L633.8,301.5 L633.4,302.7 L633.1,303.9 L632.9,304.9 L632.5,305.8 L632.0,306.6 L631.4,307.5 L630.8,308.4 L630.0,309.2 L629.2,310.0 L628.3,310.8 L627.2,311.5 L625.9,312.2 L624.3,313.0 L622.6,313.8 L620.9,314.7 L619.4,315.7 L618.1,316.7 L616.9,317.7 L615.8,318.8 L614.7,320.1 L613.8,321.7 L613.2,323.5 L613.1,325.5 L613.3,327.5 L613.6,329.5 L614.2,331.5 L614.8,333.3 L615.4,335.1 L616.3,336.8 L617.4,338.3 L618.4,339.6 L619.2,340.7 L619.9,341.7 L620.3,342.8 L620.6,344.4 L620.9,346.4 L621.4,348.6 L622.0,350.8 L622.7,352.7 L623.8,354.0 L624.2,354.0 L625.1,352.6 L625.8,350.7 L626.3,348.4 L626.5,345.9 L626.2,343.5 L625.7,341.2 L624.9,339.2 L623.8,337.5 L622.8,336.1 L621.8,335.0 L621.1,334.0 L620.6,332.9 L620.1,331.5 L619.5,329.9 L619.1,328.2 L618.8,326.7 L618.7,325.4 L618.8,324.5 L619.0,323.9 L619.3,323.3 L619.9,322.6 L620.6,321.9 L621.6,321.1 L622.6,320.3 L623.8,319.5 L625.1,318.8 L626.7,318.0 L628.4,317.2 L630.1,316.3 L631.7,315.2 L633.0,314.1 L634.1,313.0 L635.1,311.9 L636.0,310.7 L636.8,309.5 L637.5,308.2 L638.1,306.8 L638.6,305.3 L638.9,303.9 L639.0,302.6 L638.9,301.6 L638.9,300.9 L639.0,300.4 L639.2,299.7 L639.5,299.1 L639.8,298.5 L640.1,297.9 L640.2,297.2Z"/>
<path d="M647.8,339.1 L647.4,339.8 L647.3,340.7 L647.3,342.0 L647.6,343.4 L648.5,345.0 L650.1,346.3 L652.2,346.9 L654.5,347.2 L656.9,347.2 L659.3,347.3 L661.6,347.4 L663.7,347.6 L665.7,347.9 L667.8,348.3 L669.8,348.7 L671.7,349.2 L673.4,349.7 L674.9,350.4 L676.2,351.1 L677.4,351.8 L678.5,352.7 L679.4,353.5 L680.2,354.4 L680.7,355.2 L681.1,356.0 L681.6,357.1 L682.1,358.5 L682.6,359.9 L683.0,361.1 L683.8,362.0 L684.2,362.0 L684.9,361.1 L685.4,359.8 L685.8,358.3 L686.0,356.5 L686.0,354.6 L685.3,352.8 L684.3,351.3 L683.2,350.0 L681.9,348.7 L680.4,347.6 L678.8,346.6 L677.1,345.6 L675.2,344.9 L673.1,344.2 L671.0,343.7 L668.8,343.2 L666.6,342.8 L664.3,342.4 L662.0,342.2 L659.4,342.1 L657.0,342.0 L654.8,342.0 L653.0,341.8 L651.9,341.7 L651.3,341.7 L650.7,341.5 L650.1,340.9 L649.6,340.1 L649.0,339.4 L648.2,338.9Z"/>
<path d="M650.8,343.9 L649.5,344.4 L648.2,345.4 L646.7,346.7 L645.2,348.2 L644.0,349.9 L642.9,351.5 L641.7,353.1 L640.5,354.8 L639.2,356.6 L637.9,358.4 L636.8,360.1 L635.8,361.7 L635.1,363.4 L634.7,365.0 L634.5,366.5 L634.4,367.9 L634.5,369.0 L634.8,369.9 L635.2,370.1 L636.1,369.6 L636.8,368.7 L637.6,367.7 L638.5,366.6 L639.4,365.5 L640.2,364.3 L641.1,362.9 L642.2,361.3 L643.4,359.6 L644.7,357.9 L646.0,356.2 L647.1,354.5 L648.3,352.8 L649.4,351.0 L650.2,349.0 L650.8,347.2 L651.2,345.5 L651.2,344.1Z"/>
<path d="M607.4,345.1 L606.8,346.5 L606.8,348.4 L606.8,350.4 L606.7,352.4 L606.8,353.9 L606.6,355.0 L605.9,356.1 L604.4,357.6 L602.6,359.3 L600.9,361.2 L599.5,363.1 L598.8,364.8 L599.2,365.2 L600.9,365.0 L603.1,364.2 L605.6,363.1 L607.9,361.4 L609.9,359.4 L611.4,357.0 L612.0,354.4 L611.9,351.8 L611.1,349.5 L610.0,347.5 L608.9,345.9 L607.8,344.9Z"/>
<path d="M608.8,356.1 L608.7,356.9 L608.8,357.9 L609.1,358.9 L609.4,360.0 L609.8,361.1 L610.1,362.1 L610.9,362.9 L611.6,363.7 L612.5,364.5 L613.3,365.3 L614.0,365.8 L614.8,366.1 L615.2,365.9 L615.3,365.1 L615.2,364.1 L614.9,363.1 L614.6,362.0 L614.2,360.9 L613.9,359.9 L613.1,359.1 L612.4,358.3 L611.5,357.5 L610.7,356.7 L610.0,356.2 L609.2,355.9Z"/>
<path d="M701.8,301.9 L700.9,302.6 L700.0,303.8 L699.1,305.2 L698.2,306.8 L697.6,308.5 L697.6,310.2 L698.0,311.7 L698.6,313.0 L699.4,314.1 L700.5,315.0 L701.8,315.7 L703.2,316.3 L705.1,316.8 L707.4,317.3 L709.9,317.4 L712.4,317.2 L714.5,316.9 L716.0,316.2 L716.0,315.8 L714.7,314.7 L712.8,313.9 L710.6,313.1 L708.3,312.5 L706.2,312.1 L704.8,311.7 L703.8,311.3 L703.2,311.0 L702.8,310.7 L702.6,310.4 L702.5,310.1 L702.4,309.8 L702.4,309.1 L702.4,307.8 L702.4,306.3 L702.6,304.7 L702.6,303.2 L702.2,302.1Z"/>
<path d="M565.9,346.2 L566.8,347.7 L568.4,349.2 L570.2,350.8 L572.0,352.0 L573.2,352.9 L573.3,352.9 L573.3,352.2 L572.9,352.7 L571.9,353.8 L570.5,355.1 L568.9,356.7 L567.6,358.5 L566.7,360.4 L566.0,362.1 L565.4,363.8 L564.8,365.5 L564.2,367.2 L563.4,368.9 L562.6,370.7 L561.6,372.8 L560.5,374.9 L559.4,376.9 L558.4,378.9 L557.5,380.7 L556.7,382.2 L555.9,383.5 L555.1,384.8 L554.3,386.3 L553.6,387.9 L553.2,389.6 L553.2,391.5 L553.4,393.2 L553.8,394.8 L554.3,396.3 L554.9,397.7 L555.4,399.0 L556.0,400.6 L557.1,402.1 L558.3,403.5 L559.5,404.7 L560.6,405.6 L561.8,406.1 L562.2,405.9 L562.5,404.6 L562.3,403.2 L562.0,401.5 L561.6,399.8 L561.2,398.3 L560.6,397.0 L560.1,395.7 L559.6,394.4 L559.2,393.2 L558.9,392.1 L558.8,391.2 L558.8,390.4 L559.0,389.6 L559.3,388.7 L559.9,387.7 L560.7,386.4 L561.6,385.0 L562.5,383.3 L563.4,381.5 L564.4,379.5 L565.5,377.4 L566.6,375.2 L567.6,373.1 L568.6,371.1 L569.4,369.2 L570.0,367.4 L570.6,365.7 L571.2,364.1 L571.8,362.7 L572.4,361.5 L573.2,360.3 L574.4,359.1 L575.9,357.7 L577.3,356.2 L578.5,354.2 L578.7,351.1 L577.1,348.8 L574.9,347.2 L572.5,346.2 L570.0,345.7 L567.8,345.5 L566.1,345.8Z"/>
<path d="M555.9,385.8 L553.9,385.2 L551.2,385.0 L548.0,385.2 L544.7,385.9 L541.6,386.8 L538.9,387.9 L536.7,389.3 L534.8,391.0 L533.5,393.0 L532.6,394.9 L532.0,396.5 L531.8,397.8 L532.2,398.2 L533.6,397.7 L535.0,396.7 L536.5,395.5 L538.1,394.4 L539.6,393.1 L541.1,392.1 L543.1,391.3 L545.9,390.5 L549.0,389.8 L551.9,388.8 L554.4,387.6 L556.1,386.2Z"/>
<circle cx="474" cy="202" r="3.5"/><circle cx="428" cy="270" r="3.0"/><circle cx="458" cy="222" r="3.0"/><circle cx="466" cy="224" r="2.7"/><circle cx="504" cy="216" r="2.7"/><circle cx="534" cy="220" r="2.7"/><circle cx="534" cy="220" r="3.0"/><circle cx="555" cy="208" r="2.7"/><circle cx="574" cy="234.8" r="3.2"/><circle cx="627" cy="243" r="3.2"/><circle cx="624" cy="228.4" r="3.2"/><circle cx="595" cy="264" r="3.0"/><circle cx="428" cy="332" r="3.0"/><circle cx="412" cy="336" r="2.7"/><circle cx="464" cy="258" r="3.2"/><circle cx="482" cy="278" r="2.7"/><circle cx="524" cy="266" r="3.0"/><circle cx="564" cy="280" r="3.5"/><circle cx="622" cy="290" r="2.5"/><circle cx="668" cy="300" r="3.2"/><circle cx="651" cy="344" r="3.2"/><circle cx="609" cy="356" r="3.0"/></g>
<clipPath id="cg"><path d="M398.0,367.0 C398.2,364.2 397.7,368.2 400.0,368.0 C402.3,367.8 407.3,367.7 412.0,366.0 C416.7,364.3 423.3,360.3 428.0,358.0 C432.7,355.7 434.7,353.5 440.0,352.0 C445.3,350.5 453.3,349.5 460.0,349.0 C466.7,348.5 473.3,350.2 480.0,349.0 C486.7,347.8 493.7,342.8 500.0,342.0 C506.3,341.2 514.0,342.3 518.0,344.0 C522.0,345.7 522.7,348.3 524.0,352.0 C525.3,355.7 524.0,361.0 526.0,366.0 C528.0,371.0 532.3,378.0 536.0,382.0 C539.7,386.0 543.3,388.2 548.0,390.0 C552.7,391.8 558.7,392.0 564.0,393.0 C569.3,394.0 574.0,395.0 580.0,396.0 C586.0,397.0 593.3,398.3 600.0,399.0 C606.7,399.7 614.7,400.0 620.0,400.0 C625.3,400.0 627.8,395.7 632.0,399.0 C636.2,402.3 643.7,410.7 645.0,420.0 C646.3,429.3 646.2,449.0 640.0,455.0 C633.8,461.0 614.7,454.5 608.0,456.0 C601.3,457.5 603.3,461.3 600.0,464.0 C596.7,466.7 592.7,469.3 588.0,472.0 C583.3,474.7 577.3,477.3 572.0,480.0 C566.7,482.7 563.0,486.5 556.0,488.0 C549.0,489.5 538.7,488.8 530.0,489.0 C521.3,489.2 510.2,488.0 504.0,489.0 C497.8,490.0 496.7,491.2 493.0,495.0 C489.3,498.8 485.8,507.3 482.0,512.0 C478.2,516.7 473.8,519.3 470.0,523.0 C466.2,526.7 462.7,529.3 459.0,534.0 C455.3,538.7 451.7,547.3 448.0,551.0 C444.3,554.7 441.7,554.2 437.0,556.0 C432.3,557.8 424.2,560.0 420.0,562.0 C415.8,564.0 414.8,566.2 412.0,568.0 C409.2,569.8 407.3,571.2 403.0,573.0 C398.7,574.8 393.0,577.8 386.0,579.0 C379.0,580.2 367.5,580.5 361.0,580.0 C354.5,579.5 351.2,578.0 347.0,576.0 C342.8,574.0 341.2,570.3 336.0,568.0 C330.8,565.7 322.5,564.3 316.0,562.0 C309.5,559.7 302.5,559.2 297.0,554.0 C291.5,548.8 285.8,538.0 283.0,531.0 C280.2,524.0 280.2,517.2 280.0,512.0 C279.8,506.8 281.0,504.7 282.0,500.0 C283.0,495.3 284.7,489.7 286.0,484.0 C287.3,478.3 287.3,471.0 290.0,466.0 C292.7,461.0 298.0,458.3 302.0,454.0 C306.0,449.7 311.0,444.0 314.0,440.0 C317.0,436.0 318.0,433.7 320.0,430.0 C322.0,426.3 324.0,421.3 326.0,418.0 C328.0,414.7 328.7,412.7 332.0,410.0 C335.3,407.3 341.7,404.0 346.0,402.0 C350.3,400.0 354.8,399.2 358.0,398.0 C361.2,396.8 363.8,396.7 365.5,395.0 C367.2,393.3 366.9,390.2 368.0,388.0 C369.1,385.8 370.2,383.4 372.0,382.0 C373.8,380.6 376.3,379.8 379.0,379.5 C381.7,379.2 384.7,379.1 388.0,380.0 C391.3,380.9 397.3,387.2 399.0,385.0 C400.7,382.8 397.8,369.8 398.0,367.0Z"/></clipPath>
<path d="M398.0,367.0 C398.2,364.2 397.7,368.2 400.0,368.0 C402.3,367.8 407.3,367.7 412.0,366.0 C416.7,364.3 423.3,360.3 428.0,358.0 C432.7,355.7 434.7,353.5 440.0,352.0 C445.3,350.5 453.3,349.5 460.0,349.0 C466.7,348.5 473.3,350.2 480.0,349.0 C486.7,347.8 493.7,342.8 500.0,342.0 C506.3,341.2 514.0,342.3 518.0,344.0 C522.0,345.7 522.7,348.3 524.0,352.0 C525.3,355.7 524.0,361.0 526.0,366.0 C528.0,371.0 532.3,378.0 536.0,382.0 C539.7,386.0 543.3,388.2 548.0,390.0 C552.7,391.8 558.7,392.0 564.0,393.0 C569.3,394.0 574.0,395.0 580.0,396.0 C586.0,397.0 593.3,398.3 600.0,399.0 C606.7,399.7 614.7,400.0 620.0,400.0 C625.3,400.0 627.8,395.7 632.0,399.0 C636.2,402.3 643.7,410.7 645.0,420.0 C646.3,429.3 646.2,449.0 640.0,455.0 C633.8,461.0 614.7,454.5 608.0,456.0 C601.3,457.5 603.3,461.3 600.0,464.0 C596.7,466.7 592.7,469.3 588.0,472.0 C583.3,474.7 577.3,477.3 572.0,480.0 C566.7,482.7 563.0,486.5 556.0,488.0 C549.0,489.5 538.7,488.8 530.0,489.0 C521.3,489.2 510.2,488.0 504.0,489.0 C497.8,490.0 496.7,491.2 493.0,495.0 C489.3,498.8 485.8,507.3 482.0,512.0 C478.2,516.7 473.8,519.3 470.0,523.0 C466.2,526.7 462.7,529.3 459.0,534.0 C455.3,538.7 451.7,547.3 448.0,551.0 C444.3,554.7 441.7,554.2 437.0,556.0 C432.3,557.8 424.2,560.0 420.0,562.0 C415.8,564.0 414.8,566.2 412.0,568.0 C409.2,569.8 407.3,571.2 403.0,573.0 C398.7,574.8 393.0,577.8 386.0,579.0 C379.0,580.2 367.5,580.5 361.0,580.0 C354.5,579.5 351.2,578.0 347.0,576.0 C342.8,574.0 341.2,570.3 336.0,568.0 C330.8,565.7 322.5,564.3 316.0,562.0 C309.5,559.7 302.5,559.2 297.0,554.0 C291.5,548.8 285.8,538.0 283.0,531.0 C280.2,524.0 280.2,517.2 280.0,512.0 C279.8,506.8 281.0,504.7 282.0,500.0 C283.0,495.3 284.7,489.7 286.0,484.0 C287.3,478.3 287.3,471.0 290.0,466.0 C292.7,461.0 298.0,458.3 302.0,454.0 C306.0,449.7 311.0,444.0 314.0,440.0 C317.0,436.0 318.0,433.7 320.0,430.0 C322.0,426.3 324.0,421.3 326.0,418.0 C328.0,414.7 328.7,412.7 332.0,410.0 C335.3,407.3 341.7,404.0 346.0,402.0 C350.3,400.0 354.8,399.2 358.0,398.0 C361.2,396.8 363.8,396.7 365.5,395.0 C367.2,393.3 366.9,390.2 368.0,388.0 C369.1,385.8 370.2,383.4 372.0,382.0 C373.8,380.6 376.3,379.8 379.0,379.5 C381.7,379.2 384.7,379.1 388.0,380.0 C391.3,380.9 397.3,387.2 399.0,385.0 C400.7,382.8 397.8,369.8 398.0,367.0Z" fill="#699a55"/>
<g clip-path="url(#cg)" fill="none" stroke="#5f8b4a" stroke-linecap="round" stroke-linejoin="round">
<path d="M398.0,367.0 C398.2,364.2 397.7,368.2 400.0,368.0 C402.3,367.8 407.3,367.7 412.0,366.0 C416.7,364.3 423.3,360.3 428.0,358.0 C432.7,355.7 434.7,353.5 440.0,352.0 C445.3,350.5 453.3,349.5 460.0,349.0 C466.7,348.5 473.3,350.2 480.0,349.0 C486.7,347.8 493.7,342.8 500.0,342.0 C506.3,341.2 514.0,342.3 518.0,344.0 C522.0,345.7 522.7,348.3 524.0,352.0 C525.3,355.7 524.0,361.0 526.0,366.0 C528.0,371.0 532.3,378.0 536.0,382.0 C539.7,386.0 543.3,388.2 548.0,390.0 C552.7,391.8 558.7,392.0 564.0,393.0 C569.3,394.0 574.0,395.0 580.0,396.0 C586.0,397.0 593.3,398.3 600.0,399.0 C606.7,399.7 614.7,400.0 620.0,400.0 C625.3,400.0 627.8,395.7 632.0,399.0 C636.2,402.3 643.7,410.7 645.0,420.0 C646.3,429.3 646.2,449.0 640.0,455.0 C633.8,461.0 614.7,454.5 608.0,456.0 C601.3,457.5 603.3,461.3 600.0,464.0 C596.7,466.7 592.7,469.3 588.0,472.0 C583.3,474.7 577.3,477.3 572.0,480.0 C566.7,482.7 563.0,486.5 556.0,488.0 C549.0,489.5 538.7,488.8 530.0,489.0 C521.3,489.2 510.2,488.0 504.0,489.0 C497.8,490.0 496.7,491.2 493.0,495.0 C489.3,498.8 485.8,507.3 482.0,512.0 C478.2,516.7 473.8,519.3 470.0,523.0 C466.2,526.7 462.7,529.3 459.0,534.0 C455.3,538.7 451.7,547.3 448.0,551.0 C444.3,554.7 441.7,554.2 437.0,556.0 C432.3,557.8 424.2,560.0 420.0,562.0 C415.8,564.0 414.8,566.2 412.0,568.0 C409.2,569.8 407.3,571.2 403.0,573.0 C398.7,574.8 393.0,577.8 386.0,579.0 C379.0,580.2 367.5,580.5 361.0,580.0 C354.5,579.5 351.2,578.0 347.0,576.0 C342.8,574.0 341.2,570.3 336.0,568.0 C330.8,565.7 322.5,564.3 316.0,562.0 C309.5,559.7 302.5,559.2 297.0,554.0 C291.5,548.8 285.8,538.0 283.0,531.0 C280.2,524.0 280.2,517.2 280.0,512.0 C279.8,506.8 281.0,504.7 282.0,500.0 C283.0,495.3 284.7,489.7 286.0,484.0 C287.3,478.3 287.3,471.0 290.0,466.0 C292.7,461.0 298.0,458.3 302.0,454.0 C306.0,449.7 311.0,444.0 314.0,440.0 C317.0,436.0 318.0,433.7 320.0,430.0 C322.0,426.3 324.0,421.3 326.0,418.0 C328.0,414.7 328.7,412.7 332.0,410.0 C335.3,407.3 341.7,404.0 346.0,402.0 C350.3,400.0 354.8,399.2 358.0,398.0 C361.2,396.8 363.8,396.7 365.5,395.0 C367.2,393.3 366.9,390.2 368.0,388.0 C369.1,385.8 370.2,383.4 372.0,382.0 C373.8,380.6 376.3,379.8 379.0,379.5 C381.7,379.2 384.7,379.1 388.0,380.0 C391.3,380.9 397.3,387.2 399.0,385.0 C400.7,382.8 397.8,369.8 398.0,367.0Z" stroke-width="10"/>
<path d="M712.0,299.0 C715.3,298.7 721.3,301.3 725.0,304.0 C728.7,306.7 731.0,310.2 734.0,315.0 C737.0,319.8 739.3,327.8 743.0,333.0 C746.7,338.2 752.3,342.3 756.0,346.0 C759.7,349.7 762.8,350.7 765.0,355.0 C767.2,359.3 768.7,366.2 769.0,372.0 C769.3,377.8 767.8,385.2 767.0,390.0 C766.2,394.8 764.3,397.3 764.0,401.0 C763.7,404.7 765.2,407.5 765.0,412.0 C764.8,416.5 764.8,422.2 763.0,428.0 C761.2,433.8 758.2,441.7 754.0,447.0 C749.8,452.3 743.2,456.8 738.0,460.0 C732.8,463.2 728.8,464.7 723.0,466.0 C717.2,467.3 709.2,467.2 703.0,468.0 C696.8,468.8 691.8,470.2 686.0,471.0 C680.2,471.8 673.5,473.0 668.0,473.0 C662.5,473.0 658.2,472.3 653.0,471.0 C647.8,469.7 641.8,467.5 637.0,465.0 C632.2,462.5 628.0,458.7 624.0,456.0 C620.0,453.3 615.3,452.3 613.0,449.0 C610.7,445.7 610.0,440.3 610.0,436.0 C610.0,431.7 611.0,427.0 613.0,423.0 C615.0,419.0 619.0,416.0 622.0,412.0 C625.0,408.0 627.0,403.0 631.0,399.0 C635.0,395.0 639.8,391.7 646.0,388.0 C652.2,384.3 661.8,381.0 668.0,377.0 C674.2,373.0 679.0,368.5 683.0,364.0 C687.0,359.5 689.3,354.5 692.0,350.0 C694.7,345.5 697.5,342.0 699.0,337.0 C700.5,332.0 700.0,325.2 701.0,320.0 C702.0,314.8 703.2,309.5 705.0,306.0 C706.8,302.5 708.7,299.3 712.0,299.0Z" stroke-width="10"/>
<path d="M435.0,376.0 C435.3,377.2 435.8,381.0 437.0,383.0 C438.2,385.0 439.8,387.2 442.0,388.0 C444.2,388.8 447.0,388.3 450.0,388.0 C453.0,387.7 456.7,387.2 460.0,386.0 C463.3,384.8 466.7,382.3 470.0,381.0 C473.3,379.7 478.3,378.5 480.0,378.0" stroke-width="15"/>
<path d="M467.0,359.0 C468.3,359.5 472.5,361.0 475.0,362.0 C477.5,363.0 480.2,363.3 482.0,365.0 C483.8,366.7 485.3,370.8 486.0,372.0" stroke-width="15"/>
<path d="M490.0,375.0 C491.3,374.7 495.7,374.0 498.0,373.0 C500.3,372.0 502.7,370.2 504.0,369.0 C505.3,367.8 505.7,366.5 506.0,366.0" stroke-width="15"/>
<path d="M487.0,385.0 C487.5,386.0 488.8,389.2 490.0,391.0 C491.2,392.8 493.3,395.2 494.0,396.0" stroke-width="15"/>
<path d="M412.0,388.0 C412.7,390.0 414.0,396.7 416.0,400.0 C418.0,403.3 420.0,406.7 424.0,408.0 C428.0,409.3 435.7,407.0 440.0,408.0 C444.3,409.0 446.0,412.3 450.0,414.0 C454.0,415.7 460.5,417.0 464.0,418.0 C467.5,419.0 468.0,418.5 471.0,420.0 C474.0,421.5 480.2,425.8 482.0,427.0" stroke-width="15"/>
<path d="M450.0,414.0 C449.3,415.3 447.0,419.7 446.0,422.0 C445.0,424.3 444.3,427.0 444.0,428.0" stroke-width="15"/>
<path d="M482.0,427.0 C484.3,425.5 490.7,420.5 496.0,418.0 C501.3,415.5 508.0,414.7 514.0,412.0 C520.0,409.3 527.2,405.5 532.0,402.0 C536.8,398.5 538.8,394.0 543.0,391.0 C547.2,388.0 554.0,382.8 557.0,384.0 C560.0,385.2 560.0,394.2 561.0,398.0 C562.0,401.8 562.7,405.5 563.0,407.0" stroke-width="15"/>
<path d="M518.0,414.0 C518.0,415.8 518.0,423.2 518.0,425.0" stroke-width="15"/>
<path d="M482.0,427.0 C481.3,428.8 480.0,434.2 478.0,438.0 C476.0,441.8 473.7,447.0 470.0,450.0 C466.3,453.0 461.7,454.7 456.0,456.0 C450.3,457.3 442.0,457.0 436.0,458.0 C430.0,459.0 424.7,460.7 420.0,462.0 C415.3,463.3 411.3,464.0 408.0,466.0 C404.7,468.0 402.0,471.0 400.0,474.0 C398.0,477.0 397.0,480.3 396.0,484.0 C395.0,487.7 394.7,493.0 394.0,496.0 C393.3,499.0 392.3,501.0 392.0,502.0" stroke-width="15"/>
<path d="M378.0,404.0 C377.0,406.0 373.3,412.0 372.0,416.0 C370.7,420.0 372.0,424.0 370.0,428.0 C368.0,432.0 362.7,436.3 360.0,440.0 C357.3,443.7 355.0,446.7 354.0,450.0 C353.0,453.3 355.7,457.0 354.0,460.0 C352.3,463.0 346.7,465.3 344.0,468.0 C341.3,470.7 339.3,473.7 338.0,476.0 C336.7,478.3 336.3,481.0 336.0,482.0" stroke-width="15"/>
<path d="M356.0,462.0 C358.3,461.7 365.3,461.0 370.0,460.0 C374.7,459.0 379.7,457.3 384.0,456.0 C388.3,454.7 393.0,453.0 396.0,452.0 C399.0,451.0 401.0,450.3 402.0,450.0" stroke-width="15"/>
<path d="M366.0,476.0 C365.7,479.0 364.0,488.3 364.0,494.0 C364.0,499.7 365.3,504.7 366.0,510.0 C366.7,515.3 367.7,521.3 368.0,526.0 C368.3,530.7 369.3,534.7 368.0,538.0 C366.7,541.3 363.3,544.7 360.0,546.0 C356.7,547.3 351.3,547.3 348.0,546.0 C344.7,544.7 341.3,541.7 340.0,538.0 C338.7,534.3 339.3,528.3 340.0,524.0 C340.7,519.7 343.3,514.0 344.0,512.0" stroke-width="15"/>
<path d="M340.0,538.0 C336.7,538.3 325.7,540.0 320.0,540.0 C314.3,540.0 308.3,538.3 306.0,538.0" stroke-width="15"/>
<path d="M416.0,486.0 C418.7,487.0 428.0,489.7 432.0,492.0 C436.0,494.3 436.0,498.3 440.0,500.0 C444.0,501.7 451.0,502.3 456.0,502.0 C461.0,501.7 466.0,499.0 470.0,498.0 C474.0,497.0 478.3,496.3 480.0,496.0" stroke-width="15"/>
<path d="M456.0,502.0 C453.3,503.3 444.7,508.0 440.0,510.0 C435.3,512.0 431.7,513.3 428.0,514.0 C424.3,514.7 419.7,514.0 418.0,514.0" stroke-width="15"/>
<path d="M418.0,514.0 C416.0,515.3 409.7,519.3 406.0,522.0 C402.3,524.7 399.7,528.0 396.0,530.0 C392.3,532.0 386.3,531.7 384.0,534.0 C381.7,536.3 382.3,542.3 382.0,544.0" stroke-width="15"/>
<path d="M384.0,534.0 C386.0,535.3 394.0,540.7 396.0,542.0" stroke-width="15"/>
<path d="M418.0,514.0 C419.3,515.3 423.7,519.3 426.0,522.0 C428.3,524.7 431.0,528.7 432.0,530.0" stroke-width="15"/>
<path d="M396.0,556.0 C395.3,558.0 395.3,564.7 392.0,568.0 C388.7,571.3 381.3,574.2 376.0,576.0 C370.7,577.8 362.7,578.5 360.0,579.0" stroke-width="15"/>
<path d="M545.0,436.0 C547.7,435.7 554.8,435.2 561.0,434.0 C567.2,432.8 578.5,429.8 582.0,429.0" stroke-width="15"/>
<path d="M545.0,438.0 C545.5,440.3 549.0,448.8 548.0,452.0 C547.0,455.2 542.3,455.8 539.0,457.0 C535.7,458.2 531.0,458.3 528.0,459.0 C525.0,459.7 521.8,462.8 521.0,461.0 C520.2,459.2 522.7,450.2 523.0,448.0" stroke-width="15"/>
<path d="M579.0,445.0 C580.8,445.8 586.2,449.5 590.0,450.0 C593.8,450.5 600.0,448.3 602.0,448.0" stroke-width="15"/>
<path d="M582.0,450.0 C580.3,451.5 576.2,455.7 572.0,459.0 C567.8,462.3 562.5,466.3 557.0,470.0 C551.5,473.7 545.0,478.7 539.0,481.0 C533.0,483.3 527.0,483.5 521.0,484.0 C515.0,484.5 507.5,484.5 503.0,484.0 C498.5,483.5 496.0,483.3 494.0,481.0 C492.0,478.7 491.5,471.8 491.0,470.0" stroke-width="15"/>
<path d="M599.0,450.0 C599.8,451.8 603.2,459.2 604.0,461.0" stroke-width="15"/>
<path d="M579.0,393.0 C581.3,393.8 589.7,397.8 593.0,398.0 C596.3,398.2 598.0,394.7 599.0,394.0" stroke-width="15"/>
<path d="M591.0,398.0 C592.0,399.8 595.2,406.0 597.0,409.0 C598.8,412.0 601.2,414.8 602.0,416.0" stroke-width="15"/>
<path d="M460.0,497.0 C461.8,497.3 468.0,499.3 471.0,499.0 C474.0,498.7 476.8,495.7 478.0,495.0" stroke-width="15"/>
<path d="M282.0,512.0 C283.3,516.3 286.2,531.2 290.0,538.0 C293.8,544.8 298.3,548.7 305.0,553.0 C311.7,557.3 322.5,560.5 330.0,564.0 C337.5,567.5 341.7,571.7 350.0,574.0 C358.3,576.3 370.8,578.7 380.0,578.0 C389.2,577.3 397.5,573.0 405.0,570.0 C412.5,567.0 417.5,563.3 425.0,560.0 C432.5,556.7 442.8,555.3 450.0,550.0 C457.2,544.7 461.7,535.7 468.0,528.0 C474.3,520.3 479.3,510.0 488.0,504.0 C496.7,498.0 508.0,494.8 520.0,492.0 C532.0,489.2 548.3,490.0 560.0,487.0 C571.7,484.0 582.3,478.8 590.0,474.0 C597.7,469.2 602.7,463.7 606.0,458.0 C609.3,452.3 609.3,443.0 610.0,440.0" stroke="#527f42" stroke-width="16"/>
<path d="M392.0,398.0 C393.0,401.0 396.0,411.0 398.0,416.0 C400.0,421.0 400.3,424.7 404.0,428.0 C407.7,431.3 414.0,434.7 420.0,436.0 C426.0,437.3 434.0,435.3 440.0,436.0 C446.0,436.7 453.3,439.3 456.0,440.0" stroke="#6c9d58" stroke-width="7"/>
<path d="M330.0,440.0 C328.0,442.0 322.0,447.7 318.0,452.0 C314.0,456.3 309.0,461.3 306.0,466.0 C303.0,470.7 301.3,475.3 300.0,480.0 C298.7,484.7 298.3,491.7 298.0,494.0" stroke="#6c9d58" stroke-width="6"/>
<path d="M412.0,378.0 C416.0,376.7 428.0,372.5 436.0,370.0 C444.0,367.5 452.7,364.7 460.0,363.0 C467.3,361.3 476.7,360.5 480.0,360.0" stroke="#6c9d58" stroke-width="5"/>
<path d="M496.0,448.0 C502.0,446.8 520.0,443.3 532.0,441.0 C544.0,438.7 557.8,435.8 568.0,434.0 C578.2,432.2 588.8,430.7 593.0,430.0" stroke="#6c9d58" stroke-width="5"/>
</g>
<g fill="#3d3b3e">
<path d="M434.8,376.1 L434.3,377.0 L434.0,378.2 L433.9,379.6 L433.9,381.2 L434.1,382.8 L434.6,384.3 L435.3,385.5 L436.1,386.7 L437.1,387.8 L438.2,388.9 L439.5,389.8 L441.0,390.6 L442.6,391.0 L444.2,391.2 L445.8,391.2 L447.3,391.1 L448.8,390.9 L450.3,390.8 L451.9,390.6 L453.6,390.3 L455.4,390.0 L457.2,389.7 L459.1,389.2 L460.9,388.6 L462.8,387.8 L464.6,386.9 L466.3,386.0 L468.0,385.1 L469.6,384.2 L471.0,383.6 L472.7,383.0 L474.5,382.3 L476.2,381.3 L477.8,380.3 L479.2,379.4 L480.1,378.2 L479.9,377.8 L478.6,377.2 L477.0,377.1 L475.0,377.1 L472.9,377.2 L470.9,377.7 L469.0,378.4 L467.1,379.3 L465.3,380.2 L463.7,381.1 L462.0,382.0 L460.5,382.8 L459.1,383.4 L457.6,383.9 L456.0,384.3 L454.4,384.6 L452.8,384.8 L451.2,385.1 L449.7,385.2 L448.2,385.4 L446.8,385.6 L445.6,385.7 L444.5,385.7 L443.6,385.6 L443.0,385.4 L442.4,385.1 L441.8,384.7 L441.1,384.0 L440.5,383.3 L439.9,382.5 L439.4,381.7 L438.9,380.9 L438.2,379.9 L437.5,378.8 L436.8,377.6 L436.1,376.6 L435.2,375.9Z"/>
<path d="M466.9,359.2 L467.6,360.2 L468.6,361.0 L470.0,361.9 L471.4,362.9 L472.8,363.7 L474.2,364.3 L475.5,364.7 L476.8,365.1 L477.9,365.5 L478.9,365.9 L479.7,366.3 L480.4,366.8 L481.0,367.4 L481.9,368.3 L482.9,369.5 L483.9,370.6 L484.8,371.6 L485.8,372.1 L486.2,371.9 L486.4,370.8 L486.3,369.5 L486.0,367.9 L485.5,366.3 L484.8,364.6 L483.6,363.2 L482.3,362.2 L480.9,361.5 L479.6,361.0 L478.3,360.6 L477.0,360.2 L475.8,359.7 L474.5,359.2 L472.9,358.9 L471.2,358.7 L469.6,358.5 L468.2,358.5 L467.1,358.8Z"/>
<path d="M490.1,375.2 L491.1,375.7 L492.4,375.9 L494.0,375.9 L495.7,375.9 L497.4,375.7 L498.9,375.2 L500.3,374.6 L501.6,373.8 L502.7,373.0 L503.7,372.1 L504.5,371.1 L505.2,370.3 L505.7,369.4 L506.1,368.5 L506.3,367.8 L506.4,367.1 L506.4,366.6 L506.2,366.1 L505.8,365.9 L505.3,366.0 L504.9,366.4 L504.4,366.7 L504.0,367.1 L503.5,367.4 L502.8,367.7 L502.0,368.1 L501.1,368.6 L500.0,369.1 L499.0,369.7 L498.0,370.3 L497.1,370.8 L496.0,371.2 L494.7,371.9 L493.3,372.6 L491.9,373.3 L490.7,373.9 L489.9,374.8Z"/>
<path d="M486.8,385.1 L486.6,386.0 L486.7,387.1 L486.9,388.3 L487.2,389.7 L487.5,391.0 L488.1,392.2 L489.0,393.2 L490.0,394.0 L491.0,394.8 L492.0,395.5 L493.0,396.0 L493.8,396.2 L494.2,395.8 L494.2,395.0 L493.8,394.0 L493.3,392.9 L492.8,391.8 L492.3,390.7 L491.9,389.8 L491.3,389.0 L490.5,388.0 L489.6,387.0 L488.8,386.1 L488.0,385.3 L487.2,384.9Z"/>
<path d="M411.8,388.1 L411.3,389.7 L411.2,391.7 L411.3,394.1 L411.8,396.7 L412.7,399.1 L413.7,401.2 L414.8,403.0 L416.0,404.8 L417.3,406.5 L418.9,408.1 L420.9,409.4 L423.3,410.5 L426.1,411.0 L429.1,411.0 L432.1,410.7 L435.0,410.4 L437.5,410.3 L439.5,410.5 L440.9,411.0 L442.2,411.8 L443.5,412.8 L445.0,414.0 L446.8,415.3 L449.0,416.4 L451.4,417.3 L453.9,418.0 L456.5,418.8 L459.1,419.4 L461.4,420.0 L463.3,420.5 L464.9,420.9 L466.2,421.2 L467.2,421.3 L467.9,421.5 L468.7,421.8 L469.8,422.3 L471.4,423.2 L473.4,424.4 L475.6,425.6 L478.0,426.5 L480.1,427.2 L481.9,427.2 L482.1,426.8 L481.4,425.2 L480.0,423.5 L478.3,421.6 L476.2,420.0 L474.0,418.7 L472.2,417.7 L470.7,417.0 L469.4,416.6 L468.2,416.3 L467.2,416.1 L466.1,415.9 L464.7,415.5 L462.7,415.0 L460.3,414.4 L457.8,413.7 L455.3,413.1 L453.0,412.4 L451.0,411.6 L449.5,410.8 L448.2,409.9 L446.7,408.7 L445.1,407.5 L443.0,406.3 L440.5,405.5 L437.7,405.2 L434.6,405.3 L431.6,405.5 L428.8,405.8 L426.5,405.8 L424.7,405.5 L423.4,404.9 L422.3,404.1 L421.2,403.0 L420.2,401.7 L419.2,400.3 L418.3,398.8 L417.4,397.1 L416.7,395.0 L415.7,392.9 L414.6,390.8 L413.5,389.1 L412.2,387.9Z"/>
<path d="M449.8,413.9 L448.8,414.5 L447.7,415.6 L446.6,416.9 L445.5,418.3 L444.6,419.7 L444.1,421.2 L443.8,422.5 L443.6,423.9 L443.5,425.1 L443.4,426.2 L443.5,427.2 L443.8,427.9 L444.2,428.1 L444.9,427.6 L445.4,426.8 L446.0,425.9 L446.6,424.9 L447.3,423.8 L447.9,422.8 L448.6,421.6 L449.1,420.1 L449.6,418.4 L450.0,416.7 L450.3,415.3 L450.2,414.1Z"/>
<path d="M482.1,427.2 L484.2,427.0 L486.6,426.2 L489.3,425.0 L491.9,423.3 L494.6,421.7 L497.1,420.3 L499.7,419.3 L502.5,418.4 L505.5,417.6 L508.6,416.7 L511.8,415.6 L515.0,414.4 L518.2,412.9 L521.4,411.3 L524.7,409.6 L527.8,407.8 L530.8,405.9 L533.6,404.1 L536.0,402.1 L538.0,400.0 L539.7,398.0 L541.3,396.1 L542.8,394.5 L544.6,393.0 L546.8,391.5 L549.2,389.8 L551.7,388.2 L554.0,387.0 L555.6,386.5 L556.0,386.4 L556.1,386.6 L556.7,388.1 L557.2,390.5 L557.6,393.3 L558.0,396.1 L558.5,398.5 L559.0,400.5 L559.7,402.2 L560.4,403.8 L561.2,405.1 L561.9,406.3 L562.8,407.1 L563.2,406.9 L563.7,405.9 L563.9,404.6 L564.1,403.0 L564.1,401.2 L564.0,399.3 L563.5,397.5 L563.1,395.3 L562.7,392.6 L562.3,389.5 L561.6,386.5 L560.4,383.8 L558.0,381.6 L554.8,381.3 L551.9,382.2 L549.1,383.7 L546.4,385.4 L543.8,387.2 L541.4,389.0 L539.3,390.7 L537.4,392.7 L535.8,394.6 L534.2,396.5 L532.5,398.3 L530.4,399.9 L528.0,401.6 L525.2,403.3 L522.2,405.0 L519.1,406.7 L516.0,408.2 L513.0,409.6 L510.1,410.8 L507.1,411.7 L504.0,412.6 L501.0,413.4 L497.9,414.4 L494.9,415.7 L492.0,417.2 L489.1,418.9 L486.4,420.7 L484.3,422.9 L482.7,424.9 L481.9,426.8Z"/>
<path d="M517.8,414.0 L517.3,414.6 L517.1,415.4 L516.8,416.4 L516.6,417.5 L516.4,418.5 L516.2,419.5 L516.4,420.5 L516.6,421.5 L516.8,422.6 L517.1,423.6 L517.3,424.4 L517.8,425.0 L518.2,425.0 L518.7,424.4 L518.9,423.6 L519.2,422.6 L519.4,421.5 L519.6,420.5 L519.8,419.5 L519.6,418.5 L519.4,417.5 L519.2,416.4 L518.9,415.4 L518.7,414.6 L518.2,414.0Z"/>
<path d="M481.8,426.9 L480.6,427.9 L479.5,429.3 L478.5,431.1 L477.3,433.0 L476.6,435.0 L475.7,436.9 L474.7,438.8 L473.6,440.9 L472.4,443.0 L471.2,444.9 L469.8,446.6 L468.3,448.0 L466.7,449.2 L464.8,450.3 L462.8,451.2 L460.5,452.1 L458.1,452.8 L455.5,453.5 L452.6,454.0 L449.4,454.3 L446.0,454.5 L442.4,454.7 L438.9,455.0 L435.6,455.4 L432.5,456.0 L429.6,456.7 L426.8,457.4 L424.2,458.1 L421.7,458.8 L419.3,459.5 L417.1,460.1 L414.9,460.7 L412.8,461.3 L410.7,461.9 L408.6,462.7 L406.7,463.8 L404.9,465.0 L403.2,466.4 L401.6,467.8 L400.2,469.4 L399.0,471.0 L397.8,472.6 L396.8,474.3 L395.9,476.0 L395.2,477.8 L394.6,479.6 L394.0,481.5 L393.5,483.4 L393.0,485.4 L392.6,487.7 L392.3,489.9 L392.0,492.0 L391.8,493.9 L391.6,495.5 L391.6,496.8 L391.5,498.1 L391.5,499.2 L391.4,500.2 L391.5,501.1 L391.8,501.9 L392.2,502.1 L393.0,501.7 L393.6,501.1 L394.3,500.3 L395.0,499.2 L395.7,498.0 L396.4,496.5 L396.9,494.7 L397.2,492.7 L397.4,490.6 L397.7,488.5 L398.1,486.5 L398.5,484.6 L399.0,482.9 L399.5,481.2 L400.0,479.7 L400.7,478.2 L401.4,476.8 L402.2,475.4 L403.1,474.1 L404.2,472.7 L405.4,471.4 L406.6,470.2 L407.9,469.2 L409.3,468.2 L410.8,467.5 L412.4,466.8 L414.2,466.2 L416.2,465.7 L418.4,465.1 L420.7,464.5 L423.1,463.8 L425.6,463.1 L428.2,462.4 L430.8,461.7 L433.6,461.1 L436.4,460.6 L439.4,460.2 L442.8,459.9 L446.3,459.7 L449.8,459.5 L453.3,459.1 L456.5,458.5 L459.4,457.8 L462.2,457.0 L464.7,456.0 L467.2,454.9 L469.5,453.6 L471.7,452.0 L473.6,450.1 L475.4,447.9 L476.8,445.7 L478.1,443.4 L479.3,441.2 L480.3,439.1 L481.3,437.0 L482.2,434.7 L482.5,432.4 L482.7,430.3 L482.6,428.5 L482.2,427.1Z"/>
<path d="M377.8,403.9 L376.3,404.7 L374.7,406.2 L373.0,408.1 L371.6,410.4 L370.5,412.8 L369.5,415.2 L369.0,417.6 L368.7,419.8 L368.7,421.9 L368.5,423.7 L368.3,425.3 L367.7,426.8 L366.6,428.5 L365.1,430.4 L363.4,432.4 L361.4,434.4 L359.6,436.4 L357.9,438.4 L356.6,440.3 L355.4,442.0 L354.2,443.7 L353.1,445.5 L352.2,447.3 L351.5,449.4 L351.2,451.6 L351.4,453.8 L351.7,455.6 L351.9,457.0 L352.0,458.0 L351.7,458.8 L351.0,459.6 L349.7,460.8 L347.9,462.0 L346.0,463.3 L344.0,464.6 L342.2,466.1 L340.8,467.6 L339.5,469.1 L338.4,470.6 L337.4,472.0 L336.5,473.4 L335.8,474.8 L335.4,476.3 L335.2,477.8 L335.1,479.1 L335.2,480.2 L335.4,481.2 L335.8,481.9 L336.2,482.1 L337.0,481.6 L337.5,480.8 L338.1,479.9 L338.7,479.0 L339.4,478.1 L340.2,477.2 L340.9,476.1 L341.7,474.9 L342.6,473.7 L343.6,472.4 L344.7,471.1 L345.8,469.9 L347.1,468.8 L348.9,467.6 L350.8,466.3 L352.8,464.9 L354.7,463.3 L356.3,461.2 L357.1,458.9 L357.1,456.6 L356.8,454.7 L356.5,453.0 L356.4,451.7 L356.5,450.6 L357.0,449.4 L357.7,448.0 L358.6,446.5 L359.6,445.0 L360.8,443.3 L362.1,441.6 L363.5,439.8 L365.2,437.9 L367.1,435.9 L369.1,433.8 L370.9,431.5 L372.3,429.2 L373.2,426.7 L373.7,424.3 L373.8,422.1 L373.9,420.2 L374.1,418.4 L374.5,416.8 L375.2,414.9 L376.2,412.7 L377.2,410.4 L377.9,408.0 L378.3,405.9 L378.2,404.1Z"/>
<path d="M356.0,462.2 L357.7,462.9 L359.8,463.3 L362.4,463.5 L365.2,463.3 L367.9,462.8 L370.5,462.4 L372.9,461.8 L375.4,461.1 L377.8,460.4 L380.2,459.7 L382.5,459.0 L384.7,458.3 L386.9,457.6 L389.1,456.9 L391.3,456.2 L393.3,455.5 L395.1,454.8 L396.7,454.2 L398.0,453.4 L399.2,452.7 L400.2,452.1 L401.0,451.5 L401.7,450.9 L402.1,450.2 L401.9,449.8 L401.2,449.5 L400.3,449.4 L399.3,449.4 L398.1,449.5 L396.8,449.7 L395.3,449.8 L393.6,450.3 L391.7,450.9 L389.7,451.6 L387.6,452.3 L385.4,453.0 L383.3,453.7 L381.1,454.4 L378.8,455.1 L376.4,455.8 L374.1,456.5 L371.8,457.1 L369.5,457.6 L367.1,458.1 L364.5,458.5 L361.8,459.0 L359.4,459.9 L357.4,460.7 L356.0,461.8Z"/>
<path d="M365.8,476.0 L364.5,477.8 L363.4,480.5 L362.5,483.7 L362.1,487.2 L361.7,490.7 L361.6,494.0 L361.7,496.9 L362.0,499.8 L362.4,502.5 L362.8,505.1 L363.2,507.7 L363.6,510.3 L364.0,513.0 L364.4,515.8 L364.7,518.6 L365.1,521.3 L365.4,523.8 L365.6,526.2 L365.8,528.5 L366.1,530.7 L366.2,532.6 L366.3,534.4 L366.1,535.8 L365.8,537.1 L365.1,538.4 L364.2,539.8 L363.0,541.0 L361.8,542.2 L360.4,543.1 L359.1,543.8 L357.6,544.2 L355.9,544.5 L354.0,544.6 L352.1,544.5 L350.4,544.2 L348.9,543.8 L347.5,543.1 L346.2,542.2 L344.9,541.2 L343.8,539.9 L342.9,538.6 L342.3,537.2 L341.9,535.6 L341.7,533.6 L341.7,531.3 L341.8,528.9 L342.1,526.6 L342.4,524.4 L342.8,522.3 L343.5,520.2 L344.0,517.9 L344.3,515.6 L344.5,513.7 L344.2,512.1 L343.8,511.9 L342.5,512.9 L341.3,514.4 L340.0,516.4 L338.9,518.7 L338.2,521.1 L337.6,523.6 L337.3,526.0 L337.0,528.5 L336.8,531.2 L336.9,533.8 L337.1,536.4 L337.7,538.8 L338.7,541.0 L340.0,542.9 L341.6,544.6 L343.3,546.1 L345.2,547.3 L347.1,548.2 L349.3,548.9 L351.6,549.3 L354.0,549.4 L356.4,549.3 L358.7,548.9 L360.9,548.2 L362.9,547.2 L364.7,546.0 L366.5,544.5 L368.0,542.7 L369.2,540.9 L370.2,538.9 L370.8,536.7 L371.1,534.5 L371.0,532.4 L370.8,530.2 L370.6,528.0 L370.4,525.8 L370.2,523.3 L369.9,520.7 L369.5,517.9 L369.1,515.2 L368.7,512.4 L368.4,509.7 L368.0,507.0 L367.6,504.3 L367.1,501.8 L366.8,499.2 L366.5,496.6 L366.4,494.0 L366.5,491.1 L366.8,487.7 L367.3,484.3 L367.3,481.0 L367.0,478.2 L366.2,476.0Z"/>
<path d="M340.0,537.8 L337.6,537.0 L334.4,536.7 L330.6,536.9 L326.7,537.3 L323.1,537.7 L320.0,537.8 L317.3,537.7 L314.7,537.4 L312.1,537.1 L309.7,537.2 L307.7,537.3 L306.0,537.8 L306.0,538.2 L307.3,539.3 L309.1,540.2 L311.4,541.1 L314.1,541.8 L317.0,542.1 L320.0,542.2 L323.4,542.1 L327.2,541.8 L331.1,541.3 L334.8,540.6 L337.9,539.5 L340.0,538.2Z"/>
<path d="M415.9,486.2 L417.4,487.8 L419.8,489.3 L422.7,490.8 L425.8,491.9 L428.6,493.0 L430.8,494.1 L432.1,495.1 L433.1,496.2 L434.0,497.6 L435.2,499.2 L436.8,500.9 L439.0,502.2 L441.6,503.1 L444.4,503.7 L447.3,504.1 L450.4,504.4 L453.4,504.5 L456.2,504.4 L459.0,504.0 L461.6,503.3 L464.2,502.5 L466.5,501.7 L468.7,500.9 L470.6,500.3 L472.5,499.9 L474.4,499.3 L476.2,498.6 L477.8,497.8 L479.1,497.1 L480.0,496.2 L480.0,495.8 L478.8,495.3 L477.3,495.1 L475.5,494.9 L473.6,494.9 L471.5,495.2 L469.4,495.7 L467.2,496.3 L464.9,497.1 L462.6,498.0 L460.3,498.7 L458.0,499.3 L455.8,499.6 L453.4,499.7 L450.7,499.6 L447.9,499.4 L445.3,499.0 L442.9,498.4 L441.0,497.8 L439.8,497.1 L438.9,496.2 L438.0,494.9 L436.9,493.3 L435.3,491.5 L433.2,489.9 L430.6,488.6 L427.5,487.4 L424.3,486.2 L421.1,485.6 L418.2,485.4 L416.1,485.8Z"/>
<path d="M455.9,501.8 L453.6,501.8 L450.8,502.5 L447.7,503.6 L444.6,505.2 L441.6,506.6 L439.0,507.8 L436.8,508.7 L434.8,509.5 L432.9,510.2 L431.0,510.8 L429.3,511.3 L427.6,511.6 L425.9,511.8 L424.1,512.1 L422.3,512.4 L420.6,512.7 L419.1,513.1 L418.0,513.8 L418.0,514.2 L419.0,515.0 L420.4,515.6 L422.2,516.1 L424.2,516.5 L426.3,516.6 L428.4,516.4 L430.4,515.9 L432.4,515.4 L434.4,514.8 L436.5,514.0 L438.7,513.2 L441.0,512.2 L443.6,511.0 L446.7,509.5 L449.8,507.9 L452.6,506.0 L454.8,504.0 L456.1,502.2Z"/>
<path d="M417.9,513.8 L416.0,513.9 L413.8,514.5 L411.3,515.4 L408.9,516.9 L406.6,518.4 L404.5,519.9 L402.6,521.4 L400.9,522.9 L399.3,524.3 L397.8,525.6 L396.3,526.8 L394.8,527.7 L393.2,528.4 L391.2,528.9 L389.0,529.3 L386.6,529.9 L384.3,530.7 L382.2,532.2 L380.7,534.4 L380.0,536.7 L380.2,539.1 L380.5,541.1 L381.1,542.8 L381.8,544.0 L382.2,544.0 L383.1,542.9 L383.8,541.3 L384.3,539.4 L385.0,537.8 L385.4,536.5 L385.8,535.8 L386.6,535.4 L388.0,534.9 L390.0,534.4 L392.4,533.9 L394.8,533.3 L397.2,532.3 L399.2,531.0 L401.0,529.6 L402.7,528.2 L404.3,526.8 L405.9,525.4 L407.5,524.1 L409.5,522.7 L411.7,521.2 L414.0,519.6 L415.8,517.6 L417.3,515.9 L418.1,514.2Z"/>
<path d="M383.9,534.2 L384.2,535.1 L384.9,536.0 L385.8,537.0 L386.8,538.0 L387.8,539.0 L388.8,539.8 L389.9,540.4 L391.2,541.0 L392.6,541.5 L393.8,541.9 L394.9,542.2 L395.9,542.2 L396.1,541.8 L395.8,540.9 L395.1,540.0 L394.2,539.0 L393.2,538.0 L392.2,537.0 L391.2,536.2 L390.1,535.6 L388.8,535.0 L387.4,534.5 L386.2,534.1 L385.1,533.8 L384.1,533.8Z"/>
<path d="M417.8,514.2 L418.2,515.6 L419.2,517.1 L420.3,518.8 L421.6,520.6 L423.1,522.1 L424.3,523.5 L425.5,524.8 L426.7,526.2 L428.1,527.5 L429.4,528.7 L430.6,529.6 L431.8,530.1 L432.2,529.9 L432.1,528.6 L431.6,527.2 L430.9,525.5 L430.0,523.7 L428.9,522.0 L427.7,520.5 L426.3,519.0 L424.8,517.5 L422.9,516.2 L421.1,515.0 L419.6,514.2 L418.2,513.8Z"/>
<path d="M395.8,555.9 L394.7,557.2 L393.9,559.0 L393.1,561.1 L392.3,563.1 L391.5,565.0 L390.4,566.5 L388.7,567.8 L386.5,569.2 L383.8,570.6 L380.9,571.8 L378.0,572.9 L375.3,573.9 L372.6,574.7 L369.7,575.3 L366.7,575.8 L363.9,576.7 L361.6,577.6 L360.0,578.8 L360.0,579.2 L361.9,579.8 L364.4,580.1 L367.3,580.2 L370.5,579.7 L373.7,579.0 L376.7,578.1 L379.6,577.1 L382.6,575.9 L385.7,574.6 L388.6,573.1 L391.3,571.4 L393.6,569.5 L395.3,567.2 L396.5,564.6 L396.9,561.9 L396.9,559.5 L396.7,557.5 L396.2,556.1Z"/>
<path d="M545.0,436.2 L546.8,437.0 L549.1,437.4 L551.9,437.7 L555.0,437.3 L558.2,436.9 L561.4,436.4 L565.0,435.6 L569.0,434.7 L573.1,433.7 L576.9,432.5 L580.0,430.9 L582.1,429.2 L581.9,428.8 L579.3,428.2 L575.8,428.3 L571.9,429.0 L567.9,430.0 L563.9,430.9 L560.6,431.6 L557.5,432.2 L554.4,432.6 L551.4,433.0 L548.8,433.8 L546.6,434.7 L545.0,435.8Z"/>
<path d="M544.8,438.1 L544.3,440.0 L544.5,442.5 L544.7,445.3 L545.4,448.0 L545.8,450.1 L545.7,451.4 L545.4,451.8 L544.6,452.4 L543.4,453.0 L541.8,453.6 L540.0,454.1 L538.3,454.7 L536.7,455.2 L534.9,455.5 L533.0,455.8 L531.1,456.1 L529.2,456.3 L527.4,456.7 L525.6,457.3 L523.9,458.1 L522.6,458.8 L521.9,459.1 L522.3,459.2 L523.2,460.1 L523.2,459.6 L523.5,457.6 L523.9,455.1 L523.9,452.3 L523.8,449.8 L523.2,448.0 L522.8,448.0 L521.6,449.3 L520.4,451.5 L519.2,454.2 L518.7,456.9 L518.4,459.5 L518.8,461.9 L520.9,463.8 L523.2,463.8 L524.7,463.1 L526.1,462.4 L527.4,461.7 L528.6,461.3 L530.0,461.1 L531.8,460.8 L533.7,460.6 L535.8,460.3 L537.8,459.8 L539.7,459.3 L541.5,458.7 L543.3,458.2 L545.3,457.5 L547.3,456.5 L549.1,454.9 L550.3,452.6 L550.6,449.9 L550.1,447.0 L549.4,444.0 L548.0,441.4 L546.6,439.3 L545.2,437.9Z"/>
<path d="M578.9,445.2 L579.7,446.5 L581.1,447.9 L582.9,449.3 L584.9,450.7 L587.3,451.6 L589.7,452.2 L592.2,452.3 L594.7,452.0 L597.1,451.2 L599.2,450.2 L600.9,449.3 L602.1,448.2 L601.9,447.8 L600.4,447.3 L598.5,447.3 L596.3,447.4 L594.0,447.6 L592.0,447.8 L590.3,447.8 L588.7,447.4 L586.8,446.6 L584.6,445.9 L582.5,445.3 L580.7,444.8 L579.1,444.8Z"/>
<path d="M581.8,449.8 L580.2,450.2 L578.5,451.1 L576.5,452.3 L574.5,453.7 L572.5,455.5 L570.5,457.1 L568.3,458.8 L566.0,460.6 L563.6,462.4 L561.0,464.3 L558.4,466.2 L555.6,468.0 L552.8,469.9 L549.9,472.0 L546.9,474.0 L543.9,475.9 L541.0,477.5 L538.1,478.8 L535.3,479.7 L532.5,480.3 L529.7,480.8 L526.8,481.1 L523.8,481.4 L520.8,481.6 L517.8,481.8 L514.6,481.9 L511.4,482.0 L508.4,481.9 L505.6,481.8 L503.2,481.6 L501.2,481.4 L499.5,481.1 L498.2,480.9 L497.3,480.5 L496.5,480.1 L495.9,479.5 L495.3,478.5 L494.8,476.9 L494.0,474.9 L493.1,472.9 L492.3,471.1 L491.2,470.0 L490.8,470.0 L490.2,471.5 L490.0,473.4 L489.9,475.7 L490.1,478.2 L490.9,480.5 L492.1,482.5 L493.6,483.9 L495.2,484.9 L496.9,485.5 L498.7,485.9 L500.6,486.2 L502.8,486.4 L505.3,486.6 L508.3,486.7 L511.4,486.8 L514.7,486.7 L518.0,486.6 L521.2,486.4 L524.2,486.2 L527.2,485.9 L530.3,485.6 L533.5,485.1 L536.7,484.3 L539.9,483.2 L543.1,481.8 L546.3,480.0 L549.5,478.0 L552.6,476.0 L555.5,473.9 L558.4,472.0 L561.1,470.1 L563.8,468.2 L566.4,466.3 L568.9,464.4 L571.3,462.6 L573.5,460.9 L575.6,459.1 L577.7,457.3 L579.4,455.4 L580.7,453.4 L581.7,451.7 L582.2,450.2Z"/>
<path d="M598.8,450.1 L598.7,450.9 L598.8,451.8 L599.0,452.9 L599.2,454.1 L599.5,455.2 L599.8,456.3 L600.4,457.2 L601.1,458.2 L601.8,459.1 L602.5,460.0 L603.1,460.7 L603.8,461.1 L604.2,460.9 L604.3,460.1 L604.2,459.2 L604.0,458.1 L603.8,456.9 L603.5,455.8 L603.2,454.7 L602.6,453.8 L601.9,452.8 L601.2,451.9 L600.5,451.0 L599.9,450.3 L599.2,449.9Z"/>
<path d="M578.9,393.2 L580.2,394.7 L582.3,396.2 L584.8,397.8 L587.7,398.9 L590.4,399.8 L592.9,400.2 L595.1,399.8 L596.8,398.7 L597.9,397.4 L598.6,396.1 L599.0,395.1 L599.2,394.2 L598.8,393.8 L597.9,394.0 L596.9,394.6 L595.9,395.2 L594.9,395.7 L594.0,395.9 L593.1,395.8 L591.5,395.5 L589.1,394.7 L586.4,393.7 L583.6,393.1 L581.0,392.6 L579.1,392.8Z"/>
<path d="M590.8,398.1 L590.8,399.7 L591.2,401.7 L591.9,404.0 L592.9,406.3 L594.1,408.4 L595.1,410.2 L596.1,411.7 L597.4,413.0 L598.6,414.1 L599.8,415.1 L600.8,415.8 L601.8,416.1 L602.2,415.9 L602.1,414.8 L601.7,413.6 L601.1,412.3 L600.5,410.8 L599.8,409.3 L598.9,407.8 L597.9,406.2 L596.8,404.2 L595.4,402.1 L593.9,400.3 L592.6,398.8 L591.2,397.9Z"/>
<path d="M459.9,497.2 L461.0,498.2 L462.7,499.0 L464.7,500.0 L466.9,500.7 L469.1,501.0 L471.2,501.0 L473.1,500.5 L474.7,499.5 L476.0,498.3 L477.0,497.1 L477.7,496.1 L478.1,495.2 L477.9,494.8 L476.8,494.9 L475.7,495.4 L474.4,495.9 L473.1,496.5 L471.8,496.8 L470.8,497.0 L469.4,497.0 L467.6,496.7 L465.5,496.5 L463.3,496.4 L461.5,496.4 L460.1,496.8Z"/>
<circle cx="482" cy="427" r="3.2"/><circle cx="450" cy="414" r="2.8"/><circle cx="482" cy="427" r="3.2"/><circle cx="482" cy="427" r="3.2"/><circle cx="356" cy="462" r="3.0"/><circle cx="340" cy="538" r="2.8"/><circle cx="480" cy="496" r="3.0"/><circle cx="456" cy="502" r="3.0"/><circle cx="418" cy="514" r="3.0"/><circle cx="418" cy="514" r="3.2"/><circle cx="384" cy="534" r="2.8"/><circle cx="418" cy="514" r="2.8"/><circle cx="545" cy="436" r="3.0"/><circle cx="545" cy="438" r="3.0"/><circle cx="602" cy="448" r="2.8"/><circle cx="599" cy="450" r="2.5"/><circle cx="591" cy="398" r="2.8"/><circle cx="478" cy="495" r="2.5"/></g>
<clipPath id="cu"><path d="M712.0,299.0 C715.3,298.7 721.3,301.3 725.0,304.0 C728.7,306.7 731.0,310.2 734.0,315.0 C737.0,319.8 739.3,327.8 743.0,333.0 C746.7,338.2 752.3,342.3 756.0,346.0 C759.7,349.7 762.8,350.7 765.0,355.0 C767.2,359.3 768.7,366.2 769.0,372.0 C769.3,377.8 767.8,385.2 767.0,390.0 C766.2,394.8 764.3,397.3 764.0,401.0 C763.7,404.7 765.2,407.5 765.0,412.0 C764.8,416.5 764.8,422.2 763.0,428.0 C761.2,433.8 758.2,441.7 754.0,447.0 C749.8,452.3 743.2,456.8 738.0,460.0 C732.8,463.2 728.8,464.7 723.0,466.0 C717.2,467.3 709.2,467.2 703.0,468.0 C696.8,468.8 691.8,470.2 686.0,471.0 C680.2,471.8 673.5,473.0 668.0,473.0 C662.5,473.0 658.2,472.3 653.0,471.0 C647.8,469.7 641.8,467.5 637.0,465.0 C632.2,462.5 628.0,458.7 624.0,456.0 C620.0,453.3 615.3,452.3 613.0,449.0 C610.7,445.7 610.0,440.3 610.0,436.0 C610.0,431.7 611.0,427.0 613.0,423.0 C615.0,419.0 619.0,416.0 622.0,412.0 C625.0,408.0 627.0,403.0 631.0,399.0 C635.0,395.0 639.8,391.7 646.0,388.0 C652.2,384.3 661.8,381.0 668.0,377.0 C674.2,373.0 679.0,368.5 683.0,364.0 C687.0,359.5 689.3,354.5 692.0,350.0 C694.7,345.5 697.5,342.0 699.0,337.0 C700.5,332.0 700.0,325.2 701.0,320.0 C702.0,314.8 703.2,309.5 705.0,306.0 C706.8,302.5 708.7,299.3 712.0,299.0Z"/></clipPath>
<path d="M712.0,299.0 C715.3,298.7 721.3,301.3 725.0,304.0 C728.7,306.7 731.0,310.2 734.0,315.0 C737.0,319.8 739.3,327.8 743.0,333.0 C746.7,338.2 752.3,342.3 756.0,346.0 C759.7,349.7 762.8,350.7 765.0,355.0 C767.2,359.3 768.7,366.2 769.0,372.0 C769.3,377.8 767.8,385.2 767.0,390.0 C766.2,394.8 764.3,397.3 764.0,401.0 C763.7,404.7 765.2,407.5 765.0,412.0 C764.8,416.5 764.8,422.2 763.0,428.0 C761.2,433.8 758.2,441.7 754.0,447.0 C749.8,452.3 743.2,456.8 738.0,460.0 C732.8,463.2 728.8,464.7 723.0,466.0 C717.2,467.3 709.2,467.2 703.0,468.0 C696.8,468.8 691.8,470.2 686.0,471.0 C680.2,471.8 673.5,473.0 668.0,473.0 C662.5,473.0 658.2,472.3 653.0,471.0 C647.8,469.7 641.8,467.5 637.0,465.0 C632.2,462.5 628.0,458.7 624.0,456.0 C620.0,453.3 615.3,452.3 613.0,449.0 C610.7,445.7 610.0,440.3 610.0,436.0 C610.0,431.7 611.0,427.0 613.0,423.0 C615.0,419.0 619.0,416.0 622.0,412.0 C625.0,408.0 627.0,403.0 631.0,399.0 C635.0,395.0 639.8,391.7 646.0,388.0 C652.2,384.3 661.8,381.0 668.0,377.0 C674.2,373.0 679.0,368.5 683.0,364.0 C687.0,359.5 689.3,354.5 692.0,350.0 C694.7,345.5 697.5,342.0 699.0,337.0 C700.5,332.0 700.0,325.2 701.0,320.0 C702.0,314.8 703.2,309.5 705.0,306.0 C706.8,302.5 708.7,299.3 712.0,299.0Z" fill="#75749c"/>
<g clip-path="url(#cu)" fill="none" stroke="#6d6c93" stroke-linecap="round" stroke-linejoin="round">
<path d="M712.0,299.0 C715.3,298.7 721.3,301.3 725.0,304.0 C728.7,306.7 731.0,310.2 734.0,315.0 C737.0,319.8 739.3,327.8 743.0,333.0 C746.7,338.2 752.3,342.3 756.0,346.0 C759.7,349.7 762.8,350.7 765.0,355.0 C767.2,359.3 768.7,366.2 769.0,372.0 C769.3,377.8 767.8,385.2 767.0,390.0 C766.2,394.8 764.3,397.3 764.0,401.0 C763.7,404.7 765.2,407.5 765.0,412.0 C764.8,416.5 764.8,422.2 763.0,428.0 C761.2,433.8 758.2,441.7 754.0,447.0 C749.8,452.3 743.2,456.8 738.0,460.0 C732.8,463.2 728.8,464.7 723.0,466.0 C717.2,467.3 709.2,467.2 703.0,468.0 C696.8,468.8 691.8,470.2 686.0,471.0 C680.2,471.8 673.5,473.0 668.0,473.0 C662.5,473.0 658.2,472.3 653.0,471.0 C647.8,469.7 641.8,467.5 637.0,465.0 C632.2,462.5 628.0,458.7 624.0,456.0 C620.0,453.3 615.3,452.3 613.0,449.0 C610.7,445.7 610.0,440.3 610.0,436.0 C610.0,431.7 611.0,427.0 613.0,423.0 C615.0,419.0 619.0,416.0 622.0,412.0 C625.0,408.0 627.0,403.0 631.0,399.0 C635.0,395.0 639.8,391.7 646.0,388.0 C652.2,384.3 661.8,381.0 668.0,377.0 C674.2,373.0 679.0,368.5 683.0,364.0 C687.0,359.5 689.3,354.5 692.0,350.0 C694.7,345.5 697.5,342.0 699.0,337.0 C700.5,332.0 700.0,325.2 701.0,320.0 C702.0,314.8 703.2,309.5 705.0,306.0 C706.8,302.5 708.7,299.3 712.0,299.0Z" stroke-width="8"/>
<path d="M703.0,304.0 C703.3,305.8 702.8,313.2 705.0,315.0 C707.2,316.8 714.2,315.0 716.0,315.0" stroke-width="10"/>
<path d="M730.0,344.0 C730.7,345.8 731.8,351.0 734.0,355.0 C736.2,359.0 740.8,364.7 743.0,368.0 C745.2,371.3 744.8,372.0 747.0,375.0 C749.2,378.0 753.3,383.5 756.0,386.0 C758.7,388.5 761.8,389.3 763.0,390.0" stroke-width="10"/>
<path d="M732.0,353.0 C730.2,354.3 722.8,359.7 721.0,361.0" stroke-width="10"/>
<path d="M708.0,364.0 C707.5,364.7 707.3,366.2 705.0,368.0 C702.7,369.8 697.7,372.8 694.0,375.0 C690.3,377.2 685.8,379.2 683.0,381.0 C680.2,382.8 678.8,383.8 677.0,386.0 C675.2,388.2 673.2,391.2 672.0,394.0 C670.8,396.8 671.0,400.0 670.0,403.0 C669.0,406.0 666.3,409.0 666.0,412.0 C665.7,415.0 667.7,419.5 668.0,421.0" stroke-width="10"/>
<path d="M681.0,383.0 C681.8,384.2 685.2,388.8 686.0,390.0" stroke-width="10"/>
<path d="M723.0,372.0 C723.3,373.5 723.2,378.0 725.0,381.0 C726.8,384.0 731.8,386.3 734.0,390.0 C736.2,393.7 735.8,399.0 738.0,403.0 C740.2,407.0 744.7,410.7 747.0,414.0 C749.3,417.3 751.2,421.5 752.0,423.0" stroke-width="10"/>
<path d="M637.0,394.0 C637.3,395.5 637.8,399.7 639.0,403.0 C640.2,406.3 643.2,411.0 644.0,414.0 C644.8,417.0 645.5,419.2 644.0,421.0 C642.5,422.8 638.3,423.5 635.0,425.0 C631.7,426.5 626.5,428.5 624.0,430.0 C621.5,431.5 620.7,433.3 620.0,434.0" stroke-width="10"/>
<path d="M697.0,405.0 C697.7,406.8 700.0,412.3 701.0,416.0 C702.0,419.7 704.8,424.0 703.0,427.0 C701.2,430.0 693.7,433.5 690.0,434.0 C686.3,434.5 684.0,429.3 681.0,430.0 C678.0,430.7 674.5,435.8 672.0,438.0 C669.5,440.2 667.0,442.2 666.0,443.0" stroke-width="10"/>
<path d="M703.0,427.0 C705.2,427.5 712.0,429.2 716.0,430.0 C720.0,430.8 723.3,430.7 727.0,432.0 C730.7,433.3 735.3,434.7 738.0,438.0 C740.7,441.3 742.2,449.7 743.0,452.0" stroke-width="10"/>
<path d="M618.0,432.0 C620.5,430.5 629.3,425.0 633.0,423.0 C636.7,421.0 638.8,420.5 640.0,420.0" stroke-width="10"/>
<path d="M628.0,400.0 C626.3,402.5 620.5,409.7 618.0,415.0 C615.5,420.3 613.3,426.5 613.0,432.0 C612.7,437.5 615.5,445.3 616.0,448.0" stroke="#646389" stroke-width="14"/>
<path d="M615.0,452.0 C619.2,454.7 630.8,464.3 640.0,468.0 C649.2,471.7 660.0,473.3 670.0,474.0 C680.0,474.7 690.0,473.7 700.0,472.0 C710.0,470.3 721.3,468.0 730.0,464.0 C738.7,460.0 746.7,453.7 752.0,448.0 C757.3,442.3 760.3,433.0 762.0,430.0" stroke="#62618a" stroke-width="20"/>
<path d="M717.0,320.0 C718.7,323.5 722.8,335.0 727.0,341.0 C731.2,347.0 737.3,351.8 742.0,356.0 C746.7,360.2 751.7,363.0 755.0,366.0 C758.3,369.0 760.8,372.7 762.0,374.0" stroke="#7f7ea6" stroke-width="6"/>
<path d="M689.0,389.0 C691.7,387.0 705.7,382.8 712.0,384.0 C718.3,385.2 723.7,390.5 727.0,396.0 C730.3,401.5 733.7,415.2 732.0,417.0 C730.3,418.8 723.0,410.5 717.0,407.0 C711.0,403.5 700.7,399.0 696.0,396.0 C691.3,393.0 686.3,391.0 689.0,389.0Z" fill="#7f7ea6" stroke="none"/>
</g>
<g fill="#3b3a4a">
<path d="M702.8,304.0 L702.2,305.4 L701.8,307.3 L701.5,309.7 L701.6,312.1 L702.2,314.5 L703.7,316.6 L706.0,317.6 L708.4,317.9 L710.8,317.5 L713.0,316.8 L714.8,316.0 L716.0,315.2 L716.0,314.8 L714.6,314.2 L712.6,314.0 L710.5,313.9 L708.4,313.8 L706.9,313.7 L706.3,313.4 L706.0,312.9 L705.6,311.4 L705.1,309.3 L704.6,307.2 L704.0,305.3 L703.2,304.0Z"/>
<path d="M729.8,344.1 L729.6,345.4 L729.7,347.1 L730.0,349.2 L730.4,351.4 L731.3,353.7 L732.4,355.9 L733.7,358.1 L735.3,360.5 L737.0,362.9 L738.7,365.1 L740.2,367.2 L741.4,369.0 L742.3,370.4 L742.9,371.5 L743.3,372.4 L743.8,373.5 L744.5,374.7 L745.5,376.1 L746.7,377.8 L748.2,379.8 L749.9,381.9 L751.5,383.9 L753.2,385.8 L754.7,387.4 L756.3,388.6 L758.0,389.3 L759.5,389.8 L760.9,390.1 L762.0,390.3 L762.9,390.2 L763.1,389.8 L762.5,389.0 L761.7,388.3 L760.6,387.5 L759.5,386.7 L758.4,385.7 L757.3,384.6 L755.9,383.3 L754.4,381.5 L752.8,379.5 L751.2,377.5 L749.7,375.6 L748.5,373.9 L747.7,372.7 L747.1,371.7 L746.7,370.8 L746.2,369.8 L745.5,368.5 L744.6,367.0 L743.3,365.1 L741.7,362.9 L740.0,360.6 L738.3,358.3 L736.8,356.1 L735.6,354.1 L734.7,352.2 L733.9,350.1 L732.9,348.2 L732.0,346.4 L731.2,344.9 L730.2,343.9Z"/>
<path d="M731.9,352.8 L731.0,352.9 L730.1,353.3 L728.9,353.8 L727.8,354.4 L726.6,355.1 L725.5,355.6 L724.6,356.5 L723.7,357.4 L722.7,358.3 L721.9,359.2 L721.2,360.1 L720.9,360.8 L721.1,361.2 L722.0,361.1 L722.9,360.7 L724.1,360.2 L725.2,359.6 L726.4,358.9 L727.5,358.4 L728.4,357.5 L729.3,356.6 L730.3,355.7 L731.1,354.8 L731.8,353.9 L732.1,353.2Z"/>
<path d="M707.8,363.9 L707.2,364.1 L706.8,364.6 L706.3,365.0 L705.7,365.5 L705.0,366.1 L703.9,366.7 L702.5,367.4 L700.8,368.4 L698.9,369.6 L696.9,370.9 L694.9,372.1 L693.0,373.2 L691.1,374.3 L689.2,375.3 L687.2,376.3 L685.3,377.3 L683.5,378.3 L681.9,379.3 L680.6,380.2 L679.4,381.0 L678.3,381.8 L677.3,382.7 L676.4,383.6 L675.4,384.7 L674.5,385.9 L673.5,387.2 L672.5,388.7 L671.6,390.1 L670.8,391.7 L670.1,393.3 L669.6,394.9 L669.2,396.5 L668.9,398.1 L668.7,399.6 L668.4,401.0 L668.1,402.3 L667.5,403.6 L666.8,405.0 L666.0,406.5 L665.1,408.1 L664.4,409.9 L664.0,411.8 L664.0,413.8 L664.5,415.7 L665.3,417.5 L666.1,419.0 L666.9,420.3 L667.8,421.1 L668.2,420.9 L668.5,419.8 L668.4,418.3 L668.2,416.6 L668.1,414.9 L668.0,413.4 L668.0,412.2 L668.3,411.1 L668.8,409.9 L669.5,408.5 L670.4,407.0 L671.2,405.4 L671.9,403.7 L672.4,401.9 L672.7,400.3 L673.0,398.8 L673.2,397.3 L673.5,396.0 L673.9,394.7 L674.5,393.5 L675.2,392.2 L676.0,390.8 L676.8,389.6 L677.7,388.4 L678.6,387.3 L679.4,386.4 L680.1,385.6 L680.9,385.0 L681.8,384.3 L682.8,383.5 L684.1,382.7 L685.6,381.8 L687.3,380.9 L689.1,379.9 L691.1,378.9 L693.1,377.9 L695.0,376.8 L697.0,375.6 L699.0,374.4 L701.1,373.1 L703.0,371.9 L704.8,370.6 L706.1,369.3 L707.0,368.2 L707.7,367.1 L708.1,366.1 L708.3,365.3 L708.3,364.7 L708.2,364.1Z"/>
<path d="M680.8,383.1 L680.8,383.7 L681.1,384.3 L681.4,385.1 L681.7,385.8 L682.1,386.6 L682.4,387.3 L683.0,387.8 L683.6,388.4 L684.2,389.0 L684.8,389.5 L685.3,389.9 L685.8,390.1 L686.2,389.9 L686.2,389.3 L685.9,388.7 L685.6,387.9 L685.3,387.2 L684.9,386.4 L684.6,385.7 L684.0,385.2 L683.4,384.6 L682.8,384.0 L682.2,383.5 L681.7,383.1 L681.2,382.9Z"/>
<path d="M722.8,372.0 L722.4,373.1 L722.2,374.4 L722.1,376.1 L722.1,378.0 L722.5,380.1 L723.4,382.0 L724.8,383.7 L726.4,385.3 L728.2,386.7 L729.9,388.1 L731.3,389.5 L732.4,391.0 L733.1,392.6 L733.7,394.6 L734.2,396.8 L734.7,399.1 L735.3,401.5 L736.3,403.9 L737.7,406.1 L739.3,408.1 L741.1,410.0 L742.7,411.8 L744.2,413.5 L745.5,415.1 L746.5,416.7 L747.6,418.3 L748.8,419.9 L749.8,421.2 L750.8,422.4 L751.8,423.1 L752.2,422.9 L752.2,421.7 L751.9,420.2 L751.4,418.5 L750.7,416.6 L749.7,414.7 L748.5,412.9 L747.1,411.1 L745.5,409.3 L743.8,407.5 L742.2,405.7 L740.8,403.9 L739.7,402.1 L738.9,400.3 L738.3,398.2 L737.8,396.0 L737.3,393.7 L736.7,391.3 L735.6,389.0 L734.1,387.0 L732.4,385.3 L730.6,383.8 L728.9,382.4 L727.5,381.2 L726.6,380.0 L726.0,378.7 L725.4,377.3 L724.8,375.7 L724.3,374.2 L723.9,372.9 L723.2,372.0Z"/>
<path d="M636.8,394.0 L636.4,395.1 L636.3,396.5 L636.2,398.1 L636.3,399.9 L636.5,401.8 L637.1,403.7 L637.9,405.6 L638.8,407.6 L639.8,409.5 L640.8,411.4 L641.5,413.1 L642.1,414.6 L642.4,415.9 L642.7,417.1 L642.8,418.1 L642.8,418.8 L642.7,419.2 L642.5,419.7 L641.9,420.1 L640.9,420.7 L639.5,421.2 L637.8,421.8 L636.0,422.4 L634.2,423.1 L632.4,423.9 L630.4,424.8 L628.4,425.6 L626.4,426.5 L624.5,427.4 L623.1,428.4 L621.9,429.5 L621.0,430.6 L620.5,431.6 L620.1,432.5 L619.8,433.2 L619.8,433.8 L620.2,434.2 L620.9,434.0 L621.5,433.5 L622.2,433.0 L623.0,432.5 L623.9,432.0 L624.9,431.6 L626.4,431.0 L628.1,430.2 L630.0,429.4 L632.0,428.5 L634.0,427.7 L635.8,426.9 L637.4,426.2 L639.1,425.6 L640.9,425.0 L642.6,424.4 L644.2,423.5 L645.5,422.3 L646.5,420.9 L646.9,419.3 L646.9,417.8 L646.7,416.4 L646.4,414.9 L645.9,413.4 L645.3,411.6 L644.4,409.7 L643.4,407.7 L642.5,405.8 L641.6,403.9 L640.9,402.3 L640.4,400.7 L639.8,399.1 L639.2,397.5 L638.6,396.1 L638.0,394.8 L637.2,394.0Z"/>
<path d="M696.8,405.1 L696.6,406.5 L696.9,408.3 L697.2,410.4 L697.7,412.6 L698.5,414.7 L699.1,416.6 L699.7,418.6 L700.5,420.5 L701.1,422.3 L701.5,423.9 L701.5,425.1 L701.3,425.9 L700.3,427.0 L698.5,428.3 L696.3,429.6 L693.8,430.7 L691.5,431.6 L689.8,432.0 L688.8,431.9 L687.8,431.3 L686.5,430.3 L685.0,429.1 L683.0,428.1 L680.6,428.0 L678.4,428.9 L676.5,430.4 L674.8,432.0 L673.3,433.7 L671.9,435.3 L670.6,436.5 L669.5,437.6 L668.5,438.8 L667.6,440.0 L666.8,441.0 L666.2,441.9 L665.8,442.8 L666.2,443.2 L667.1,443.1 L668.1,442.6 L669.3,442.0 L670.6,441.3 L672.0,440.5 L673.4,439.5 L674.8,438.1 L676.3,436.5 L677.8,434.9 L679.2,433.4 L680.5,432.4 L681.4,432.0 L681.9,432.1 L682.7,432.6 L684.0,433.6 L685.6,434.8 L687.7,435.8 L690.2,436.0 L692.7,435.5 L695.4,434.5 L698.1,433.3 L700.7,431.7 L703.0,430.0 L704.7,428.1 L705.6,425.7 L705.5,423.4 L705.0,421.2 L704.3,419.1 L703.5,417.2 L702.9,415.4 L702.3,413.4 L701.6,411.2 L700.5,409.2 L699.4,407.4 L698.3,405.9 L697.2,404.9Z"/>
<path d="M702.9,427.2 L704.2,428.2 L706.1,429.1 L708.4,430.1 L710.9,430.8 L713.4,431.3 L715.6,431.8 L717.7,432.2 L719.6,432.4 L721.4,432.7 L723.1,432.9 L724.7,433.3 L726.4,433.8 L728.3,434.4 L730.2,435.1 L732.1,435.9 L733.8,436.9 L735.3,437.9 L736.5,439.1 L737.6,440.9 L738.5,443.2 L739.4,445.9 L740.6,448.4 L741.6,450.6 L742.8,452.1 L743.2,451.9 L743.4,450.1 L743.3,447.7 L743.0,444.8 L742.1,442.0 L740.9,439.2 L739.5,436.9 L737.7,435.1 L735.8,433.7 L733.7,432.6 L731.6,431.7 L729.5,430.9 L727.6,430.2 L725.7,429.6 L723.7,429.2 L721.9,429.0 L720.1,428.7 L718.2,428.5 L716.4,428.2 L714.2,427.7 L711.8,427.1 L709.2,426.7 L706.8,426.5 L704.6,426.5 L703.1,426.8Z"/>
<path d="M618.1,432.2 L620.3,431.8 L623.0,430.8 L626.0,429.3 L629.0,427.5 L631.7,425.9 L633.9,424.6 L635.4,423.6 L636.8,422.7 L637.9,422.0 L638.8,421.4 L639.6,420.9 L640.1,420.2 L639.9,419.8 L639.1,419.6 L638.2,419.7 L637.0,419.8 L635.6,420.1 L634.0,420.6 L632.1,421.4 L629.8,422.6 L627.1,424.3 L624.1,426.1 L621.4,428.1 L619.2,430.1 L617.9,431.8Z"/>
<circle cx="732" cy="353" r="2.1"/><circle cx="681" cy="383" r="2.1"/><circle cx="620" cy="434" r="2.5"/><circle cx="703" cy="427" r="2.3"/><circle cx="618" cy="432" r="2.3"/></g>
<path d="M468,383.5 L477,376 L483,369 L489,371.5 L497,376.5 L491,383 L490,389 L482,386.5Z" fill="#3d3b3e"/>
<g fill="none" stroke="#3d3b3e" stroke-linecap="round" stroke-linejoin="round">
<path d="M398.0,367.0 C398.3,367.2 397.7,368.2 400.0,368.0 C402.3,367.8 407.3,367.7 412.0,366.0 C416.7,364.3 423.3,360.3 428.0,358.0 C432.7,355.7 434.7,353.5 440.0,352.0 C445.3,350.5 453.3,349.5 460.0,349.0 C466.7,348.5 473.3,350.2 480.0,349.0 C486.7,347.8 493.7,342.8 500.0,342.0 C506.3,341.2 514.0,342.3 518.0,344.0 C522.0,345.7 522.7,348.3 524.0,352.0 C525.3,355.7 524.0,361.0 526.0,366.0 C528.0,371.0 532.3,378.0 536.0,382.0 C539.7,386.0 543.3,388.2 548.0,390.0 C552.7,391.8 558.7,392.0 564.0,393.0 C569.3,394.0 574.0,395.0 580.0,396.0 C586.0,397.0 593.3,398.3 600.0,399.0 C606.7,399.7 614.7,400.0 620.0,400.0 C625.3,400.0 630.0,399.2 632.0,399.0" stroke-width="2.8"/>
<path d="M282.0,500.0 C282.7,497.3 284.7,489.7 286.0,484.0 C287.3,478.3 287.3,471.0 290.0,466.0 C292.7,461.0 298.0,458.3 302.0,454.0 C306.0,449.7 311.0,444.0 314.0,440.0 C317.0,436.0 318.0,433.7 320.0,430.0 C322.0,426.3 324.0,421.3 326.0,418.0 C328.0,414.7 328.7,412.7 332.0,410.0 C335.3,407.3 341.7,404.0 346.0,402.0 C350.3,400.0 354.8,399.2 358.0,398.0 C361.2,396.8 363.8,396.7 365.5,395.0 C367.2,393.3 366.9,390.2 368.0,388.0 C369.1,385.8 370.2,383.4 372.0,382.0 C373.8,380.6 376.3,379.8 379.0,379.5 C381.7,379.2 384.7,379.1 388.0,380.0 C391.3,380.9 397.3,387.2 399.0,385.0 C400.7,382.8 398.2,370.0 398.0,367.0" stroke-width="1.6"/>
</g>

<g font-family="Liberation Sans, sans-serif" font-size="22.4" fill="#111" stroke="#111" stroke-width="0.25">
<text x="192.2" y="173.3">Frontal lobe</text>
<text x="594" y="173.3">Parietal lobe</text>
<text x="811.2" y="445.4">Occipital lobe</text>
<text x="801.6" y="531.2">Cerebellum</text>
<text x="87.8" y="562.5">Temporal lobe</text>
<text x="371.8" y="654.6">Spinal Cord</text>
</g>
<g stroke="#333" stroke-width="1.6" fill="none">
<line x1="249" y1="180.5" x2="249" y2="252"/>
<line x1="652.5" y1="180.5" x2="652.5" y2="252"/>
<line x1="741.5" y1="437.5" x2="805" y2="437.5"/>
<line x1="719.5" y1="523.8" x2="793" y2="523.8"/>
<line x1="233.5" y1="556" x2="307" y2="556"/>
<line x1="495" y1="649" x2="568" y2="649"/>
</g>
<g font-family="Liberation Sans, sans-serif" font-weight="bold" font-size="46.4" fill="#2b1e20" stroke="#2b1e20" stroke-width="1.0" letter-spacing="5.4">
<text transform="translate(291.7,79.3) scale(0.68,1)">Human</text>
<text transform="translate(428,79.3) scale(0.68,1)">Brain</text>
<text transform="translate(535.3,79.3) scale(0.68,1)">Anatomy</text>
</g>
</svg>
</body></html>
